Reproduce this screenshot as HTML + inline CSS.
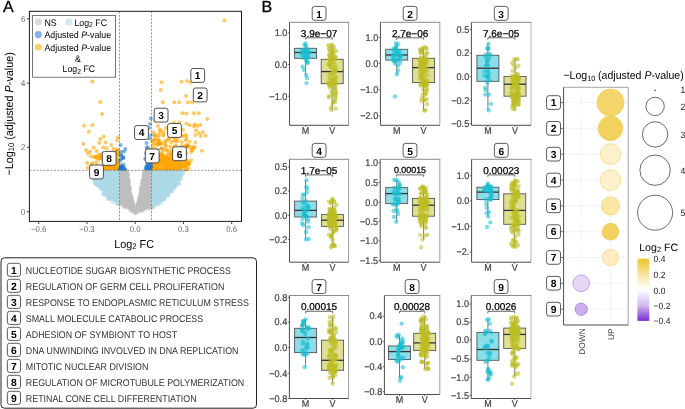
<!DOCTYPE html>
<html><head><meta charset="utf-8"><style>
html,body{margin:0;padding:0;background:#fff;width:685px;height:409px;overflow:hidden;}
svg{display:block;will-change:transform;}
text{font-family:"Liberation Sans",sans-serif;text-rendering:geometricPrecision;}
</style></head><body>
<svg width="685" height="409" viewBox="0 0 685 409" font-family="Liberation Sans, sans-serif">
<rect width="685" height="409" fill="#fff"/>
<clipPath id="clipA"><rect x="29.4" y="11.3" width="212.1" height="210.1"/></clipPath>
<g clip-path="url(#clipA)">
<clipPath id="clipTop"><rect x="29" y="10" width="215" height="161.2"/></clipPath>
<g clip-path="url(#clipTop)">
<polygon points="151.5,171.5 151.5,157.0 156.0,156.0 163.0,158.0 170.0,157.0 177.0,159.0 183.0,162.0 185.0,166.0 184.0,171.5" fill="#ffa500" fill-opacity="0.85"/>
<polygon points="119.5,171.5 101.0,171.5 102.0,166.0 107.0,163.0 113.0,162.0 117.0,159.0 119.5,158.0" fill="#ffa500"/>
<circle cx="164.9" cy="141.4" r="2.0" fill="#ffa500" fill-opacity="0.6"/>
<circle cx="173.7" cy="149.0" r="2.0" fill="#ffa500" fill-opacity="0.6"/>
<circle cx="153.9" cy="154.0" r="2.0" fill="#ffa500" fill-opacity="0.6"/>
<circle cx="153.1" cy="151.4" r="2.0" fill="#ffa500" fill-opacity="0.6"/>
<circle cx="154.4" cy="139.2" r="2.0" fill="#ffa500" fill-opacity="0.6"/>
<circle cx="169.1" cy="165.4" r="2.0" fill="#ffa500" fill-opacity="0.6"/>
<circle cx="156.6" cy="143.9" r="2.0" fill="#ffa500" fill-opacity="0.6"/>
<circle cx="177.5" cy="169.6" r="2.0" fill="#ffa500" fill-opacity="0.6"/>
<circle cx="175.4" cy="150.1" r="2.0" fill="#ffa500" fill-opacity="0.6"/>
<circle cx="187.1" cy="146.3" r="2.0" fill="#ffa500" fill-opacity="0.6"/>
<circle cx="157.5" cy="140.2" r="2.0" fill="#ffa500" fill-opacity="0.6"/>
<circle cx="164.3" cy="165.0" r="2.0" fill="#ffa500" fill-opacity="0.6"/>
<circle cx="159.0" cy="156.6" r="2.0" fill="#ffa500" fill-opacity="0.6"/>
<circle cx="178.0" cy="149.2" r="2.0" fill="#ffa500" fill-opacity="0.6"/>
<circle cx="154.0" cy="143.3" r="2.0" fill="#ffa500" fill-opacity="0.6"/>
<circle cx="179.7" cy="151.2" r="2.0" fill="#ffa500" fill-opacity="0.6"/>
<circle cx="164.5" cy="156.8" r="2.0" fill="#ffa500" fill-opacity="0.6"/>
<circle cx="170.3" cy="146.6" r="2.0" fill="#ffa500" fill-opacity="0.6"/>
<circle cx="184.5" cy="160.8" r="2.0" fill="#ffa500" fill-opacity="0.6"/>
<circle cx="161.6" cy="156.4" r="2.0" fill="#ffa500" fill-opacity="0.6"/>
<circle cx="173.3" cy="167.1" r="2.0" fill="#ffa500" fill-opacity="0.6"/>
<circle cx="181.8" cy="146.2" r="2.0" fill="#ffa500" fill-opacity="0.6"/>
<circle cx="168.9" cy="162.9" r="2.0" fill="#ffa500" fill-opacity="0.6"/>
<circle cx="157.8" cy="153.4" r="2.0" fill="#ffa500" fill-opacity="0.6"/>
<circle cx="153.1" cy="159.7" r="2.0" fill="#ffa500" fill-opacity="0.6"/>
<circle cx="183.2" cy="156.3" r="2.0" fill="#ffa500" fill-opacity="0.6"/>
<circle cx="187.8" cy="147.1" r="2.0" fill="#ffa500" fill-opacity="0.6"/>
<circle cx="180.4" cy="157.1" r="2.0" fill="#ffa500" fill-opacity="0.6"/>
<circle cx="175.6" cy="152.2" r="2.0" fill="#ffa500" fill-opacity="0.6"/>
<circle cx="186.4" cy="169.5" r="2.0" fill="#ffa500" fill-opacity="0.6"/>
<circle cx="171.2" cy="159.6" r="2.0" fill="#ffa500" fill-opacity="0.6"/>
<circle cx="154.0" cy="160.9" r="2.0" fill="#ffa500" fill-opacity="0.6"/>
<circle cx="178.4" cy="171.3" r="2.0" fill="#ffa500" fill-opacity="0.6"/>
<circle cx="185.6" cy="146.1" r="2.0" fill="#ffa500" fill-opacity="0.6"/>
<circle cx="167.5" cy="159.7" r="2.0" fill="#ffa500" fill-opacity="0.6"/>
<circle cx="152.4" cy="152.4" r="2.0" fill="#ffa500" fill-opacity="0.6"/>
<circle cx="158.5" cy="140.2" r="2.0" fill="#ffa500" fill-opacity="0.6"/>
<circle cx="153.9" cy="163.3" r="2.0" fill="#ffa500" fill-opacity="0.6"/>
<circle cx="156.9" cy="144.8" r="2.0" fill="#ffa500" fill-opacity="0.6"/>
<circle cx="167.7" cy="166.9" r="2.0" fill="#ffa500" fill-opacity="0.6"/>
<circle cx="154.8" cy="151.9" r="2.0" fill="#ffa500" fill-opacity="0.6"/>
<circle cx="174.3" cy="167.4" r="2.0" fill="#ffa500" fill-opacity="0.6"/>
<circle cx="185.5" cy="166.7" r="2.0" fill="#ffa500" fill-opacity="0.6"/>
<circle cx="163.1" cy="150.7" r="2.0" fill="#ffa500" fill-opacity="0.6"/>
<circle cx="166.4" cy="167.4" r="2.0" fill="#ffa500" fill-opacity="0.6"/>
<circle cx="158.8" cy="144.2" r="2.0" fill="#ffa500" fill-opacity="0.6"/>
<circle cx="161.2" cy="153.2" r="2.0" fill="#ffa500" fill-opacity="0.6"/>
<circle cx="175.9" cy="145.3" r="2.0" fill="#ffa500" fill-opacity="0.6"/>
<circle cx="151.7" cy="150.9" r="2.0" fill="#ffa500" fill-opacity="0.6"/>
<circle cx="166.8" cy="156.1" r="2.0" fill="#ffa500" fill-opacity="0.6"/>
<circle cx="191.1" cy="160.5" r="2.0" fill="#ffa500" fill-opacity="0.6"/>
<circle cx="172.9" cy="157.9" r="2.0" fill="#ffa500" fill-opacity="0.6"/>
<circle cx="188.8" cy="163.7" r="2.0" fill="#ffa500" fill-opacity="0.6"/>
<circle cx="187.8" cy="164.3" r="2.0" fill="#ffa500" fill-opacity="0.6"/>
<circle cx="167.8" cy="150.2" r="2.0" fill="#ffa500" fill-opacity="0.6"/>
<circle cx="155.8" cy="158.5" r="2.0" fill="#ffa500" fill-opacity="0.6"/>
<circle cx="160.2" cy="141.8" r="2.0" fill="#ffa500" fill-opacity="0.6"/>
<circle cx="155.7" cy="148.9" r="2.0" fill="#ffa500" fill-opacity="0.6"/>
<circle cx="152.6" cy="167.0" r="2.0" fill="#ffa500" fill-opacity="0.6"/>
<circle cx="177.0" cy="141.3" r="2.0" fill="#ffa500" fill-opacity="0.6"/>
<circle cx="162.0" cy="148.3" r="2.0" fill="#ffa500" fill-opacity="0.6"/>
<circle cx="166.6" cy="140.4" r="2.0" fill="#ffa500" fill-opacity="0.6"/>
<circle cx="186.7" cy="171.3" r="2.0" fill="#ffa500" fill-opacity="0.6"/>
<circle cx="170.8" cy="153.2" r="2.0" fill="#ffa500" fill-opacity="0.6"/>
<circle cx="155.1" cy="139.6" r="2.0" fill="#ffa500" fill-opacity="0.6"/>
<circle cx="165.7" cy="145.4" r="2.0" fill="#ffa500" fill-opacity="0.6"/>
<circle cx="152.5" cy="169.8" r="2.0" fill="#ffa500" fill-opacity="0.6"/>
<circle cx="173.4" cy="141.2" r="2.0" fill="#ffa500" fill-opacity="0.6"/>
<circle cx="173.4" cy="170.7" r="2.0" fill="#ffa500" fill-opacity="0.6"/>
<circle cx="187.3" cy="160.7" r="2.0" fill="#ffa500" fill-opacity="0.6"/>
<circle cx="162.3" cy="149.0" r="2.0" fill="#ffa500" fill-opacity="0.6"/>
<circle cx="158.4" cy="163.4" r="2.0" fill="#ffa500" fill-opacity="0.6"/>
<circle cx="173.6" cy="163.7" r="2.0" fill="#ffa500" fill-opacity="0.6"/>
<circle cx="165.2" cy="143.9" r="2.0" fill="#ffa500" fill-opacity="0.6"/>
<circle cx="185.2" cy="171.0" r="2.0" fill="#ffa500" fill-opacity="0.6"/>
<circle cx="186.9" cy="164.6" r="2.0" fill="#ffa500" fill-opacity="0.6"/>
<circle cx="185.5" cy="162.3" r="2.0" fill="#ffa500" fill-opacity="0.6"/>
<circle cx="160.9" cy="154.4" r="2.0" fill="#ffa500" fill-opacity="0.6"/>
<circle cx="152.7" cy="145.9" r="2.0" fill="#ffa500" fill-opacity="0.6"/>
<circle cx="162.3" cy="160.6" r="2.0" fill="#ffa500" fill-opacity="0.6"/>
<circle cx="191.2" cy="151.9" r="2.0" fill="#ffa500" fill-opacity="0.6"/>
<circle cx="191.1" cy="148.9" r="2.0" fill="#ffa500" fill-opacity="0.6"/>
<circle cx="160.6" cy="144.1" r="2.0" fill="#ffa500" fill-opacity="0.6"/>
<circle cx="159.7" cy="143.3" r="2.0" fill="#ffa500" fill-opacity="0.6"/>
<circle cx="177.4" cy="168.0" r="2.0" fill="#ffa500" fill-opacity="0.6"/>
<circle cx="186.4" cy="153.0" r="2.0" fill="#ffa500" fill-opacity="0.6"/>
<circle cx="178.6" cy="164.4" r="2.0" fill="#ffa500" fill-opacity="0.6"/>
<circle cx="155.0" cy="159.5" r="2.0" fill="#ffa500" fill-opacity="0.6"/>
<circle cx="189.3" cy="163.8" r="2.0" fill="#ffa500" fill-opacity="0.6"/>
<circle cx="182.6" cy="153.0" r="2.0" fill="#ffa500" fill-opacity="0.6"/>
<circle cx="158.9" cy="164.0" r="2.0" fill="#ffa500" fill-opacity="0.6"/>
<circle cx="165.3" cy="164.4" r="2.0" fill="#ffa500" fill-opacity="0.6"/>
<circle cx="191.8" cy="150.1" r="2.0" fill="#ffa500" fill-opacity="0.6"/>
<circle cx="168.2" cy="169.6" r="2.0" fill="#ffa500" fill-opacity="0.6"/>
<circle cx="181.6" cy="142.0" r="2.0" fill="#ffa500" fill-opacity="0.6"/>
<circle cx="185.4" cy="167.3" r="2.0" fill="#ffa500" fill-opacity="0.6"/>
<circle cx="157.0" cy="167.8" r="2.0" fill="#ffa500" fill-opacity="0.6"/>
<circle cx="188.3" cy="164.1" r="2.0" fill="#ffa500" fill-opacity="0.6"/>
<circle cx="164.6" cy="161.8" r="2.0" fill="#ffa500" fill-opacity="0.6"/>
<circle cx="187.9" cy="164.0" r="2.0" fill="#ffa500" fill-opacity="0.6"/>
<circle cx="171.2" cy="170.1" r="2.0" fill="#ffa500" fill-opacity="0.6"/>
<circle cx="167.8" cy="168.7" r="2.0" fill="#ffa500" fill-opacity="0.6"/>
<circle cx="182.5" cy="154.5" r="2.0" fill="#ffa500" fill-opacity="0.6"/>
<circle cx="160.9" cy="156.3" r="2.0" fill="#ffa500" fill-opacity="0.6"/>
<circle cx="160.5" cy="162.6" r="2.0" fill="#ffa500" fill-opacity="0.6"/>
<circle cx="161.2" cy="159.0" r="2.0" fill="#ffa500" fill-opacity="0.6"/>
<circle cx="156.4" cy="169.6" r="2.0" fill="#ffa500" fill-opacity="0.6"/>
<circle cx="164.8" cy="159.9" r="2.0" fill="#ffa500" fill-opacity="0.6"/>
<circle cx="173.4" cy="169.4" r="2.0" fill="#ffa500" fill-opacity="0.6"/>
<circle cx="167.3" cy="169.7" r="2.0" fill="#ffa500" fill-opacity="0.6"/>
<circle cx="170.3" cy="161.4" r="2.0" fill="#ffa500" fill-opacity="0.6"/>
<circle cx="171.1" cy="150.4" r="2.0" fill="#ffa500" fill-opacity="0.6"/>
<circle cx="168.0" cy="153.9" r="2.0" fill="#ffa500" fill-opacity="0.6"/>
<circle cx="151.6" cy="167.2" r="2.0" fill="#ffa500" fill-opacity="0.6"/>
<circle cx="158.0" cy="160.2" r="2.0" fill="#ffa500" fill-opacity="0.6"/>
<circle cx="178.7" cy="162.0" r="2.0" fill="#ffa500" fill-opacity="0.6"/>
<circle cx="163.7" cy="161.1" r="2.0" fill="#ffa500" fill-opacity="0.6"/>
<circle cx="172.3" cy="166.9" r="2.0" fill="#ffa500" fill-opacity="0.6"/>
<circle cx="155.5" cy="162.0" r="2.0" fill="#ffa500" fill-opacity="0.6"/>
<circle cx="160.8" cy="156.0" r="2.0" fill="#ffa500" fill-opacity="0.6"/>
<circle cx="180.5" cy="160.9" r="2.0" fill="#ffa500" fill-opacity="0.6"/>
<circle cx="172.6" cy="166.3" r="2.0" fill="#ffa500" fill-opacity="0.6"/>
<circle cx="185.7" cy="159.5" r="2.0" fill="#ffa500" fill-opacity="0.6"/>
<circle cx="174.5" cy="160.9" r="2.0" fill="#ffa500" fill-opacity="0.6"/>
<circle cx="170.7" cy="164.9" r="2.0" fill="#ffa500" fill-opacity="0.6"/>
<circle cx="168.5" cy="161.5" r="2.0" fill="#ffa500" fill-opacity="0.6"/>
<circle cx="169.4" cy="170.2" r="2.0" fill="#ffa500" fill-opacity="0.6"/>
<circle cx="177.7" cy="168.8" r="2.0" fill="#ffa500" fill-opacity="0.6"/>
<circle cx="172.5" cy="170.3" r="2.0" fill="#ffa500" fill-opacity="0.6"/>
<circle cx="183.0" cy="152.9" r="2.0" fill="#ffa500" fill-opacity="0.6"/>
<circle cx="156.1" cy="159.5" r="2.0" fill="#ffa500" fill-opacity="0.6"/>
<circle cx="154.2" cy="164.4" r="2.0" fill="#ffa500" fill-opacity="0.6"/>
<circle cx="180.9" cy="169.3" r="2.0" fill="#ffa500" fill-opacity="0.6"/>
<circle cx="157.3" cy="165.4" r="2.0" fill="#ffa500" fill-opacity="0.6"/>
<circle cx="176.3" cy="153.1" r="2.0" fill="#ffa500" fill-opacity="0.6"/>
<circle cx="184.6" cy="170.8" r="2.0" fill="#ffa500" fill-opacity="0.6"/>
<circle cx="159.7" cy="170.5" r="2.0" fill="#ffa500" fill-opacity="0.6"/>
<circle cx="166.4" cy="160.5" r="2.0" fill="#ffa500" fill-opacity="0.6"/>
<circle cx="188.6" cy="167.9" r="2.0" fill="#ffa500" fill-opacity="0.6"/>
<circle cx="157.6" cy="159.3" r="2.0" fill="#ffa500" fill-opacity="0.6"/>
<circle cx="170.8" cy="157.3" r="2.0" fill="#ffa500" fill-opacity="0.6"/>
<circle cx="158.8" cy="156.8" r="2.0" fill="#ffa500" fill-opacity="0.6"/>
<circle cx="172.3" cy="159.5" r="2.0" fill="#ffa500" fill-opacity="0.6"/>
<circle cx="174.9" cy="161.0" r="2.0" fill="#ffa500" fill-opacity="0.6"/>
<circle cx="153.9" cy="171.2" r="2.0" fill="#ffa500" fill-opacity="0.6"/>
<circle cx="181.1" cy="170.9" r="2.0" fill="#ffa500" fill-opacity="0.6"/>
<circle cx="153.0" cy="166.7" r="2.0" fill="#ffa500" fill-opacity="0.6"/>
<circle cx="167.3" cy="169.6" r="2.0" fill="#ffa500" fill-opacity="0.6"/>
<circle cx="182.2" cy="155.6" r="2.0" fill="#ffa500" fill-opacity="0.6"/>
<circle cx="157.1" cy="169.8" r="2.0" fill="#ffa500" fill-opacity="0.6"/>
<circle cx="172.9" cy="165.1" r="2.0" fill="#ffa500" fill-opacity="0.6"/>
<circle cx="177.3" cy="159.1" r="2.0" fill="#ffa500" fill-opacity="0.6"/>
<circle cx="154.2" cy="170.2" r="2.0" fill="#ffa500" fill-opacity="0.6"/>
<circle cx="175.3" cy="167.2" r="2.0" fill="#ffa500" fill-opacity="0.6"/>
<circle cx="154.6" cy="168.4" r="2.0" fill="#ffa500" fill-opacity="0.6"/>
<circle cx="154.0" cy="168.5" r="2.0" fill="#ffa500" fill-opacity="0.6"/>
<circle cx="168.5" cy="157.3" r="2.0" fill="#ffa500" fill-opacity="0.6"/>
<circle cx="172.2" cy="169.9" r="2.0" fill="#ffa500" fill-opacity="0.6"/>
<circle cx="171.3" cy="155.1" r="2.0" fill="#ffa500" fill-opacity="0.6"/>
<circle cx="163.2" cy="156.6" r="2.0" fill="#ffa500" fill-opacity="0.6"/>
<circle cx="180.0" cy="156.2" r="2.0" fill="#ffa500" fill-opacity="0.6"/>
<circle cx="170.3" cy="153.8" r="2.0" fill="#ffa500" fill-opacity="0.6"/>
<circle cx="179.0" cy="161.8" r="2.0" fill="#ffa500" fill-opacity="0.6"/>
<circle cx="158.6" cy="160.2" r="2.0" fill="#ffa500" fill-opacity="0.6"/>
<circle cx="182.2" cy="159.3" r="2.0" fill="#ffa500" fill-opacity="0.6"/>
<circle cx="170.1" cy="167.9" r="2.0" fill="#ffa500" fill-opacity="0.6"/>
<circle cx="166.2" cy="160.9" r="2.0" fill="#ffa500" fill-opacity="0.6"/>
<circle cx="177.3" cy="171.1" r="2.0" fill="#ffa500" fill-opacity="0.6"/>
<circle cx="164.4" cy="167.9" r="2.0" fill="#ffa500" fill-opacity="0.6"/>
<circle cx="178.0" cy="163.7" r="2.0" fill="#ffa500" fill-opacity="0.6"/>
<circle cx="166.7" cy="157.5" r="2.0" fill="#ffa500" fill-opacity="0.6"/>
<circle cx="154.2" cy="165.9" r="2.0" fill="#ffa500" fill-opacity="0.6"/>
<circle cx="154.7" cy="168.1" r="2.0" fill="#ffa500" fill-opacity="0.6"/>
<circle cx="184.1" cy="164.4" r="2.0" fill="#ffa500" fill-opacity="0.6"/>
<circle cx="162.1" cy="155.2" r="2.0" fill="#ffa500" fill-opacity="0.6"/>
<circle cx="162.5" cy="159.9" r="2.0" fill="#ffa500" fill-opacity="0.6"/>
<circle cx="157.4" cy="159.6" r="2.0" fill="#ffa500" fill-opacity="0.6"/>
<circle cx="161.4" cy="170.7" r="2.0" fill="#ffa500" fill-opacity="0.6"/>
<circle cx="188.0" cy="161.8" r="2.0" fill="#ffa500" fill-opacity="0.6"/>
<circle cx="160.7" cy="170.8" r="2.0" fill="#ffa500" fill-opacity="0.6"/>
<circle cx="163.1" cy="157.7" r="2.0" fill="#ffa500" fill-opacity="0.6"/>
<circle cx="169.3" cy="160.8" r="2.0" fill="#ffa500" fill-opacity="0.6"/>
<circle cx="159.0" cy="160.9" r="2.0" fill="#ffa500" fill-opacity="0.6"/>
<circle cx="154.9" cy="158.6" r="2.0" fill="#ffa500" fill-opacity="0.6"/>
<circle cx="162.9" cy="155.0" r="2.0" fill="#ffa500" fill-opacity="0.6"/>
<circle cx="173.5" cy="161.4" r="2.0" fill="#ffa500" fill-opacity="0.6"/>
<circle cx="179.6" cy="164.1" r="2.0" fill="#ffa500" fill-opacity="0.6"/>
<circle cx="178.3" cy="168.9" r="2.0" fill="#ffa500" fill-opacity="0.6"/>
<circle cx="166.1" cy="157.0" r="2.0" fill="#ffa500" fill-opacity="0.6"/>
<circle cx="178.7" cy="163.8" r="2.0" fill="#ffa500" fill-opacity="0.6"/>
<circle cx="153.1" cy="168.0" r="2.0" fill="#ffa500" fill-opacity="0.6"/>
<circle cx="184.9" cy="163.5" r="2.0" fill="#ffa500" fill-opacity="0.6"/>
<circle cx="179.0" cy="167.5" r="2.0" fill="#ffa500" fill-opacity="0.6"/>
<circle cx="156.7" cy="161.3" r="2.0" fill="#ffa500" fill-opacity="0.6"/>
<circle cx="170.4" cy="168.0" r="2.0" fill="#ffa500" fill-opacity="0.6"/>
<circle cx="181.7" cy="167.8" r="2.0" fill="#ffa500" fill-opacity="0.6"/>
<circle cx="173.4" cy="169.2" r="2.0" fill="#ffa500" fill-opacity="0.6"/>
<circle cx="177.1" cy="164.9" r="2.0" fill="#ffa500" fill-opacity="0.6"/>
<circle cx="156.5" cy="157.8" r="2.0" fill="#ffa500" fill-opacity="0.6"/>
<circle cx="155.4" cy="168.0" r="2.0" fill="#ffa500" fill-opacity="0.6"/>
<circle cx="172.4" cy="163.5" r="2.0" fill="#ffa500" fill-opacity="0.6"/>
<circle cx="175.0" cy="164.6" r="2.0" fill="#ffa500" fill-opacity="0.6"/>
<circle cx="181.4" cy="166.1" r="2.0" fill="#ffa500" fill-opacity="0.6"/>
<circle cx="170.4" cy="161.5" r="2.0" fill="#ffa500" fill-opacity="0.6"/>
<circle cx="176.2" cy="151.4" r="2.0" fill="#ffa500" fill-opacity="0.6"/>
<circle cx="185.9" cy="134.8" r="2.0" fill="#ffa500" fill-opacity="0.55"/>
<circle cx="155.4" cy="135.2" r="2.0" fill="#ffa500" fill-opacity="0.55"/>
<circle cx="174.7" cy="138.3" r="2.0" fill="#ffa500" fill-opacity="0.55"/>
<circle cx="174.0" cy="146.5" r="2.0" fill="#ffa500" fill-opacity="0.55"/>
<circle cx="187.3" cy="144.7" r="2.0" fill="#ffa500" fill-opacity="0.55"/>
<circle cx="158.8" cy="134.9" r="2.0" fill="#ffa500" fill-opacity="0.55"/>
<circle cx="186.2" cy="136.2" r="2.0" fill="#ffa500" fill-opacity="0.55"/>
<circle cx="154.8" cy="135.3" r="2.0" fill="#ffa500" fill-opacity="0.55"/>
<circle cx="182.9" cy="146.7" r="2.0" fill="#ffa500" fill-opacity="0.55"/>
<circle cx="183.1" cy="135.9" r="2.0" fill="#ffa500" fill-opacity="0.55"/>
<circle cx="175.8" cy="140.5" r="2.0" fill="#ffa500" fill-opacity="0.55"/>
<circle cx="152.8" cy="140.4" r="2.0" fill="#ffa500" fill-opacity="0.55"/>
<circle cx="172.7" cy="135.3" r="2.0" fill="#ffa500" fill-opacity="0.55"/>
<circle cx="161.7" cy="143.7" r="2.0" fill="#ffa500" fill-opacity="0.55"/>
<circle cx="158.5" cy="142.1" r="2.0" fill="#ffa500" fill-opacity="0.55"/>
<circle cx="189.7" cy="141.7" r="2.0" fill="#ffa500" fill-opacity="0.55"/>
<circle cx="192.8" cy="147.0" r="2.0" fill="#ffa500" fill-opacity="0.55"/>
<circle cx="152.2" cy="141.3" r="2.0" fill="#ffa500" fill-opacity="0.55"/>
<circle cx="172.7" cy="136.2" r="2.0" fill="#ffa500" fill-opacity="0.55"/>
<circle cx="158.5" cy="137.3" r="2.0" fill="#ffa500" fill-opacity="0.55"/>
<circle cx="166.5" cy="150.7" r="2.0" fill="#ffa500" fill-opacity="0.55"/>
<circle cx="152.1" cy="148.3" r="2.0" fill="#ffa500" fill-opacity="0.55"/>
<circle cx="194.6" cy="147.3" r="2.0" fill="#ffa500" fill-opacity="0.55"/>
<circle cx="169.1" cy="138.6" r="2.0" fill="#ffa500" fill-opacity="0.55"/>
<circle cx="168.6" cy="139.6" r="2.0" fill="#ffa500" fill-opacity="0.55"/>
<circle cx="156.7" cy="150.5" r="2.0" fill="#ffa500" fill-opacity="0.55"/>
<circle cx="163.5" cy="135.2" r="2.0" fill="#ffa500" fill-opacity="0.55"/>
<circle cx="175.5" cy="133.1" r="2.0" fill="#ffa500" fill-opacity="0.55"/>
<circle cx="192.7" cy="149.9" r="2.0" fill="#ffa500" fill-opacity="0.55"/>
<circle cx="195.3" cy="142.8" r="2.0" fill="#ffa500" fill-opacity="0.55"/>
<circle cx="185.7" cy="140.2" r="2.0" fill="#ffa500" fill-opacity="0.55"/>
<circle cx="186.6" cy="145.4" r="2.0" fill="#ffa500" fill-opacity="0.55"/>
<circle cx="173.7" cy="137.3" r="2.0" fill="#ffa500" fill-opacity="0.55"/>
<circle cx="165.7" cy="148.0" r="2.0" fill="#ffa500" fill-opacity="0.55"/>
<circle cx="182.2" cy="136.1" r="2.0" fill="#ffa500" fill-opacity="0.55"/>
<circle cx="177.6" cy="138.6" r="2.0" fill="#ffa500" fill-opacity="0.55"/>
<circle cx="159.7" cy="132.4" r="2.0" fill="#ffa500" fill-opacity="0.55"/>
<circle cx="174.9" cy="133.9" r="2.0" fill="#ffa500" fill-opacity="0.55"/>
<circle cx="160.9" cy="130.4" r="2.0" fill="#ffa500" fill-opacity="0.55"/>
<circle cx="163.0" cy="135.0" r="2.0" fill="#ffa500" fill-opacity="0.55"/>
<circle cx="178.2" cy="152.0" r="2.0" fill="#ffa500" fill-opacity="0.55"/>
<circle cx="186.5" cy="139.1" r="2.0" fill="#ffa500" fill-opacity="0.55"/>
<circle cx="171.0" cy="142.2" r="2.0" fill="#ffa500" fill-opacity="0.55"/>
<circle cx="169.3" cy="137.1" r="2.0" fill="#ffa500" fill-opacity="0.55"/>
<circle cx="154.9" cy="135.5" r="2.0" fill="#ffa500" fill-opacity="0.55"/>
<circle cx="118.5" cy="151.0" r="2.0" fill="#ffa500" fill-opacity="0.6"/>
<circle cx="104.9" cy="162.8" r="2.0" fill="#ffa500" fill-opacity="0.6"/>
<circle cx="115.5" cy="153.1" r="2.0" fill="#ffa500" fill-opacity="0.6"/>
<circle cx="101.8" cy="158.5" r="2.0" fill="#ffa500" fill-opacity="0.6"/>
<circle cx="118.1" cy="167.9" r="2.0" fill="#ffa500" fill-opacity="0.6"/>
<circle cx="91.0" cy="164.7" r="2.0" fill="#ffa500" fill-opacity="0.6"/>
<circle cx="116.4" cy="159.1" r="2.0" fill="#ffa500" fill-opacity="0.6"/>
<circle cx="101.5" cy="169.8" r="2.0" fill="#ffa500" fill-opacity="0.6"/>
<circle cx="114.4" cy="168.1" r="2.0" fill="#ffa500" fill-opacity="0.6"/>
<circle cx="118.7" cy="153.8" r="2.0" fill="#ffa500" fill-opacity="0.6"/>
<circle cx="105.4" cy="164.0" r="2.0" fill="#ffa500" fill-opacity="0.6"/>
<circle cx="117.8" cy="165.0" r="2.0" fill="#ffa500" fill-opacity="0.6"/>
<circle cx="109.1" cy="166.0" r="2.0" fill="#ffa500" fill-opacity="0.6"/>
<circle cx="103.5" cy="161.0" r="2.0" fill="#ffa500" fill-opacity="0.6"/>
<circle cx="91.2" cy="166.4" r="2.0" fill="#ffa500" fill-opacity="0.6"/>
<circle cx="96.9" cy="169.6" r="2.0" fill="#ffa500" fill-opacity="0.6"/>
<circle cx="109.0" cy="155.1" r="2.0" fill="#ffa500" fill-opacity="0.6"/>
<circle cx="108.8" cy="164.4" r="2.0" fill="#ffa500" fill-opacity="0.6"/>
<circle cx="105.5" cy="161.7" r="2.0" fill="#ffa500" fill-opacity="0.6"/>
<circle cx="98.9" cy="158.8" r="2.0" fill="#ffa500" fill-opacity="0.6"/>
<circle cx="118.3" cy="163.1" r="2.0" fill="#ffa500" fill-opacity="0.6"/>
<circle cx="116.1" cy="159.2" r="2.0" fill="#ffa500" fill-opacity="0.6"/>
<circle cx="118.3" cy="164.6" r="2.0" fill="#ffa500" fill-opacity="0.6"/>
<circle cx="104.7" cy="163.8" r="2.0" fill="#ffa500" fill-opacity="0.6"/>
<circle cx="102.4" cy="154.0" r="2.0" fill="#ffa500" fill-opacity="0.6"/>
<circle cx="109.7" cy="169.7" r="2.0" fill="#ffa500" fill-opacity="0.6"/>
<circle cx="100.0" cy="157.9" r="2.0" fill="#ffa500" fill-opacity="0.6"/>
<circle cx="110.1" cy="152.7" r="2.0" fill="#ffa500" fill-opacity="0.6"/>
<circle cx="113.5" cy="165.4" r="2.0" fill="#ffa500" fill-opacity="0.6"/>
<circle cx="118.6" cy="155.3" r="2.0" fill="#ffa500" fill-opacity="0.6"/>
<circle cx="114.2" cy="153.4" r="2.0" fill="#ffa500" fill-opacity="0.6"/>
<circle cx="96.5" cy="165.9" r="2.0" fill="#ffa500" fill-opacity="0.6"/>
<circle cx="98.7" cy="170.4" r="2.0" fill="#ffa500" fill-opacity="0.6"/>
<circle cx="96.6" cy="157.8" r="2.0" fill="#ffa500" fill-opacity="0.6"/>
<circle cx="109.6" cy="170.3" r="2.0" fill="#ffa500" fill-opacity="0.6"/>
<circle cx="94.3" cy="157.2" r="2.0" fill="#ffa500" fill-opacity="0.6"/>
<circle cx="96.3" cy="170.9" r="2.0" fill="#ffa500" fill-opacity="0.6"/>
<circle cx="116.5" cy="168.8" r="2.0" fill="#ffa500" fill-opacity="0.6"/>
<circle cx="111.6" cy="171.4" r="2.0" fill="#ffa500" fill-opacity="0.6"/>
<circle cx="117.5" cy="155.7" r="2.0" fill="#ffa500" fill-opacity="0.6"/>
<circle cx="95.5" cy="170.0" r="2.0" fill="#ffa500" fill-opacity="0.6"/>
<circle cx="109.6" cy="156.9" r="2.0" fill="#ffa500" fill-opacity="0.6"/>
<circle cx="101.0" cy="155.8" r="2.0" fill="#ffa500" fill-opacity="0.6"/>
<circle cx="98.3" cy="156.3" r="2.0" fill="#ffa500" fill-opacity="0.6"/>
<circle cx="118.2" cy="150.9" r="2.0" fill="#ffa500" fill-opacity="0.6"/>
<circle cx="118.4" cy="152.9" r="2.0" fill="#ffa500" fill-opacity="0.6"/>
<circle cx="100.5" cy="167.3" r="2.0" fill="#ffa500" fill-opacity="0.6"/>
<circle cx="114.2" cy="158.2" r="2.0" fill="#ffa500" fill-opacity="0.6"/>
<circle cx="101.0" cy="169.6" r="2.0" fill="#ffa500" fill-opacity="0.6"/>
<circle cx="95.7" cy="156.6" r="2.0" fill="#ffa500" fill-opacity="0.6"/>
<circle cx="102.1" cy="167.1" r="2.0" fill="#ffa500" fill-opacity="0.6"/>
<circle cx="117.1" cy="154.0" r="2.0" fill="#ffa500" fill-opacity="0.6"/>
<circle cx="112.0" cy="169.1" r="2.0" fill="#ffa500" fill-opacity="0.6"/>
<circle cx="100.0" cy="154.4" r="2.0" fill="#ffa500" fill-opacity="0.6"/>
<circle cx="118.3" cy="162.5" r="2.0" fill="#ffa500" fill-opacity="0.6"/>
<circle cx="92.3" cy="81.6" r="2.0" fill="#ffa500" fill-opacity="0.6"/>
<circle cx="100.2" cy="102.1" r="2.0" fill="#ffa500" fill-opacity="0.6"/>
<circle cx="102.1" cy="113.9" r="2.0" fill="#ffa500" fill-opacity="0.6"/>
<circle cx="84.1" cy="125.7" r="2.0" fill="#ffa500" fill-opacity="0.6"/>
<circle cx="92.5" cy="125.1" r="2.0" fill="#ffa500" fill-opacity="0.6"/>
<circle cx="88.9" cy="131.8" r="2.0" fill="#ffa500" fill-opacity="0.6"/>
<circle cx="103.9" cy="136.4" r="2.0" fill="#ffa500" fill-opacity="0.6"/>
<circle cx="100.3" cy="139.1" r="2.0" fill="#ffa500" fill-opacity="0.6"/>
<circle cx="118.1" cy="137.2" r="2.0" fill="#ffa500" fill-opacity="0.6"/>
<circle cx="117.1" cy="140.2" r="2.0" fill="#ffa500" fill-opacity="0.6"/>
<circle cx="83.3" cy="143.9" r="2.0" fill="#ffa500" fill-opacity="0.6"/>
<circle cx="99.2" cy="142.9" r="2.0" fill="#ffa500" fill-opacity="0.6"/>
<circle cx="105.7" cy="142.6" r="2.0" fill="#ffa500" fill-opacity="0.6"/>
<circle cx="111.1" cy="144.9" r="2.0" fill="#ffa500" fill-opacity="0.6"/>
<circle cx="93.8" cy="147.6" r="2.0" fill="#ffa500" fill-opacity="0.6"/>
<circle cx="103.3" cy="147.6" r="2.0" fill="#ffa500" fill-opacity="0.6"/>
<circle cx="106.6" cy="148.3" r="2.0" fill="#ffa500" fill-opacity="0.6"/>
<circle cx="86.0" cy="149.9" r="2.0" fill="#ffa500" fill-opacity="0.6"/>
<circle cx="90.1" cy="151.6" r="2.0" fill="#ffa500" fill-opacity="0.6"/>
<circle cx="96.5" cy="150.9" r="2.0" fill="#ffa500" fill-opacity="0.6"/>
<circle cx="113.3" cy="148.9" r="2.0" fill="#ffa500" fill-opacity="0.6"/>
<circle cx="116.7" cy="149.6" r="2.0" fill="#ffa500" fill-opacity="0.6"/>
<circle cx="87.8" cy="153.6" r="2.0" fill="#ffa500" fill-opacity="0.6"/>
<circle cx="91.1" cy="156.3" r="2.0" fill="#ffa500" fill-opacity="0.6"/>
<circle cx="95.2" cy="157.0" r="2.0" fill="#ffa500" fill-opacity="0.6"/>
<circle cx="98.5" cy="155.0" r="2.0" fill="#ffa500" fill-opacity="0.6"/>
<circle cx="98.5" cy="159.0" r="2.0" fill="#ffa500" fill-opacity="0.6"/>
<circle cx="87.1" cy="163.0" r="2.0" fill="#ffa500" fill-opacity="0.6"/>
<circle cx="92.5" cy="163.0" r="2.0" fill="#ffa500" fill-opacity="0.6"/>
<circle cx="96.5" cy="162.4" r="2.0" fill="#ffa500" fill-opacity="0.6"/>
<circle cx="87.8" cy="167.8" r="2.0" fill="#ffa500" fill-opacity="0.6"/>
<circle cx="224.4" cy="20.5" r="2.0" fill="#ffa500" fill-opacity="0.6"/>
<circle cx="161.5" cy="82.2" r="2.0" fill="#ffa500" fill-opacity="0.6"/>
<circle cx="160.8" cy="90.0" r="2.0" fill="#ffa500" fill-opacity="0.6"/>
<circle cx="181.6" cy="81.7" r="2.0" fill="#ffa500" fill-opacity="0.6"/>
<circle cx="187.0" cy="81.0" r="2.0" fill="#ffa500" fill-opacity="0.6"/>
<circle cx="190.7" cy="82.5" r="2.0" fill="#ffa500" fill-opacity="0.6"/>
<circle cx="162.8" cy="102.3" r="2.0" fill="#ffa500" fill-opacity="0.6"/>
<circle cx="174.3" cy="102.3" r="2.0" fill="#ffa500" fill-opacity="0.6"/>
<circle cx="179.2" cy="102.3" r="2.0" fill="#ffa500" fill-opacity="0.6"/>
<circle cx="187.7" cy="102.3" r="2.0" fill="#ffa500" fill-opacity="0.6"/>
<circle cx="192.1" cy="102.3" r="2.0" fill="#ffa500" fill-opacity="0.6"/>
<circle cx="186.1" cy="96.0" r="2.0" fill="#ffa500" fill-opacity="0.6"/>
<circle cx="182.5" cy="113.2" r="2.0" fill="#ffa500" fill-opacity="0.6"/>
<circle cx="186.5" cy="113.6" r="2.0" fill="#ffa500" fill-opacity="0.6"/>
<circle cx="193.9" cy="113.2" r="2.0" fill="#ffa500" fill-opacity="0.6"/>
<circle cx="198.8" cy="113.2" r="2.0" fill="#ffa500" fill-opacity="0.6"/>
<circle cx="207.2" cy="119.0" r="2.0" fill="#ffa500" fill-opacity="0.6"/>
<circle cx="174.3" cy="122.4" r="2.0" fill="#ffa500" fill-opacity="0.6"/>
<circle cx="179.2" cy="122.4" r="2.0" fill="#ffa500" fill-opacity="0.6"/>
<circle cx="186.5" cy="123.4" r="2.0" fill="#ffa500" fill-opacity="0.6"/>
<circle cx="189.6" cy="125.3" r="2.0" fill="#ffa500" fill-opacity="0.6"/>
<circle cx="194.9" cy="124.3" r="2.0" fill="#ffa500" fill-opacity="0.6"/>
<circle cx="197.4" cy="125.9" r="2.0" fill="#ffa500" fill-opacity="0.6"/>
<circle cx="200.3" cy="124.9" r="2.0" fill="#ffa500" fill-opacity="0.6"/>
<circle cx="193.9" cy="126.3" r="2.0" fill="#ffa500" fill-opacity="0.6"/>
<circle cx="195.8" cy="130.2" r="2.0" fill="#ffa500" fill-opacity="0.6"/>
<circle cx="198.8" cy="133.1" r="2.0" fill="#ffa500" fill-opacity="0.6"/>
<circle cx="202.7" cy="132.2" r="2.0" fill="#ffa500" fill-opacity="0.6"/>
<circle cx="205.6" cy="135.7" r="2.0" fill="#ffa500" fill-opacity="0.6"/>
<circle cx="195.4" cy="135.1" r="2.0" fill="#ffa500" fill-opacity="0.6"/>
<circle cx="200.7" cy="136.1" r="2.0" fill="#ffa500" fill-opacity="0.6"/>
<circle cx="159.7" cy="129.8" r="2.0" fill="#ffa500" fill-opacity="0.6"/>
<circle cx="163.6" cy="132.2" r="2.0" fill="#ffa500" fill-opacity="0.6"/>
<circle cx="153.8" cy="132.2" r="2.0" fill="#ffa500" fill-opacity="0.6"/>
<circle cx="202.1" cy="150.7" r="2.0" fill="#ffa500" fill-opacity="0.6"/>
<circle cx="193.9" cy="147.4" r="2.0" fill="#ffa500" fill-opacity="0.6"/>
<circle cx="189.0" cy="146.2" r="2.0" fill="#ffa500" fill-opacity="0.6"/>
<circle cx="155.0" cy="121.0" r="2.0" fill="#ffa500" fill-opacity="0.6"/>
<circle cx="158.0" cy="126.0" r="2.0" fill="#ffa500" fill-opacity="0.6"/>
<circle cx="166.0" cy="128.0" r="2.0" fill="#ffa500" fill-opacity="0.6"/>
<circle cx="170.0" cy="131.0" r="2.0" fill="#ffa500" fill-opacity="0.6"/>
<circle cx="176.0" cy="134.0" r="2.0" fill="#ffa500" fill-opacity="0.6"/>
<circle cx="183.0" cy="130.0" r="2.0" fill="#ffa500" fill-opacity="0.6"/>
<circle cx="121.2" cy="169.7" r="2.0" fill="#1f78d2" fill-opacity="0.6"/>
<circle cx="121.6" cy="166.8" r="2.0" fill="#1f78d2" fill-opacity="0.6"/>
<circle cx="119.5" cy="169.9" r="2.0" fill="#1f78d2" fill-opacity="0.6"/>
<circle cx="121.0" cy="168.1" r="2.0" fill="#1f78d2" fill-opacity="0.6"/>
<circle cx="125.7" cy="171.2" r="2.0" fill="#1f78d2" fill-opacity="0.6"/>
<circle cx="122.0" cy="166.6" r="2.0" fill="#1f78d2" fill-opacity="0.6"/>
<circle cx="122.3" cy="168.2" r="2.0" fill="#1f78d2" fill-opacity="0.6"/>
<circle cx="124.7" cy="169.8" r="2.0" fill="#1f78d2" fill-opacity="0.6"/>
<circle cx="124.8" cy="170.0" r="2.0" fill="#1f78d2" fill-opacity="0.6"/>
<circle cx="123.4" cy="167.1" r="2.0" fill="#1f78d2" fill-opacity="0.6"/>
<circle cx="121.6" cy="167.4" r="2.0" fill="#1f78d2" fill-opacity="0.6"/>
<circle cx="120.8" cy="169.9" r="2.0" fill="#1f78d2" fill-opacity="0.6"/>
<circle cx="121.1" cy="165.4" r="2.0" fill="#1f78d2" fill-opacity="0.6"/>
<circle cx="119.7" cy="168.6" r="2.0" fill="#1f78d2" fill-opacity="0.6"/>
<circle cx="121.6" cy="171.1" r="2.0" fill="#1f78d2" fill-opacity="0.55"/>
<circle cx="125.2" cy="171.2" r="2.0" fill="#1f78d2" fill-opacity="0.55"/>
<circle cx="121.2" cy="151.8" r="2.0" fill="#1f78d2" fill-opacity="0.55"/>
<circle cx="120.1" cy="160.7" r="2.0" fill="#1f78d2" fill-opacity="0.55"/>
<circle cx="121.0" cy="159.0" r="2.0" fill="#1f78d2" fill-opacity="0.55"/>
<circle cx="123.5" cy="164.5" r="2.0" fill="#1f78d2" fill-opacity="0.55"/>
<circle cx="124.4" cy="168.2" r="2.0" fill="#1f78d2" fill-opacity="0.55"/>
<circle cx="123.2" cy="158.0" r="2.0" fill="#1f78d2" fill-opacity="0.55"/>
<circle cx="121.1" cy="155.3" r="2.0" fill="#1f78d2" fill-opacity="0.55"/>
<circle cx="120.5" cy="169.0" r="2.0" fill="#1f78d2" fill-opacity="0.55"/>
<circle cx="123.3" cy="157.0" r="2.0" fill="#1f78d2" fill-opacity="0.55"/>
<circle cx="122.1" cy="171.3" r="2.0" fill="#1f78d2" fill-opacity="0.55"/>
<circle cx="147.8" cy="163.4" r="2.0" fill="#1f78d2" fill-opacity="0.6"/>
<circle cx="150.1" cy="167.9" r="2.0" fill="#1f78d2" fill-opacity="0.6"/>
<circle cx="151.4" cy="162.1" r="2.0" fill="#1f78d2" fill-opacity="0.6"/>
<circle cx="147.6" cy="169.6" r="2.0" fill="#1f78d2" fill-opacity="0.6"/>
<circle cx="150.3" cy="170.6" r="2.0" fill="#1f78d2" fill-opacity="0.6"/>
<circle cx="151.3" cy="167.1" r="2.0" fill="#1f78d2" fill-opacity="0.6"/>
<circle cx="151.0" cy="164.9" r="2.0" fill="#1f78d2" fill-opacity="0.6"/>
<circle cx="150.5" cy="165.7" r="2.0" fill="#1f78d2" fill-opacity="0.6"/>
<circle cx="145.9" cy="169.2" r="2.0" fill="#1f78d2" fill-opacity="0.6"/>
<circle cx="151.1" cy="162.1" r="2.0" fill="#1f78d2" fill-opacity="0.6"/>
<circle cx="148.5" cy="167.5" r="2.0" fill="#1f78d2" fill-opacity="0.6"/>
<circle cx="145.9" cy="167.3" r="2.0" fill="#1f78d2" fill-opacity="0.6"/>
<circle cx="148.9" cy="163.1" r="2.0" fill="#1f78d2" fill-opacity="0.6"/>
<circle cx="149.1" cy="162.9" r="2.0" fill="#1f78d2" fill-opacity="0.6"/>
<circle cx="150.0" cy="166.8" r="2.0" fill="#1f78d2" fill-opacity="0.6"/>
<circle cx="147.0" cy="166.8" r="2.0" fill="#1f78d2" fill-opacity="0.6"/>
<circle cx="145.2" cy="158.9" r="2.0" fill="#1f78d2" fill-opacity="0.55"/>
<circle cx="146.3" cy="169.6" r="2.0" fill="#1f78d2" fill-opacity="0.55"/>
<circle cx="146.3" cy="153.5" r="2.0" fill="#1f78d2" fill-opacity="0.55"/>
<circle cx="146.7" cy="147.3" r="2.0" fill="#1f78d2" fill-opacity="0.55"/>
<circle cx="150.5" cy="171.4" r="2.0" fill="#1f78d2" fill-opacity="0.55"/>
<circle cx="149.5" cy="138.5" r="2.0" fill="#1f78d2" fill-opacity="0.55"/>
<circle cx="147.2" cy="164.0" r="2.0" fill="#1f78d2" fill-opacity="0.55"/>
<circle cx="147.0" cy="166.6" r="2.0" fill="#1f78d2" fill-opacity="0.55"/>
<circle cx="148.8" cy="167.8" r="2.0" fill="#1f78d2" fill-opacity="0.55"/>
<circle cx="146.8" cy="150.9" r="2.0" fill="#1f78d2" fill-opacity="0.55"/>
<circle cx="147.9" cy="168.4" r="2.0" fill="#1f78d2" fill-opacity="0.55"/>
<circle cx="150.0" cy="170.1" r="2.0" fill="#1f78d2" fill-opacity="0.55"/>
<circle cx="120.7" cy="144.9" r="2.0" fill="#1f78d2" fill-opacity="0.55"/>
<circle cx="125.4" cy="148.9" r="2.0" fill="#1f78d2" fill-opacity="0.55"/>
<circle cx="124.1" cy="151.6" r="2.0" fill="#1f78d2" fill-opacity="0.55"/>
<circle cx="150.9" cy="118.5" r="2.0" fill="#1f78d2" fill-opacity="0.55"/>
<circle cx="150.0" cy="124.0" r="2.0" fill="#1f78d2" fill-opacity="0.55"/>
<circle cx="149.0" cy="128.0" r="2.0" fill="#1f78d2" fill-opacity="0.55"/>
<circle cx="151.0" cy="135.0" r="2.0" fill="#1f78d2" fill-opacity="0.55"/>
<circle cx="146.5" cy="143.0" r="2.0" fill="#1f78d2" fill-opacity="0.55"/>
<circle cx="148.0" cy="148.0" r="2.0" fill="#1f78d2" fill-opacity="0.55"/>
<circle cx="121.0" cy="155.0" r="2.0" fill="#1f78d2" fill-opacity="0.55"/>
<circle cx="123.0" cy="158.0" r="2.0" fill="#1f78d2" fill-opacity="0.55"/>
</g>
<polygon points="119.5,170.3 91.0,170.3 92.0,174.0 93.2,178.4 96.0,183.5 99.8,188.3 104.0,193.5 108.6,198.3 114.0,201.5 119.5,203.8" fill="#add8e6"/>
<polygon points="151.5,170.3 182.5,170.3 182.0,175.0 179.0,182.8 174.0,189.5 168.0,196.0 162.0,201.5 156.0,205.0 151.5,207.0" fill="#add8e6"/>
<circle cx="90.3" cy="172.1" r="2" fill="#add8e6" fill-opacity="0.6"/>
<circle cx="91.9" cy="172.8" r="2" fill="#add8e6" fill-opacity="0.6"/>
<circle cx="91.7" cy="174.7" r="2" fill="#add8e6" fill-opacity="0.6"/>
<circle cx="92.4" cy="171.8" r="2" fill="#add8e6" fill-opacity="0.6"/>
<circle cx="91.1" cy="173.0" r="2" fill="#add8e6" fill-opacity="0.6"/>
<circle cx="93.8" cy="177.0" r="2" fill="#add8e6" fill-opacity="0.6"/>
<circle cx="92.0" cy="175.0" r="2" fill="#add8e6" fill-opacity="0.6"/>
<circle cx="91.6" cy="175.1" r="2" fill="#add8e6" fill-opacity="0.6"/>
<circle cx="93.8" cy="176.1" r="2" fill="#add8e6" fill-opacity="0.6"/>
<circle cx="93.3" cy="175.4" r="2" fill="#add8e6" fill-opacity="0.6"/>
<circle cx="94.6" cy="182.9" r="2" fill="#add8e6" fill-opacity="0.6"/>
<circle cx="95.0" cy="180.7" r="2" fill="#add8e6" fill-opacity="0.6"/>
<circle cx="94.6" cy="180.4" r="2" fill="#add8e6" fill-opacity="0.6"/>
<circle cx="94.9" cy="181.6" r="2" fill="#add8e6" fill-opacity="0.6"/>
<circle cx="93.6" cy="178.5" r="2" fill="#add8e6" fill-opacity="0.6"/>
<circle cx="97.5" cy="185.3" r="2" fill="#add8e6" fill-opacity="0.6"/>
<circle cx="97.0" cy="185.6" r="2" fill="#add8e6" fill-opacity="0.6"/>
<circle cx="95.5" cy="183.8" r="2" fill="#add8e6" fill-opacity="0.6"/>
<circle cx="96.2" cy="184.0" r="2" fill="#add8e6" fill-opacity="0.6"/>
<circle cx="96.5" cy="182.7" r="2" fill="#add8e6" fill-opacity="0.6"/>
<circle cx="103.5" cy="192.1" r="2" fill="#add8e6" fill-opacity="0.6"/>
<circle cx="100.0" cy="188.3" r="2" fill="#add8e6" fill-opacity="0.6"/>
<circle cx="102.9" cy="194.1" r="2" fill="#add8e6" fill-opacity="0.6"/>
<circle cx="104.5" cy="194.2" r="2" fill="#add8e6" fill-opacity="0.6"/>
<circle cx="101.8" cy="189.3" r="2" fill="#add8e6" fill-opacity="0.6"/>
<circle cx="109.4" cy="197.3" r="2" fill="#add8e6" fill-opacity="0.6"/>
<circle cx="108.7" cy="196.2" r="2" fill="#add8e6" fill-opacity="0.6"/>
<circle cx="106.2" cy="194.4" r="2" fill="#add8e6" fill-opacity="0.6"/>
<circle cx="107.6" cy="198.6" r="2" fill="#add8e6" fill-opacity="0.6"/>
<circle cx="104.7" cy="195.2" r="2" fill="#add8e6" fill-opacity="0.6"/>
<circle cx="109.2" cy="199.0" r="2" fill="#add8e6" fill-opacity="0.6"/>
<circle cx="109.2" cy="198.6" r="2" fill="#add8e6" fill-opacity="0.6"/>
<circle cx="110.5" cy="199.2" r="2" fill="#add8e6" fill-opacity="0.6"/>
<circle cx="112.6" cy="201.8" r="2" fill="#add8e6" fill-opacity="0.6"/>
<circle cx="109.3" cy="199.0" r="2" fill="#add8e6" fill-opacity="0.6"/>
<circle cx="116.9" cy="202.5" r="2" fill="#add8e6" fill-opacity="0.6"/>
<circle cx="118.1" cy="201.9" r="2" fill="#add8e6" fill-opacity="0.6"/>
<circle cx="119.8" cy="203.5" r="2" fill="#add8e6" fill-opacity="0.6"/>
<circle cx="117.8" cy="204.5" r="2" fill="#add8e6" fill-opacity="0.6"/>
<circle cx="116.8" cy="203.5" r="2" fill="#add8e6" fill-opacity="0.6"/>
<circle cx="181.5" cy="173.0" r="2" fill="#add8e6" fill-opacity="0.6"/>
<circle cx="183.2" cy="169.9" r="2" fill="#add8e6" fill-opacity="0.6"/>
<circle cx="183.3" cy="173.5" r="2" fill="#add8e6" fill-opacity="0.6"/>
<circle cx="181.7" cy="172.2" r="2" fill="#add8e6" fill-opacity="0.6"/>
<circle cx="181.6" cy="170.7" r="2" fill="#add8e6" fill-opacity="0.6"/>
<circle cx="180.7" cy="179.3" r="2" fill="#add8e6" fill-opacity="0.6"/>
<circle cx="180.9" cy="176.4" r="2" fill="#add8e6" fill-opacity="0.6"/>
<circle cx="180.7" cy="174.8" r="2" fill="#add8e6" fill-opacity="0.6"/>
<circle cx="181.3" cy="175.2" r="2" fill="#add8e6" fill-opacity="0.6"/>
<circle cx="180.5" cy="178.8" r="2" fill="#add8e6" fill-opacity="0.6"/>
<circle cx="175.8" cy="186.1" r="2" fill="#add8e6" fill-opacity="0.6"/>
<circle cx="173.7" cy="188.2" r="2" fill="#add8e6" fill-opacity="0.6"/>
<circle cx="178.9" cy="184.3" r="2" fill="#add8e6" fill-opacity="0.6"/>
<circle cx="174.9" cy="187.5" r="2" fill="#add8e6" fill-opacity="0.6"/>
<circle cx="179.3" cy="183.0" r="2" fill="#add8e6" fill-opacity="0.6"/>
<circle cx="172.2" cy="191.6" r="2" fill="#add8e6" fill-opacity="0.6"/>
<circle cx="168.9" cy="195.0" r="2" fill="#add8e6" fill-opacity="0.6"/>
<circle cx="167.5" cy="195.4" r="2" fill="#add8e6" fill-opacity="0.6"/>
<circle cx="170.9" cy="191.1" r="2" fill="#add8e6" fill-opacity="0.6"/>
<circle cx="168.2" cy="194.7" r="2" fill="#add8e6" fill-opacity="0.6"/>
<circle cx="161.5" cy="200.5" r="2" fill="#add8e6" fill-opacity="0.6"/>
<circle cx="164.4" cy="199.7" r="2" fill="#add8e6" fill-opacity="0.6"/>
<circle cx="162.3" cy="200.0" r="2" fill="#add8e6" fill-opacity="0.6"/>
<circle cx="165.1" cy="198.6" r="2" fill="#add8e6" fill-opacity="0.6"/>
<circle cx="163.8" cy="199.1" r="2" fill="#add8e6" fill-opacity="0.6"/>
<circle cx="157.5" cy="204.4" r="2" fill="#add8e6" fill-opacity="0.6"/>
<circle cx="157.4" cy="203.4" r="2" fill="#add8e6" fill-opacity="0.6"/>
<circle cx="160.7" cy="200.8" r="2" fill="#add8e6" fill-opacity="0.6"/>
<circle cx="160.6" cy="203.1" r="2" fill="#add8e6" fill-opacity="0.6"/>
<circle cx="157.4" cy="203.9" r="2" fill="#add8e6" fill-opacity="0.6"/>
<circle cx="153.4" cy="206.8" r="2" fill="#add8e6" fill-opacity="0.6"/>
<circle cx="153.1" cy="206.4" r="2" fill="#add8e6" fill-opacity="0.6"/>
<circle cx="151.0" cy="207.8" r="2" fill="#add8e6" fill-opacity="0.6"/>
<circle cx="155.4" cy="204.4" r="2" fill="#add8e6" fill-opacity="0.6"/>
<circle cx="153.7" cy="207.1" r="2" fill="#add8e6" fill-opacity="0.6"/>
<polygon points="119.5,170.3 151.5,170.3 151.5,207.0 146.0,209.5 140.5,211.8 135.5,213.4 130.0,210.5 124.5,207.0 119.5,203.8" fill="#bebebe"/>
<circle cx="150.3" cy="207.4" r="1.8" fill="#bebebe" fill-opacity="0.5"/>
<circle cx="150.8" cy="207.6" r="1.8" fill="#bebebe" fill-opacity="0.5"/>
<circle cx="148.0" cy="209.2" r="1.8" fill="#bebebe" fill-opacity="0.5"/>
<circle cx="144.0" cy="210.7" r="1.8" fill="#bebebe" fill-opacity="0.5"/>
<circle cx="141.2" cy="211.6" r="1.8" fill="#bebebe" fill-opacity="0.5"/>
<circle cx="142.6" cy="210.3" r="1.8" fill="#bebebe" fill-opacity="0.5"/>
<circle cx="136.7" cy="213.2" r="1.8" fill="#bebebe" fill-opacity="0.5"/>
<circle cx="139.0" cy="211.4" r="1.8" fill="#bebebe" fill-opacity="0.5"/>
<circle cx="135.6" cy="212.7" r="1.8" fill="#bebebe" fill-opacity="0.5"/>
<circle cx="134.6" cy="213.4" r="1.8" fill="#bebebe" fill-opacity="0.5"/>
<circle cx="132.3" cy="211.7" r="1.8" fill="#bebebe" fill-opacity="0.5"/>
<circle cx="135.3" cy="212.9" r="1.8" fill="#bebebe" fill-opacity="0.5"/>
<circle cx="126.0" cy="208.0" r="1.8" fill="#bebebe" fill-opacity="0.5"/>
<circle cx="130.2" cy="210.7" r="1.8" fill="#bebebe" fill-opacity="0.5"/>
<circle cx="124.2" cy="206.7" r="1.8" fill="#bebebe" fill-opacity="0.5"/>
<circle cx="123.2" cy="206.9" r="1.8" fill="#bebebe" fill-opacity="0.5"/>
<circle cx="120.7" cy="204.7" r="1.8" fill="#bebebe" fill-opacity="0.5"/>
<circle cx="121.0" cy="204.3" r="1.8" fill="#bebebe" fill-opacity="0.5"/>
<polygon points="128.6,170.3 143.0,170.3 139.6,190.0 135.5,206.0 131.2,190.0" fill="#fff"/>
<circle cx="128.9" cy="175.1" r="1.3" fill="#bebebe" fill-opacity="0.6"/>
<circle cx="143.1" cy="175.1" r="1.3" fill="#bebebe" fill-opacity="0.6"/>
<circle cx="129.5" cy="182.2" r="1.3" fill="#bebebe" fill-opacity="0.6"/>
<circle cx="142.0" cy="182.2" r="1.3" fill="#bebebe" fill-opacity="0.6"/>
<circle cx="129.1" cy="180.2" r="1.3" fill="#bebebe" fill-opacity="0.6"/>
<circle cx="141.7" cy="180.2" r="1.3" fill="#bebebe" fill-opacity="0.6"/>
<circle cx="129.6" cy="183.8" r="1.3" fill="#bebebe" fill-opacity="0.6"/>
<circle cx="140.8" cy="183.8" r="1.3" fill="#bebebe" fill-opacity="0.6"/>
<circle cx="130.7" cy="188.1" r="1.3" fill="#bebebe" fill-opacity="0.6"/>
<circle cx="140.4" cy="188.1" r="1.3" fill="#bebebe" fill-opacity="0.6"/>
<circle cx="128.3" cy="173.0" r="1.3" fill="#bebebe" fill-opacity="0.6"/>
<circle cx="143.2" cy="173.0" r="1.3" fill="#bebebe" fill-opacity="0.6"/>
<circle cx="132.3" cy="196.7" r="1.3" fill="#bebebe" fill-opacity="0.6"/>
<circle cx="138.3" cy="196.7" r="1.3" fill="#bebebe" fill-opacity="0.6"/>
<circle cx="130.2" cy="189.2" r="1.3" fill="#bebebe" fill-opacity="0.6"/>
<circle cx="140.0" cy="189.2" r="1.3" fill="#bebebe" fill-opacity="0.6"/>
<circle cx="128.9" cy="174.9" r="1.3" fill="#bebebe" fill-opacity="0.6"/>
<circle cx="143.1" cy="174.9" r="1.3" fill="#bebebe" fill-opacity="0.6"/>
<circle cx="127.9" cy="172.0" r="1.3" fill="#bebebe" fill-opacity="0.6"/>
<circle cx="143.0" cy="172.0" r="1.3" fill="#bebebe" fill-opacity="0.6"/>
<circle cx="133.7" cy="203.3" r="1.3" fill="#bebebe" fill-opacity="0.6"/>
<circle cx="136.8" cy="203.3" r="1.3" fill="#bebebe" fill-opacity="0.6"/>
<circle cx="130.6" cy="187.7" r="1.3" fill="#bebebe" fill-opacity="0.6"/>
<circle cx="140.9" cy="187.7" r="1.3" fill="#bebebe" fill-opacity="0.6"/>
<circle cx="130.2" cy="187.8" r="1.3" fill="#bebebe" fill-opacity="0.6"/>
<circle cx="140.2" cy="187.8" r="1.3" fill="#bebebe" fill-opacity="0.6"/>
<circle cx="129.8" cy="180.3" r="1.3" fill="#bebebe" fill-opacity="0.6"/>
<circle cx="142.1" cy="180.3" r="1.3" fill="#bebebe" fill-opacity="0.6"/>
</g>
<line x1="119.5" y1="11.3" x2="119.5" y2="221.4" stroke="#555" stroke-width="0.6" stroke-dasharray="2.1,1.4"/>
<line x1="151.5" y1="11.3" x2="151.5" y2="221.4" stroke="#555" stroke-width="0.6" stroke-dasharray="2.1,1.4"/>
<line x1="29.4" y1="170.3" x2="241.5" y2="170.3" stroke="#555" stroke-width="0.6" stroke-dasharray="2.1,1.4"/>
<rect x="29.4" y="11.3" width="212.1" height="210.1" fill="none" stroke="#1a1a1a" stroke-width="1"/>
<line x1="38.72" y1="221.4" x2="38.72" y2="224.0" stroke="#333" stroke-width="0.9"/>
<text transform="translate(38.72,231.7) scale(1,1.08)" font-size="7.8" fill="#5f646c" text-anchor="middle">−0.6</text>
<line x1="86.96" y1="221.4" x2="86.96" y2="224.0" stroke="#333" stroke-width="0.9"/>
<text transform="translate(86.96,231.7) scale(1,1.08)" font-size="7.8" fill="#5f646c" text-anchor="middle">−0.3</text>
<line x1="135.20" y1="221.4" x2="135.20" y2="224.0" stroke="#333" stroke-width="0.9"/>
<text transform="translate(135.20,231.7) scale(1,1.08)" font-size="7.8" fill="#5f646c" text-anchor="middle">0.0</text>
<line x1="183.44" y1="221.4" x2="183.44" y2="224.0" stroke="#333" stroke-width="0.9"/>
<text transform="translate(183.44,231.7) scale(1,1.08)" font-size="7.8" fill="#5f646c" text-anchor="middle">0.3</text>
<line x1="231.68" y1="221.4" x2="231.68" y2="224.0" stroke="#333" stroke-width="0.9"/>
<text transform="translate(231.68,231.7) scale(1,1.08)" font-size="7.8" fill="#5f646c" text-anchor="middle">0.6</text>
<line x1="26.799999999999997" y1="211.70" x2="29.4" y2="211.70" stroke="#333" stroke-width="0.9"/>
<text transform="translate(25.4,214.50) scale(1,1.08)" font-size="7.8" fill="#5f646c" text-anchor="end">0</text>
<line x1="26.799999999999997" y1="147.40" x2="29.4" y2="147.40" stroke="#333" stroke-width="0.9"/>
<text transform="translate(25.4,150.20) scale(1,1.08)" font-size="7.8" fill="#5f646c" text-anchor="end">2</text>
<line x1="26.799999999999997" y1="83.10" x2="29.4" y2="83.10" stroke="#333" stroke-width="0.9"/>
<text transform="translate(25.4,85.90) scale(1,1.08)" font-size="7.8" fill="#5f646c" text-anchor="end">4</text>
<line x1="26.799999999999997" y1="18.80" x2="29.4" y2="18.80" stroke="#333" stroke-width="0.9"/>
<text transform="translate(25.4,21.60) scale(1,1.08)" font-size="7.8" fill="#5f646c" text-anchor="end">6</text>
<text transform="translate(114.3,247.6) scale(1,1.07)" font-size="10.8" fill="#000">Log<tspan font-size="7.6" dy="1.2">2</tspan><tspan dy="-1.2"> FC</tspan></text>
<text transform="translate(12.9,113.9) rotate(-90) scale(1,1.07)" x="0" y="0" font-size="10.8" fill="#000" text-anchor="middle">−Log<tspan font-size="7.6" dy="1.2">10</tspan><tspan dy="-1.2"> (adjusted </tspan><tspan font-style="italic">P</tspan>-value)</text>
<rect x="32.6" y="15.6" width="83" height="61.6" fill="#fff" stroke="#555" stroke-width="0.8"/>
<circle cx="38.3" cy="21.8" r="3.6" fill="#bebebe" fill-opacity="0.55"/>
<circle cx="68.9" cy="21.8" r="3.6" fill="#add8e6" fill-opacity="0.55"/>
<circle cx="38.3" cy="34.6" r="3.6" fill="#1f78d2" fill-opacity="0.55"/>
<circle cx="38.3" cy="47.0" r="3.6" fill="#ffa500" fill-opacity="0.55"/>
<text transform="translate(44.5,25.7) scale(1,1.08)" font-size="8.8" fill="#000" text-anchor="start">NS</text>
<text transform="translate(74.4,25.7) scale(1,1.08)" font-size="8.8" fill="#000" text-anchor="start">Log<tspan font-size="6.8" dy="1.3">2</tspan><tspan dy="-1.3"> FC</tspan></text>
<text transform="translate(44.5,38.1) scale(1,1.08)" font-size="8.8" fill="#000" text-anchor="start">Adjusted <tspan font-style="italic">P</tspan>-value</text>
<text transform="translate(44.5,50.6) scale(1,1.08)" font-size="8.8" fill="#000" text-anchor="start">Adjusted <tspan font-style="italic">P</tspan>-value</text>
<text transform="translate(77.9,62.1) scale(1,1.08)" font-size="8.8" fill="#000" text-anchor="middle">&amp;</text>
<text transform="translate(62.5,72.4) scale(1,1.08)" font-size="8.8" fill="#000" text-anchor="start">Log<tspan font-size="6.8" dy="1.3">2</tspan><tspan dy="-1.3"> FC</tspan></text>
<line x1="158.8" y1="149.8" x2="161" y2="147.6" stroke="#333" stroke-width="0.8"/>
<line x1="186.3" y1="147.2" x2="188.5" y2="145" stroke="#333" stroke-width="0.8"/>
<line x1="115.2" y1="152" x2="117.4" y2="149.8" stroke="#333" stroke-width="0.8"/>
<rect x="190.8" y="68.5" width="13.8" height="13.9" rx="2.2" fill="#fff" stroke="#333" stroke-width="0.85"/>
<text x="197.70" y="79.25" font-size="10.2" fill="#000" text-anchor="middle" font-weight="bold">1</text>
<rect x="193.3" y="88.0" width="13.8" height="13.9" rx="2.2" fill="#fff" stroke="#333" stroke-width="0.85"/>
<text x="200.20" y="98.75" font-size="10.2" fill="#000" text-anchor="middle" font-weight="bold">2</text>
<rect x="154.2" y="108.2" width="13.8" height="13.9" rx="2.2" fill="#fff" stroke="#333" stroke-width="0.85"/>
<text x="161.10" y="118.95" font-size="10.2" fill="#000" text-anchor="middle" font-weight="bold">3</text>
<rect x="134.6" y="125.6" width="13.8" height="13.9" rx="2.2" fill="#fff" stroke="#333" stroke-width="0.85"/>
<text x="141.50" y="136.35" font-size="10.2" fill="#000" text-anchor="middle" font-weight="bold">4</text>
<rect x="167.6" y="123.5" width="13.8" height="13.9" rx="2.2" fill="#fff" stroke="#333" stroke-width="0.85"/>
<text x="174.50" y="134.25" font-size="10.2" fill="#000" text-anchor="middle" font-weight="bold">5</text>
<rect x="172.6" y="146.8" width="13.8" height="13.9" rx="2.2" fill="#fff" stroke="#333" stroke-width="0.85"/>
<text x="179.50" y="157.55" font-size="10.2" fill="#000" text-anchor="middle" font-weight="bold">6</text>
<rect x="145.3" y="149.0" width="13.8" height="13.9" rx="2.2" fill="#fff" stroke="#333" stroke-width="0.85"/>
<text x="152.20" y="159.75" font-size="10.2" fill="#000" text-anchor="middle" font-weight="bold">7</text>
<rect x="102.3" y="151.4" width="13.8" height="13.9" rx="2.2" fill="#fff" stroke="#333" stroke-width="0.85"/>
<text x="109.20" y="162.15" font-size="10.2" fill="#000" text-anchor="middle" font-weight="bold">8</text>
<rect x="89.6" y="165.0" width="13.8" height="13.9" rx="2.2" fill="#fff" stroke="#333" stroke-width="0.85"/>
<text x="96.50" y="175.75" font-size="10.2" fill="#000" text-anchor="middle" font-weight="bold">9</text>
<text x="3.10" y="11.60" font-size="16" fill="#000" text-anchor="start" stroke="#000" stroke-width="0.3">A</text>
<rect x="1" y="257.8" width="255.5" height="150.4" rx="3.5" fill="#fff" stroke="#222" stroke-width="1"/>
<rect x="7.4" y="263.3" width="13.1" height="13.1" rx="2.2" fill="#fff" stroke="#333" stroke-width="0.8"/>
<text x="13.95" y="273.80" font-size="10.3" fill="#000" text-anchor="middle" font-weight="bold">1</text>
<text transform="translate(25.80,273.60) scale(1,1.1)" font-size="8.88" fill="#333" text-anchor="start" >NUCLEOTIDE SUGAR BIOSYNTHETIC PROCESS</text>
<rect x="7.4" y="279.3" width="13.1" height="13.1" rx="2.2" fill="#fff" stroke="#333" stroke-width="0.8"/>
<text x="13.95" y="289.80" font-size="10.3" fill="#000" text-anchor="middle" font-weight="bold">2</text>
<text transform="translate(25.80,289.60) scale(1,1.1)" font-size="8.88" fill="#333" text-anchor="start" >REGULATION OF GERM CELL PROLIFERATION</text>
<rect x="7.4" y="295.3" width="13.1" height="13.1" rx="2.2" fill="#fff" stroke="#333" stroke-width="0.8"/>
<text x="13.95" y="305.80" font-size="10.3" fill="#000" text-anchor="middle" font-weight="bold">3</text>
<text transform="translate(25.80,305.60) scale(1,1.1)" font-size="8.88" fill="#333" text-anchor="start" >RESPONSE TO ENDOPLASMIC RETICULUM STRESS</text>
<rect x="7.4" y="311.3" width="13.1" height="13.1" rx="2.2" fill="#fff" stroke="#333" stroke-width="0.8"/>
<text x="13.95" y="321.80" font-size="10.3" fill="#000" text-anchor="middle" font-weight="bold">4</text>
<text transform="translate(25.80,321.60) scale(1,1.1)" font-size="8.88" fill="#333" text-anchor="start" >SMALL MOLECULE CATABOLIC PROCESS</text>
<rect x="7.4" y="327.3" width="13.1" height="13.1" rx="2.2" fill="#fff" stroke="#333" stroke-width="0.8"/>
<text x="13.95" y="337.80" font-size="10.3" fill="#000" text-anchor="middle" font-weight="bold">5</text>
<text transform="translate(25.80,337.60) scale(1,1.1)" font-size="8.88" fill="#333" text-anchor="start" >ADHESION OF SYMBIONT TO HOST</text>
<rect x="7.4" y="343.3" width="13.1" height="13.1" rx="2.2" fill="#fff" stroke="#333" stroke-width="0.8"/>
<text x="13.95" y="353.80" font-size="10.3" fill="#000" text-anchor="middle" font-weight="bold">6</text>
<text transform="translate(25.80,353.60) scale(1,1.1)" font-size="8.88" fill="#333" text-anchor="start" >DNA UNWINDING INVOLVED IN DNA REPLICATION</text>
<rect x="7.4" y="359.3" width="13.1" height="13.1" rx="2.2" fill="#fff" stroke="#333" stroke-width="0.8"/>
<text x="13.95" y="369.80" font-size="10.3" fill="#000" text-anchor="middle" font-weight="bold">7</text>
<text transform="translate(25.80,369.60) scale(1,1.1)" font-size="8.88" fill="#333" text-anchor="start" >MITOTIC NUCLEAR DIVISION</text>
<rect x="7.4" y="375.3" width="13.1" height="13.1" rx="2.2" fill="#fff" stroke="#333" stroke-width="0.8"/>
<text x="13.95" y="385.80" font-size="10.3" fill="#000" text-anchor="middle" font-weight="bold">8</text>
<text transform="translate(25.80,385.60) scale(1,1.1)" font-size="8.88" fill="#333" text-anchor="start" >REGULATION OF MICROTUBULE POLYMERIZATION</text>
<rect x="7.4" y="391.3" width="13.1" height="13.1" rx="2.2" fill="#fff" stroke="#333" stroke-width="0.8"/>
<text x="13.95" y="401.80" font-size="10.3" fill="#000" text-anchor="middle" font-weight="bold">9</text>
<text transform="translate(25.80,401.60) scale(1,1.1)" font-size="8.88" fill="#333" text-anchor="start" >RETINAL CONE CELL DIFFERENTIATION</text>
<text x="261.60" y="11.50" font-size="16" fill="#000" text-anchor="start" stroke="#000" stroke-width="0.3">B</text>
<rect x="312.2" y="6.4" width="13.8" height="13.9" rx="2.4" fill="#fff" stroke="#333" stroke-width="0.8"/>
<text x="319.05" y="17.50" font-size="10.2" fill="#000" text-anchor="middle" font-weight="bold">1</text>
<line x1="348.6" y1="22.3" x2="348.6" y2="125.3" stroke="#9a9a9a" stroke-width="1.0"/>
<line x1="289.5" y1="22.3" x2="349.1" y2="22.3" stroke="#7d7d7d" stroke-width="0.9"/>
<line x1="305.6" y1="43.5" x2="305.6" y2="75.0" stroke="#555" stroke-width="0.8"/>
<rect x="294.6" y="48.3" width="22" height="10.0" fill="#8bdee7" stroke="#555" stroke-width="0.9"/>
<line x1="294.6" y1="52.5" x2="316.6" y2="52.5" stroke="#333" stroke-width="1.3"/>
<line x1="332.2" y1="45.0" x2="332.2" y2="110.0" stroke="#555" stroke-width="0.8"/>
<rect x="321.2" y="59.3" width="22" height="24.4" fill="#dedf90" stroke="#555" stroke-width="0.9"/>
<line x1="321.2" y1="71.6" x2="343.2" y2="71.6" stroke="#333" stroke-width="1.3"/>
<circle cx="307.8" cy="63.0" r="2.2" fill="#17becf" fill-opacity="0.55"/>
<circle cx="305.1" cy="56.7" r="2.2" fill="#17becf" fill-opacity="0.55"/>
<circle cx="302.2" cy="50.3" r="2.2" fill="#17becf" fill-opacity="0.55"/>
<circle cx="309.1" cy="52.8" r="2.2" fill="#17becf" fill-opacity="0.55"/>
<circle cx="304.1" cy="51.1" r="2.2" fill="#17becf" fill-opacity="0.55"/>
<circle cx="303.0" cy="51.6" r="2.2" fill="#17becf" fill-opacity="0.55"/>
<circle cx="306.6" cy="61.4" r="2.2" fill="#17becf" fill-opacity="0.55"/>
<circle cx="309.2" cy="51.6" r="2.2" fill="#17becf" fill-opacity="0.55"/>
<circle cx="308.1" cy="57.7" r="2.2" fill="#17becf" fill-opacity="0.55"/>
<circle cx="302.6" cy="66.7" r="2.2" fill="#17becf" fill-opacity="0.55"/>
<circle cx="307.8" cy="62.1" r="2.2" fill="#17becf" fill-opacity="0.55"/>
<circle cx="308.3" cy="53.6" r="2.2" fill="#17becf" fill-opacity="0.55"/>
<circle cx="305.2" cy="51.5" r="2.2" fill="#17becf" fill-opacity="0.55"/>
<circle cx="302.6" cy="57.7" r="2.2" fill="#17becf" fill-opacity="0.55"/>
<circle cx="306.5" cy="58.1" r="2.2" fill="#17becf" fill-opacity="0.55"/>
<circle cx="305.7" cy="57.0" r="2.2" fill="#17becf" fill-opacity="0.55"/>
<circle cx="305.8" cy="46.2" r="2.2" fill="#17becf" fill-opacity="0.55"/>
<circle cx="304.5" cy="44.6" r="2.2" fill="#17becf" fill-opacity="0.55"/>
<circle cx="308.1" cy="56.9" r="2.2" fill="#17becf" fill-opacity="0.55"/>
<circle cx="303.6" cy="49.8" r="2.2" fill="#17becf" fill-opacity="0.55"/>
<circle cx="307.3" cy="48.7" r="2.2" fill="#17becf" fill-opacity="0.55"/>
<circle cx="305.5" cy="50.3" r="2.2" fill="#17becf" fill-opacity="0.55"/>
<circle cx="307.0" cy="53.4" r="2.2" fill="#17becf" fill-opacity="0.55"/>
<circle cx="307.6" cy="51.8" r="2.2" fill="#17becf" fill-opacity="0.55"/>
<circle cx="302.0" cy="53.2" r="2.2" fill="#17becf" fill-opacity="0.55"/>
<circle cx="304.1" cy="53.8" r="2.2" fill="#17becf" fill-opacity="0.55"/>
<circle cx="307.6" cy="56.3" r="2.2" fill="#17becf" fill-opacity="0.55"/>
<circle cx="301.7" cy="54.4" r="2.2" fill="#17becf" fill-opacity="0.55"/>
<circle cx="305.8" cy="59.5" r="2.2" fill="#17becf" fill-opacity="0.55"/>
<circle cx="304.7" cy="51.6" r="2.2" fill="#17becf" fill-opacity="0.55"/>
<circle cx="307.3" cy="50.8" r="2.2" fill="#17becf" fill-opacity="0.55"/>
<circle cx="305.4" cy="56.3" r="2.2" fill="#17becf" fill-opacity="0.55"/>
<circle cx="305.7" cy="43.5" r="2.2" fill="#17becf" fill-opacity="0.55"/>
<circle cx="306.0" cy="75.0" r="2.2" fill="#17becf" fill-opacity="0.55"/>
<circle cx="306.5" cy="83.1" r="2.2" fill="#17becf" fill-opacity="0.55"/>
<circle cx="304.0" cy="70.0" r="2.2" fill="#17becf" fill-opacity="0.55"/>
<circle cx="307.0" cy="78.0" r="2.2" fill="#17becf" fill-opacity="0.55"/>
<circle cx="335.2" cy="102.1" r="2.2" fill="#bcbd22" fill-opacity="0.55"/>
<circle cx="330.2" cy="85.7" r="2.2" fill="#bcbd22" fill-opacity="0.55"/>
<circle cx="333.3" cy="84.8" r="2.2" fill="#bcbd22" fill-opacity="0.55"/>
<circle cx="335.8" cy="84.0" r="2.2" fill="#bcbd22" fill-opacity="0.55"/>
<circle cx="332.0" cy="54.0" r="2.2" fill="#bcbd22" fill-opacity="0.55"/>
<circle cx="329.8" cy="55.3" r="2.2" fill="#bcbd22" fill-opacity="0.55"/>
<circle cx="329.4" cy="74.6" r="2.2" fill="#bcbd22" fill-opacity="0.55"/>
<circle cx="335.6" cy="90.1" r="2.2" fill="#bcbd22" fill-opacity="0.55"/>
<circle cx="331.4" cy="83.5" r="2.2" fill="#bcbd22" fill-opacity="0.55"/>
<circle cx="329.7" cy="51.0" r="2.2" fill="#bcbd22" fill-opacity="0.55"/>
<circle cx="330.4" cy="66.8" r="2.2" fill="#bcbd22" fill-opacity="0.55"/>
<circle cx="335.7" cy="57.2" r="2.2" fill="#bcbd22" fill-opacity="0.55"/>
<circle cx="330.1" cy="64.7" r="2.2" fill="#bcbd22" fill-opacity="0.55"/>
<circle cx="330.6" cy="84.2" r="2.2" fill="#bcbd22" fill-opacity="0.55"/>
<circle cx="335.0" cy="79.2" r="2.2" fill="#bcbd22" fill-opacity="0.55"/>
<circle cx="333.6" cy="67.3" r="2.2" fill="#bcbd22" fill-opacity="0.55"/>
<circle cx="329.7" cy="80.4" r="2.2" fill="#bcbd22" fill-opacity="0.55"/>
<circle cx="333.1" cy="71.3" r="2.2" fill="#bcbd22" fill-opacity="0.55"/>
<circle cx="329.3" cy="49.3" r="2.2" fill="#bcbd22" fill-opacity="0.55"/>
<circle cx="334.1" cy="71.6" r="2.2" fill="#bcbd22" fill-opacity="0.55"/>
<circle cx="329.6" cy="77.7" r="2.2" fill="#bcbd22" fill-opacity="0.55"/>
<circle cx="329.9" cy="55.4" r="2.2" fill="#bcbd22" fill-opacity="0.55"/>
<circle cx="332.6" cy="103.7" r="2.2" fill="#bcbd22" fill-opacity="0.55"/>
<circle cx="333.3" cy="52.6" r="2.2" fill="#bcbd22" fill-opacity="0.55"/>
<circle cx="332.9" cy="94.8" r="2.2" fill="#bcbd22" fill-opacity="0.55"/>
<circle cx="335.1" cy="87.5" r="2.2" fill="#bcbd22" fill-opacity="0.55"/>
<circle cx="331.3" cy="74.3" r="2.2" fill="#bcbd22" fill-opacity="0.55"/>
<circle cx="335.1" cy="80.2" r="2.2" fill="#bcbd22" fill-opacity="0.55"/>
<circle cx="331.7" cy="83.9" r="2.2" fill="#bcbd22" fill-opacity="0.55"/>
<circle cx="329.0" cy="85.0" r="2.2" fill="#bcbd22" fill-opacity="0.55"/>
<circle cx="329.0" cy="96.1" r="2.2" fill="#bcbd22" fill-opacity="0.55"/>
<circle cx="329.3" cy="83.3" r="2.2" fill="#bcbd22" fill-opacity="0.55"/>
<circle cx="329.6" cy="64.4" r="2.2" fill="#bcbd22" fill-opacity="0.55"/>
<circle cx="331.2" cy="62.5" r="2.2" fill="#bcbd22" fill-opacity="0.55"/>
<circle cx="334.9" cy="70.3" r="2.2" fill="#bcbd22" fill-opacity="0.55"/>
<circle cx="335.5" cy="70.2" r="2.2" fill="#bcbd22" fill-opacity="0.55"/>
<circle cx="330.5" cy="60.4" r="2.2" fill="#bcbd22" fill-opacity="0.55"/>
<circle cx="331.0" cy="62.0" r="2.2" fill="#bcbd22" fill-opacity="0.55"/>
<circle cx="332.3" cy="83.7" r="2.2" fill="#bcbd22" fill-opacity="0.55"/>
<circle cx="333.2" cy="73.1" r="2.2" fill="#bcbd22" fill-opacity="0.55"/>
<circle cx="332.3" cy="91.8" r="2.2" fill="#bcbd22" fill-opacity="0.55"/>
<circle cx="335.4" cy="83.9" r="2.2" fill="#bcbd22" fill-opacity="0.55"/>
<circle cx="328.4" cy="64.4" r="2.2" fill="#bcbd22" fill-opacity="0.55"/>
<circle cx="334.3" cy="83.3" r="2.2" fill="#bcbd22" fill-opacity="0.55"/>
<circle cx="332.8" cy="72.1" r="2.2" fill="#bcbd22" fill-opacity="0.55"/>
<circle cx="328.3" cy="45.3" r="2.2" fill="#bcbd22" fill-opacity="0.55"/>
<circle cx="329.2" cy="47.6" r="2.2" fill="#bcbd22" fill-opacity="0.55"/>
<circle cx="335.3" cy="57.1" r="2.2" fill="#bcbd22" fill-opacity="0.55"/>
<circle cx="329.7" cy="82.9" r="2.2" fill="#bcbd22" fill-opacity="0.55"/>
<circle cx="334.3" cy="88.5" r="2.2" fill="#bcbd22" fill-opacity="0.55"/>
<circle cx="333.9" cy="82.9" r="2.2" fill="#bcbd22" fill-opacity="0.55"/>
<circle cx="329.8" cy="87.8" r="2.2" fill="#bcbd22" fill-opacity="0.55"/>
<circle cx="331.7" cy="51.8" r="2.2" fill="#bcbd22" fill-opacity="0.55"/>
<circle cx="335.5" cy="71.4" r="2.2" fill="#bcbd22" fill-opacity="0.55"/>
<circle cx="335.0" cy="100.0" r="2.2" fill="#bcbd22" fill-opacity="0.55"/>
<circle cx="336.0" cy="93.6" r="2.2" fill="#bcbd22" fill-opacity="0.55"/>
<circle cx="331.6" cy="92.3" r="2.2" fill="#bcbd22" fill-opacity="0.55"/>
<circle cx="329.6" cy="58.3" r="2.2" fill="#bcbd22" fill-opacity="0.55"/>
<circle cx="330.6" cy="58.1" r="2.2" fill="#bcbd22" fill-opacity="0.55"/>
<circle cx="330.3" cy="59.9" r="2.2" fill="#bcbd22" fill-opacity="0.55"/>
<circle cx="335.1" cy="86.9" r="2.2" fill="#bcbd22" fill-opacity="0.55"/>
<circle cx="328.9" cy="97.3" r="2.2" fill="#bcbd22" fill-opacity="0.55"/>
<circle cx="333.1" cy="58.5" r="2.2" fill="#bcbd22" fill-opacity="0.55"/>
<circle cx="332.3" cy="49.8" r="2.2" fill="#bcbd22" fill-opacity="0.55"/>
<circle cx="334.9" cy="59.3" r="2.2" fill="#bcbd22" fill-opacity="0.55"/>
<circle cx="336.1" cy="92.3" r="2.2" fill="#bcbd22" fill-opacity="0.55"/>
<circle cx="335.6" cy="67.2" r="2.2" fill="#bcbd22" fill-opacity="0.55"/>
<circle cx="332.8" cy="53.3" r="2.2" fill="#bcbd22" fill-opacity="0.55"/>
<circle cx="331.4" cy="68.1" r="2.2" fill="#bcbd22" fill-opacity="0.55"/>
<circle cx="334.1" cy="46.8" r="2.2" fill="#bcbd22" fill-opacity="0.55"/>
<circle cx="333.1" cy="49.8" r="2.2" fill="#bcbd22" fill-opacity="0.55"/>
<circle cx="329.0" cy="54.6" r="2.2" fill="#bcbd22" fill-opacity="0.55"/>
<circle cx="328.8" cy="84.1" r="2.2" fill="#bcbd22" fill-opacity="0.55"/>
<circle cx="334.9" cy="81.6" r="2.2" fill="#bcbd22" fill-opacity="0.55"/>
<circle cx="330.9" cy="107.8" r="2.2" fill="#bcbd22" fill-opacity="0.55"/>
<circle cx="332.0" cy="78.8" r="2.2" fill="#bcbd22" fill-opacity="0.55"/>
<circle cx="333.8" cy="82.4" r="2.2" fill="#bcbd22" fill-opacity="0.55"/>
<circle cx="334.2" cy="82.0" r="2.2" fill="#bcbd22" fill-opacity="0.55"/>
<circle cx="331.4" cy="45.5" r="2.2" fill="#bcbd22" fill-opacity="0.55"/>
<circle cx="335.7" cy="108.5" r="2.2" fill="#bcbd22" fill-opacity="0.55"/>
<circle cx="333.8" cy="80.7" r="2.2" fill="#bcbd22" fill-opacity="0.55"/>
<circle cx="333.2" cy="101.9" r="2.2" fill="#bcbd22" fill-opacity="0.55"/>
<circle cx="330.4" cy="65.7" r="2.2" fill="#bcbd22" fill-opacity="0.55"/>
<circle cx="335.2" cy="64.8" r="2.2" fill="#bcbd22" fill-opacity="0.55"/>
<circle cx="335.5" cy="98.0" r="2.2" fill="#bcbd22" fill-opacity="0.55"/>
<circle cx="332.1" cy="84.3" r="2.2" fill="#bcbd22" fill-opacity="0.55"/>
<circle cx="332.4" cy="79.2" r="2.2" fill="#bcbd22" fill-opacity="0.55"/>
<circle cx="336.1" cy="51.0" r="2.2" fill="#bcbd22" fill-opacity="0.55"/>
<circle cx="336.0" cy="76.4" r="2.2" fill="#bcbd22" fill-opacity="0.55"/>
<circle cx="334.9" cy="94.2" r="2.2" fill="#bcbd22" fill-opacity="0.55"/>
<circle cx="333.7" cy="62.4" r="2.2" fill="#bcbd22" fill-opacity="0.55"/>
<circle cx="328.2" cy="83.3" r="2.2" fill="#bcbd22" fill-opacity="0.55"/>
<circle cx="333.9" cy="55.3" r="2.2" fill="#bcbd22" fill-opacity="0.55"/>
<circle cx="331.8" cy="58.2" r="2.2" fill="#bcbd22" fill-opacity="0.55"/>
<circle cx="335.2" cy="78.0" r="2.2" fill="#bcbd22" fill-opacity="0.55"/>
<circle cx="333.3" cy="74.1" r="2.2" fill="#bcbd22" fill-opacity="0.55"/>
<circle cx="331.4" cy="59.3" r="2.2" fill="#bcbd22" fill-opacity="0.55"/>
<circle cx="335.4" cy="96.6" r="2.2" fill="#bcbd22" fill-opacity="0.55"/>
<circle cx="329.3" cy="59.8" r="2.2" fill="#bcbd22" fill-opacity="0.55"/>
<circle cx="330.1" cy="62.2" r="2.2" fill="#bcbd22" fill-opacity="0.55"/>
<circle cx="332.1" cy="45.0" r="2.2" fill="#bcbd22" fill-opacity="0.55"/>
<circle cx="331.5" cy="110.0" r="2.2" fill="#bcbd22" fill-opacity="0.55"/>
<polyline points="289.5,22.3 289.5,125.3 348.6,125.3" fill="none" stroke="#4d4d4d" stroke-width="1"/>
<line x1="287.7" y1="32.8" x2="289.5" y2="32.8" stroke="#4d4d4d" stroke-width="0.8"/>
<text transform="translate(287.30,36.10) scale(1,1.08)" font-size="9.1" fill="#3d3d3d" text-anchor="end" stroke="#3d3d3d" stroke-width="0.18">1.0</text>
<line x1="287.7" y1="64.5" x2="289.5" y2="64.5" stroke="#4d4d4d" stroke-width="0.8"/>
<text transform="translate(287.30,67.80) scale(1,1.08)" font-size="9.1" fill="#3d3d3d" text-anchor="end" stroke="#3d3d3d" stroke-width="0.18">0.0</text>
<line x1="287.7" y1="96.2" x2="289.5" y2="96.2" stroke="#4d4d4d" stroke-width="0.8"/>
<text transform="translate(287.30,99.50) scale(1,1.08)" font-size="9.1" fill="#3d3d3d" text-anchor="end" stroke="#3d3d3d" stroke-width="0.18">−1.0</text>
<line x1="305.6" y1="125.3" x2="305.6" y2="126.89999999999999" stroke="#4d4d4d" stroke-width="0.8"/>
<text transform="translate(305.60,133.90) scale(1,1.1)" font-size="9.0" fill="#3d3d3d" text-anchor="middle" stroke="#3d3d3d" stroke-width="0.18">M</text>
<line x1="332.2" y1="125.3" x2="332.2" y2="126.89999999999999" stroke="#4d4d4d" stroke-width="0.8"/>
<text transform="translate(332.20,133.90) scale(1,1.1)" font-size="9.0" fill="#3d3d3d" text-anchor="middle" stroke="#3d3d3d" stroke-width="0.18">V</text>
<text x="319.05" y="36.80" font-size="10.0" fill="#000" text-anchor="middle" stroke="#000" stroke-width="0.25">3.9e−07</text>
<polyline points="305.6,39.7 305.6,37.8 332.2,37.8 332.2,39.7" fill="none" stroke="#444" stroke-width="0.8"/>
<rect x="403.2" y="6.4" width="13.8" height="13.9" rx="2.4" fill="#fff" stroke="#333" stroke-width="0.8"/>
<text x="410.10" y="17.50" font-size="10.2" fill="#000" text-anchor="middle" font-weight="bold">2</text>
<line x1="439.8" y1="22.3" x2="439.8" y2="125.3" stroke="#a8a8a8" stroke-width="1.1"/>
<line x1="380.4" y1="22.3" x2="440.3" y2="22.3" stroke="#7d7d7d" stroke-width="0.9"/>
<line x1="396.7" y1="43.1" x2="396.7" y2="74.3" stroke="#555" stroke-width="0.8"/>
<rect x="385.7" y="49.3" width="22" height="10.8" fill="#8bdee7" stroke="#555" stroke-width="0.9"/>
<line x1="385.7" y1="55.0" x2="407.7" y2="55.0" stroke="#333" stroke-width="1.3"/>
<line x1="423.6" y1="47.3" x2="423.6" y2="110.6" stroke="#555" stroke-width="0.8"/>
<rect x="412.6" y="58.3" width="22" height="24.3" fill="#dedf90" stroke="#555" stroke-width="0.9"/>
<line x1="412.6" y1="67.6" x2="434.6" y2="67.6" stroke="#333" stroke-width="1.3"/>
<circle cx="400.4" cy="56.0" r="2.2" fill="#17becf" fill-opacity="0.55"/>
<circle cx="398.0" cy="52.3" r="2.2" fill="#17becf" fill-opacity="0.55"/>
<circle cx="395.0" cy="61.4" r="2.2" fill="#17becf" fill-opacity="0.55"/>
<circle cx="400.5" cy="56.1" r="2.2" fill="#17becf" fill-opacity="0.55"/>
<circle cx="393.4" cy="61.1" r="2.2" fill="#17becf" fill-opacity="0.55"/>
<circle cx="396.5" cy="52.9" r="2.2" fill="#17becf" fill-opacity="0.55"/>
<circle cx="395.9" cy="46.3" r="2.2" fill="#17becf" fill-opacity="0.55"/>
<circle cx="395.1" cy="63.8" r="2.2" fill="#17becf" fill-opacity="0.55"/>
<circle cx="398.1" cy="70.5" r="2.2" fill="#17becf" fill-opacity="0.55"/>
<circle cx="395.9" cy="59.5" r="2.2" fill="#17becf" fill-opacity="0.55"/>
<circle cx="395.9" cy="47.7" r="2.2" fill="#17becf" fill-opacity="0.55"/>
<circle cx="396.4" cy="55.0" r="2.2" fill="#17becf" fill-opacity="0.55"/>
<circle cx="392.9" cy="56.8" r="2.2" fill="#17becf" fill-opacity="0.55"/>
<circle cx="397.2" cy="55.0" r="2.2" fill="#17becf" fill-opacity="0.55"/>
<circle cx="394.1" cy="60.2" r="2.2" fill="#17becf" fill-opacity="0.55"/>
<circle cx="398.2" cy="60.8" r="2.2" fill="#17becf" fill-opacity="0.55"/>
<circle cx="397.9" cy="52.9" r="2.2" fill="#17becf" fill-opacity="0.55"/>
<circle cx="399.7" cy="57.5" r="2.2" fill="#17becf" fill-opacity="0.55"/>
<circle cx="398.2" cy="44.3" r="2.2" fill="#17becf" fill-opacity="0.55"/>
<circle cx="393.4" cy="55.0" r="2.2" fill="#17becf" fill-opacity="0.55"/>
<circle cx="400.3" cy="62.7" r="2.2" fill="#17becf" fill-opacity="0.55"/>
<circle cx="393.7" cy="50.2" r="2.2" fill="#17becf" fill-opacity="0.55"/>
<circle cx="399.2" cy="58.9" r="2.2" fill="#17becf" fill-opacity="0.55"/>
<circle cx="394.1" cy="54.2" r="2.2" fill="#17becf" fill-opacity="0.55"/>
<circle cx="399.8" cy="50.8" r="2.2" fill="#17becf" fill-opacity="0.55"/>
<circle cx="393.8" cy="59.5" r="2.2" fill="#17becf" fill-opacity="0.55"/>
<circle cx="395.4" cy="50.0" r="2.2" fill="#17becf" fill-opacity="0.55"/>
<circle cx="398.2" cy="65.5" r="2.2" fill="#17becf" fill-opacity="0.55"/>
<circle cx="394.9" cy="49.2" r="2.2" fill="#17becf" fill-opacity="0.55"/>
<circle cx="400.2" cy="54.5" r="2.2" fill="#17becf" fill-opacity="0.55"/>
<circle cx="393.6" cy="48.8" r="2.2" fill="#17becf" fill-opacity="0.55"/>
<circle cx="395.3" cy="49.9" r="2.2" fill="#17becf" fill-opacity="0.55"/>
<circle cx="395.9" cy="43.1" r="2.2" fill="#17becf" fill-opacity="0.55"/>
<circle cx="397.0" cy="74.3" r="2.2" fill="#17becf" fill-opacity="0.55"/>
<circle cx="395.0" cy="96.5" r="2.2" fill="#17becf" fill-opacity="0.55"/>
<circle cx="424.7" cy="67.5" r="2.2" fill="#bcbd22" fill-opacity="0.55"/>
<circle cx="424.2" cy="63.3" r="2.2" fill="#bcbd22" fill-opacity="0.55"/>
<circle cx="421.8" cy="65.4" r="2.2" fill="#bcbd22" fill-opacity="0.55"/>
<circle cx="423.9" cy="75.9" r="2.2" fill="#bcbd22" fill-opacity="0.55"/>
<circle cx="421.9" cy="48.4" r="2.2" fill="#bcbd22" fill-opacity="0.55"/>
<circle cx="422.8" cy="81.0" r="2.2" fill="#bcbd22" fill-opacity="0.55"/>
<circle cx="420.1" cy="85.1" r="2.2" fill="#bcbd22" fill-opacity="0.55"/>
<circle cx="422.3" cy="83.5" r="2.2" fill="#bcbd22" fill-opacity="0.55"/>
<circle cx="424.9" cy="55.3" r="2.2" fill="#bcbd22" fill-opacity="0.55"/>
<circle cx="422.5" cy="77.9" r="2.2" fill="#bcbd22" fill-opacity="0.55"/>
<circle cx="420.6" cy="75.8" r="2.2" fill="#bcbd22" fill-opacity="0.55"/>
<circle cx="425.0" cy="72.4" r="2.2" fill="#bcbd22" fill-opacity="0.55"/>
<circle cx="423.1" cy="65.4" r="2.2" fill="#bcbd22" fill-opacity="0.55"/>
<circle cx="419.9" cy="72.1" r="2.2" fill="#bcbd22" fill-opacity="0.55"/>
<circle cx="425.5" cy="110.3" r="2.2" fill="#bcbd22" fill-opacity="0.55"/>
<circle cx="421.8" cy="52.6" r="2.2" fill="#bcbd22" fill-opacity="0.55"/>
<circle cx="425.8" cy="81.9" r="2.2" fill="#bcbd22" fill-opacity="0.55"/>
<circle cx="427.0" cy="82.4" r="2.2" fill="#bcbd22" fill-opacity="0.55"/>
<circle cx="423.2" cy="89.4" r="2.2" fill="#bcbd22" fill-opacity="0.55"/>
<circle cx="420.7" cy="53.2" r="2.2" fill="#bcbd22" fill-opacity="0.55"/>
<circle cx="420.1" cy="59.6" r="2.2" fill="#bcbd22" fill-opacity="0.55"/>
<circle cx="424.7" cy="71.6" r="2.2" fill="#bcbd22" fill-opacity="0.55"/>
<circle cx="426.0" cy="82.3" r="2.2" fill="#bcbd22" fill-opacity="0.55"/>
<circle cx="420.8" cy="51.7" r="2.2" fill="#bcbd22" fill-opacity="0.55"/>
<circle cx="421.7" cy="73.9" r="2.2" fill="#bcbd22" fill-opacity="0.55"/>
<circle cx="426.0" cy="57.3" r="2.2" fill="#bcbd22" fill-opacity="0.55"/>
<circle cx="421.1" cy="85.3" r="2.2" fill="#bcbd22" fill-opacity="0.55"/>
<circle cx="424.3" cy="99.5" r="2.2" fill="#bcbd22" fill-opacity="0.55"/>
<circle cx="423.2" cy="81.1" r="2.2" fill="#bcbd22" fill-opacity="0.55"/>
<circle cx="423.7" cy="84.6" r="2.2" fill="#bcbd22" fill-opacity="0.55"/>
<circle cx="423.7" cy="81.4" r="2.2" fill="#bcbd22" fill-opacity="0.55"/>
<circle cx="427.1" cy="53.5" r="2.2" fill="#bcbd22" fill-opacity="0.55"/>
<circle cx="426.8" cy="48.5" r="2.2" fill="#bcbd22" fill-opacity="0.55"/>
<circle cx="420.6" cy="74.8" r="2.2" fill="#bcbd22" fill-opacity="0.55"/>
<circle cx="424.5" cy="82.8" r="2.2" fill="#bcbd22" fill-opacity="0.55"/>
<circle cx="424.4" cy="82.5" r="2.2" fill="#bcbd22" fill-opacity="0.55"/>
<circle cx="420.7" cy="63.9" r="2.2" fill="#bcbd22" fill-opacity="0.55"/>
<circle cx="423.8" cy="86.4" r="2.2" fill="#bcbd22" fill-opacity="0.55"/>
<circle cx="421.5" cy="64.8" r="2.2" fill="#bcbd22" fill-opacity="0.55"/>
<circle cx="424.1" cy="64.0" r="2.2" fill="#bcbd22" fill-opacity="0.55"/>
<circle cx="427.0" cy="104.3" r="2.2" fill="#bcbd22" fill-opacity="0.55"/>
<circle cx="422.3" cy="58.9" r="2.2" fill="#bcbd22" fill-opacity="0.55"/>
<circle cx="426.8" cy="86.8" r="2.2" fill="#bcbd22" fill-opacity="0.55"/>
<circle cx="420.8" cy="70.6" r="2.2" fill="#bcbd22" fill-opacity="0.55"/>
<circle cx="427.0" cy="90.1" r="2.2" fill="#bcbd22" fill-opacity="0.55"/>
<circle cx="425.6" cy="60.6" r="2.2" fill="#bcbd22" fill-opacity="0.55"/>
<circle cx="421.4" cy="101.3" r="2.2" fill="#bcbd22" fill-opacity="0.55"/>
<circle cx="426.7" cy="68.1" r="2.2" fill="#bcbd22" fill-opacity="0.55"/>
<circle cx="424.9" cy="94.7" r="2.2" fill="#bcbd22" fill-opacity="0.55"/>
<circle cx="422.6" cy="77.8" r="2.2" fill="#bcbd22" fill-opacity="0.55"/>
<circle cx="424.5" cy="58.9" r="2.2" fill="#bcbd22" fill-opacity="0.55"/>
<circle cx="420.0" cy="59.7" r="2.2" fill="#bcbd22" fill-opacity="0.55"/>
<circle cx="424.9" cy="69.0" r="2.2" fill="#bcbd22" fill-opacity="0.55"/>
<circle cx="420.0" cy="49.7" r="2.2" fill="#bcbd22" fill-opacity="0.55"/>
<circle cx="420.1" cy="67.2" r="2.2" fill="#bcbd22" fill-opacity="0.55"/>
<circle cx="427.5" cy="83.6" r="2.2" fill="#bcbd22" fill-opacity="0.55"/>
<circle cx="421.1" cy="59.1" r="2.2" fill="#bcbd22" fill-opacity="0.55"/>
<circle cx="425.4" cy="79.5" r="2.2" fill="#bcbd22" fill-opacity="0.55"/>
<circle cx="425.4" cy="47.8" r="2.2" fill="#bcbd22" fill-opacity="0.55"/>
<circle cx="422.8" cy="71.9" r="2.2" fill="#bcbd22" fill-opacity="0.55"/>
<circle cx="423.5" cy="62.8" r="2.2" fill="#bcbd22" fill-opacity="0.55"/>
<circle cx="426.5" cy="63.7" r="2.2" fill="#bcbd22" fill-opacity="0.55"/>
<circle cx="425.3" cy="92.8" r="2.2" fill="#bcbd22" fill-opacity="0.55"/>
<circle cx="421.9" cy="98.3" r="2.2" fill="#bcbd22" fill-opacity="0.55"/>
<circle cx="420.7" cy="76.9" r="2.2" fill="#bcbd22" fill-opacity="0.55"/>
<circle cx="420.7" cy="65.3" r="2.2" fill="#bcbd22" fill-opacity="0.55"/>
<circle cx="420.4" cy="68.6" r="2.2" fill="#bcbd22" fill-opacity="0.55"/>
<circle cx="423.9" cy="66.7" r="2.2" fill="#bcbd22" fill-opacity="0.55"/>
<circle cx="426.1" cy="63.4" r="2.2" fill="#bcbd22" fill-opacity="0.55"/>
<circle cx="420.2" cy="66.1" r="2.2" fill="#bcbd22" fill-opacity="0.55"/>
<circle cx="426.4" cy="59.5" r="2.2" fill="#bcbd22" fill-opacity="0.55"/>
<circle cx="427.3" cy="75.2" r="2.2" fill="#bcbd22" fill-opacity="0.55"/>
<circle cx="426.9" cy="60.5" r="2.2" fill="#bcbd22" fill-opacity="0.55"/>
<circle cx="424.3" cy="99.9" r="2.2" fill="#bcbd22" fill-opacity="0.55"/>
<circle cx="425.3" cy="85.8" r="2.2" fill="#bcbd22" fill-opacity="0.55"/>
<circle cx="421.9" cy="76.0" r="2.2" fill="#bcbd22" fill-opacity="0.55"/>
<circle cx="427.4" cy="80.8" r="2.2" fill="#bcbd22" fill-opacity="0.55"/>
<circle cx="420.3" cy="78.6" r="2.2" fill="#bcbd22" fill-opacity="0.55"/>
<circle cx="426.2" cy="93.7" r="2.2" fill="#bcbd22" fill-opacity="0.55"/>
<circle cx="423.6" cy="83.9" r="2.2" fill="#bcbd22" fill-opacity="0.55"/>
<circle cx="420.9" cy="57.8" r="2.2" fill="#bcbd22" fill-opacity="0.55"/>
<circle cx="421.0" cy="50.7" r="2.2" fill="#bcbd22" fill-opacity="0.55"/>
<circle cx="421.6" cy="66.9" r="2.2" fill="#bcbd22" fill-opacity="0.55"/>
<circle cx="422.2" cy="67.7" r="2.2" fill="#bcbd22" fill-opacity="0.55"/>
<circle cx="426.7" cy="85.3" r="2.2" fill="#bcbd22" fill-opacity="0.55"/>
<circle cx="426.9" cy="99.2" r="2.2" fill="#bcbd22" fill-opacity="0.55"/>
<circle cx="422.2" cy="49.6" r="2.2" fill="#bcbd22" fill-opacity="0.55"/>
<circle cx="422.4" cy="62.2" r="2.2" fill="#bcbd22" fill-opacity="0.55"/>
<circle cx="422.2" cy="61.1" r="2.2" fill="#bcbd22" fill-opacity="0.55"/>
<circle cx="421.9" cy="72.0" r="2.2" fill="#bcbd22" fill-opacity="0.55"/>
<circle cx="420.9" cy="58.5" r="2.2" fill="#bcbd22" fill-opacity="0.55"/>
<circle cx="419.7" cy="61.0" r="2.2" fill="#bcbd22" fill-opacity="0.55"/>
<circle cx="426.7" cy="90.0" r="2.2" fill="#bcbd22" fill-opacity="0.55"/>
<circle cx="423.2" cy="65.3" r="2.2" fill="#bcbd22" fill-opacity="0.55"/>
<circle cx="420.4" cy="65.7" r="2.2" fill="#bcbd22" fill-opacity="0.55"/>
<circle cx="426.6" cy="52.4" r="2.2" fill="#bcbd22" fill-opacity="0.55"/>
<circle cx="421.0" cy="67.5" r="2.2" fill="#bcbd22" fill-opacity="0.55"/>
<circle cx="422.8" cy="94.8" r="2.2" fill="#bcbd22" fill-opacity="0.55"/>
<circle cx="424.5" cy="61.9" r="2.2" fill="#bcbd22" fill-opacity="0.55"/>
<circle cx="426.8" cy="70.7" r="2.2" fill="#bcbd22" fill-opacity="0.55"/>
<circle cx="424.3" cy="47.3" r="2.2" fill="#bcbd22" fill-opacity="0.55"/>
<circle cx="424.2" cy="110.6" r="2.2" fill="#bcbd22" fill-opacity="0.55"/>
<polyline points="380.4,22.3 380.4,125.3 439.8,125.3" fill="none" stroke="#4d4d4d" stroke-width="1"/>
<line x1="378.59999999999997" y1="37.3" x2="380.4" y2="37.3" stroke="#4d4d4d" stroke-width="0.8"/>
<text transform="translate(378.20,40.60) scale(1,1.08)" font-size="9.1" fill="#3d3d3d" text-anchor="end" stroke="#3d3d3d" stroke-width="0.18">1.0</text>
<line x1="378.59999999999997" y1="63.4" x2="380.4" y2="63.4" stroke="#4d4d4d" stroke-width="0.8"/>
<text transform="translate(378.20,66.70) scale(1,1.08)" font-size="9.1" fill="#3d3d3d" text-anchor="end" stroke="#3d3d3d" stroke-width="0.18">0.0</text>
<line x1="378.59999999999997" y1="89.6" x2="380.4" y2="89.6" stroke="#4d4d4d" stroke-width="0.8"/>
<text transform="translate(378.20,92.90) scale(1,1.08)" font-size="9.1" fill="#3d3d3d" text-anchor="end" stroke="#3d3d3d" stroke-width="0.18">−1.0</text>
<line x1="378.59999999999997" y1="115.9" x2="380.4" y2="115.9" stroke="#4d4d4d" stroke-width="0.8"/>
<text transform="translate(378.20,119.20) scale(1,1.08)" font-size="9.1" fill="#3d3d3d" text-anchor="end" stroke="#3d3d3d" stroke-width="0.18">−2.0</text>
<line x1="396.7" y1="125.3" x2="396.7" y2="126.89999999999999" stroke="#4d4d4d" stroke-width="0.8"/>
<text transform="translate(396.70,133.90) scale(1,1.1)" font-size="9.0" fill="#3d3d3d" text-anchor="middle" stroke="#3d3d3d" stroke-width="0.18">M</text>
<line x1="423.6" y1="125.3" x2="423.6" y2="126.89999999999999" stroke="#4d4d4d" stroke-width="0.8"/>
<text transform="translate(423.60,133.90) scale(1,1.1)" font-size="9.0" fill="#3d3d3d" text-anchor="middle" stroke="#3d3d3d" stroke-width="0.18">V</text>
<text x="410.10" y="36.80" font-size="10.0" fill="#000" text-anchor="middle" stroke="#000" stroke-width="0.25">2.7e−06</text>
<polyline points="396.7,39.7 396.7,37.8 423.6,37.8 423.6,39.7" fill="none" stroke="#444" stroke-width="0.8"/>
<rect x="494.3" y="6.4" width="13.8" height="13.9" rx="2.4" fill="#fff" stroke="#333" stroke-width="0.8"/>
<text x="501.20" y="17.50" font-size="10.2" fill="#000" text-anchor="middle" font-weight="bold">3</text>
<line x1="531.0" y1="22.3" x2="531.0" y2="125.3" stroke="#cccccc" stroke-width="1.4"/>
<line x1="471.4" y1="22.3" x2="531.5" y2="22.3" stroke="#7d7d7d" stroke-width="0.9"/>
<line x1="487.9" y1="43.7" x2="487.9" y2="110.2" stroke="#555" stroke-width="0.8"/>
<rect x="476.9" y="55.3" width="22" height="26.0" fill="#8bdee7" stroke="#555" stroke-width="0.9"/>
<line x1="476.9" y1="68.2" x2="498.9" y2="68.2" stroke="#333" stroke-width="1.3"/>
<line x1="515.0" y1="58.9" x2="515.0" y2="109.3" stroke="#555" stroke-width="0.8"/>
<rect x="504.0" y="76.5" width="22" height="19.7" fill="#dedf90" stroke="#555" stroke-width="0.9"/>
<line x1="504.0" y1="84.2" x2="526.0" y2="84.2" stroke="#333" stroke-width="1.3"/>
<circle cx="485.3" cy="94.6" r="2.2" fill="#17becf" fill-opacity="0.55"/>
<circle cx="487.0" cy="76.2" r="2.2" fill="#17becf" fill-opacity="0.55"/>
<circle cx="484.2" cy="75.6" r="2.2" fill="#17becf" fill-opacity="0.55"/>
<circle cx="488.1" cy="76.3" r="2.2" fill="#17becf" fill-opacity="0.55"/>
<circle cx="486.9" cy="58.7" r="2.2" fill="#17becf" fill-opacity="0.55"/>
<circle cx="490.4" cy="54.9" r="2.2" fill="#17becf" fill-opacity="0.55"/>
<circle cx="487.4" cy="76.2" r="2.2" fill="#17becf" fill-opacity="0.55"/>
<circle cx="488.1" cy="71.1" r="2.2" fill="#17becf" fill-opacity="0.55"/>
<circle cx="488.9" cy="94.8" r="2.2" fill="#17becf" fill-opacity="0.55"/>
<circle cx="484.6" cy="71.4" r="2.2" fill="#17becf" fill-opacity="0.55"/>
<circle cx="488.0" cy="48.9" r="2.2" fill="#17becf" fill-opacity="0.55"/>
<circle cx="487.1" cy="62.6" r="2.2" fill="#17becf" fill-opacity="0.55"/>
<circle cx="485.6" cy="66.0" r="2.2" fill="#17becf" fill-opacity="0.55"/>
<circle cx="487.4" cy="76.5" r="2.2" fill="#17becf" fill-opacity="0.55"/>
<circle cx="489.2" cy="74.0" r="2.2" fill="#17becf" fill-opacity="0.55"/>
<circle cx="489.0" cy="57.6" r="2.2" fill="#17becf" fill-opacity="0.55"/>
<circle cx="487.5" cy="80.6" r="2.2" fill="#17becf" fill-opacity="0.55"/>
<circle cx="489.4" cy="79.6" r="2.2" fill="#17becf" fill-opacity="0.55"/>
<circle cx="488.7" cy="48.1" r="2.2" fill="#17becf" fill-opacity="0.55"/>
<circle cx="488.2" cy="60.2" r="2.2" fill="#17becf" fill-opacity="0.55"/>
<circle cx="487.1" cy="61.4" r="2.2" fill="#17becf" fill-opacity="0.55"/>
<circle cx="485.3" cy="56.0" r="2.2" fill="#17becf" fill-opacity="0.55"/>
<circle cx="491.0" cy="103.9" r="2.2" fill="#17becf" fill-opacity="0.55"/>
<circle cx="489.4" cy="54.0" r="2.2" fill="#17becf" fill-opacity="0.55"/>
<circle cx="487.5" cy="65.5" r="2.2" fill="#17becf" fill-opacity="0.55"/>
<circle cx="487.2" cy="71.1" r="2.2" fill="#17becf" fill-opacity="0.55"/>
<circle cx="485.7" cy="90.2" r="2.2" fill="#17becf" fill-opacity="0.55"/>
<circle cx="485.1" cy="87.7" r="2.2" fill="#17becf" fill-opacity="0.55"/>
<circle cx="487.2" cy="82.7" r="2.2" fill="#17becf" fill-opacity="0.55"/>
<circle cx="487.2" cy="48.3" r="2.2" fill="#17becf" fill-opacity="0.55"/>
<circle cx="486.3" cy="54.5" r="2.2" fill="#17becf" fill-opacity="0.55"/>
<circle cx="487.6" cy="65.6" r="2.2" fill="#17becf" fill-opacity="0.55"/>
<circle cx="488.5" cy="43.7" r="2.2" fill="#17becf" fill-opacity="0.55"/>
<circle cx="488.6" cy="110.2" r="2.2" fill="#17becf" fill-opacity="0.55"/>
<circle cx="516.1" cy="94.3" r="2.2" fill="#bcbd22" fill-opacity="0.55"/>
<circle cx="512.4" cy="76.1" r="2.2" fill="#bcbd22" fill-opacity="0.55"/>
<circle cx="517.7" cy="81.2" r="2.2" fill="#bcbd22" fill-opacity="0.55"/>
<circle cx="514.8" cy="77.1" r="2.2" fill="#bcbd22" fill-opacity="0.55"/>
<circle cx="512.8" cy="97.9" r="2.2" fill="#bcbd22" fill-opacity="0.55"/>
<circle cx="518.4" cy="92.6" r="2.2" fill="#bcbd22" fill-opacity="0.55"/>
<circle cx="516.1" cy="95.7" r="2.2" fill="#bcbd22" fill-opacity="0.55"/>
<circle cx="513.2" cy="94.2" r="2.2" fill="#bcbd22" fill-opacity="0.55"/>
<circle cx="517.9" cy="78.6" r="2.2" fill="#bcbd22" fill-opacity="0.55"/>
<circle cx="518.6" cy="97.1" r="2.2" fill="#bcbd22" fill-opacity="0.55"/>
<circle cx="515.8" cy="99.9" r="2.2" fill="#bcbd22" fill-opacity="0.55"/>
<circle cx="518.6" cy="94.8" r="2.2" fill="#bcbd22" fill-opacity="0.55"/>
<circle cx="518.3" cy="75.8" r="2.2" fill="#bcbd22" fill-opacity="0.55"/>
<circle cx="512.1" cy="87.2" r="2.2" fill="#bcbd22" fill-opacity="0.55"/>
<circle cx="513.2" cy="101.7" r="2.2" fill="#bcbd22" fill-opacity="0.55"/>
<circle cx="514.9" cy="95.3" r="2.2" fill="#bcbd22" fill-opacity="0.55"/>
<circle cx="517.1" cy="83.7" r="2.2" fill="#bcbd22" fill-opacity="0.55"/>
<circle cx="511.2" cy="76.8" r="2.2" fill="#bcbd22" fill-opacity="0.55"/>
<circle cx="515.8" cy="90.9" r="2.2" fill="#bcbd22" fill-opacity="0.55"/>
<circle cx="518.2" cy="87.5" r="2.2" fill="#bcbd22" fill-opacity="0.55"/>
<circle cx="518.7" cy="78.8" r="2.2" fill="#bcbd22" fill-opacity="0.55"/>
<circle cx="516.6" cy="85.2" r="2.2" fill="#bcbd22" fill-opacity="0.55"/>
<circle cx="516.2" cy="104.5" r="2.2" fill="#bcbd22" fill-opacity="0.55"/>
<circle cx="511.5" cy="96.8" r="2.2" fill="#bcbd22" fill-opacity="0.55"/>
<circle cx="512.8" cy="108.8" r="2.2" fill="#bcbd22" fill-opacity="0.55"/>
<circle cx="513.7" cy="83.2" r="2.2" fill="#bcbd22" fill-opacity="0.55"/>
<circle cx="518.7" cy="88.5" r="2.2" fill="#bcbd22" fill-opacity="0.55"/>
<circle cx="512.6" cy="71.0" r="2.2" fill="#bcbd22" fill-opacity="0.55"/>
<circle cx="513.7" cy="103.4" r="2.2" fill="#bcbd22" fill-opacity="0.55"/>
<circle cx="511.7" cy="92.5" r="2.2" fill="#bcbd22" fill-opacity="0.55"/>
<circle cx="519.0" cy="103.4" r="2.2" fill="#bcbd22" fill-opacity="0.55"/>
<circle cx="519.0" cy="99.9" r="2.2" fill="#bcbd22" fill-opacity="0.55"/>
<circle cx="515.2" cy="76.6" r="2.2" fill="#bcbd22" fill-opacity="0.55"/>
<circle cx="514.8" cy="83.8" r="2.2" fill="#bcbd22" fill-opacity="0.55"/>
<circle cx="514.5" cy="81.2" r="2.2" fill="#bcbd22" fill-opacity="0.55"/>
<circle cx="517.5" cy="88.8" r="2.2" fill="#bcbd22" fill-opacity="0.55"/>
<circle cx="513.6" cy="82.4" r="2.2" fill="#bcbd22" fill-opacity="0.55"/>
<circle cx="517.5" cy="78.5" r="2.2" fill="#bcbd22" fill-opacity="0.55"/>
<circle cx="517.8" cy="95.2" r="2.2" fill="#bcbd22" fill-opacity="0.55"/>
<circle cx="511.7" cy="87.6" r="2.2" fill="#bcbd22" fill-opacity="0.55"/>
<circle cx="518.1" cy="77.6" r="2.2" fill="#bcbd22" fill-opacity="0.55"/>
<circle cx="518.4" cy="65.7" r="2.2" fill="#bcbd22" fill-opacity="0.55"/>
<circle cx="512.4" cy="96.2" r="2.2" fill="#bcbd22" fill-opacity="0.55"/>
<circle cx="517.6" cy="103.3" r="2.2" fill="#bcbd22" fill-opacity="0.55"/>
<circle cx="518.8" cy="78.9" r="2.2" fill="#bcbd22" fill-opacity="0.55"/>
<circle cx="518.4" cy="80.8" r="2.2" fill="#bcbd22" fill-opacity="0.55"/>
<circle cx="515.7" cy="87.1" r="2.2" fill="#bcbd22" fill-opacity="0.55"/>
<circle cx="517.5" cy="99.2" r="2.2" fill="#bcbd22" fill-opacity="0.55"/>
<circle cx="514.5" cy="101.0" r="2.2" fill="#bcbd22" fill-opacity="0.55"/>
<circle cx="515.2" cy="76.3" r="2.2" fill="#bcbd22" fill-opacity="0.55"/>
<circle cx="514.2" cy="76.1" r="2.2" fill="#bcbd22" fill-opacity="0.55"/>
<circle cx="517.3" cy="85.2" r="2.2" fill="#bcbd22" fill-opacity="0.55"/>
<circle cx="513.9" cy="100.1" r="2.2" fill="#bcbd22" fill-opacity="0.55"/>
<circle cx="516.9" cy="77.3" r="2.2" fill="#bcbd22" fill-opacity="0.55"/>
<circle cx="517.6" cy="73.6" r="2.2" fill="#bcbd22" fill-opacity="0.55"/>
<circle cx="516.8" cy="91.8" r="2.2" fill="#bcbd22" fill-opacity="0.55"/>
<circle cx="518.6" cy="99.0" r="2.2" fill="#bcbd22" fill-opacity="0.55"/>
<circle cx="512.2" cy="63.0" r="2.2" fill="#bcbd22" fill-opacity="0.55"/>
<circle cx="513.3" cy="100.6" r="2.2" fill="#bcbd22" fill-opacity="0.55"/>
<circle cx="511.3" cy="93.4" r="2.2" fill="#bcbd22" fill-opacity="0.55"/>
<circle cx="518.2" cy="88.7" r="2.2" fill="#bcbd22" fill-opacity="0.55"/>
<circle cx="516.9" cy="77.4" r="2.2" fill="#bcbd22" fill-opacity="0.55"/>
<circle cx="515.4" cy="68.3" r="2.2" fill="#bcbd22" fill-opacity="0.55"/>
<circle cx="516.2" cy="74.1" r="2.2" fill="#bcbd22" fill-opacity="0.55"/>
<circle cx="513.8" cy="82.3" r="2.2" fill="#bcbd22" fill-opacity="0.55"/>
<circle cx="514.1" cy="98.8" r="2.2" fill="#bcbd22" fill-opacity="0.55"/>
<circle cx="513.8" cy="102.7" r="2.2" fill="#bcbd22" fill-opacity="0.55"/>
<circle cx="516.9" cy="82.3" r="2.2" fill="#bcbd22" fill-opacity="0.55"/>
<circle cx="514.0" cy="82.9" r="2.2" fill="#bcbd22" fill-opacity="0.55"/>
<circle cx="513.6" cy="81.1" r="2.2" fill="#bcbd22" fill-opacity="0.55"/>
<circle cx="513.6" cy="105.9" r="2.2" fill="#bcbd22" fill-opacity="0.55"/>
<circle cx="512.4" cy="79.9" r="2.2" fill="#bcbd22" fill-opacity="0.55"/>
<circle cx="517.0" cy="77.3" r="2.2" fill="#bcbd22" fill-opacity="0.55"/>
<circle cx="518.6" cy="93.2" r="2.2" fill="#bcbd22" fill-opacity="0.55"/>
<circle cx="517.1" cy="97.5" r="2.2" fill="#bcbd22" fill-opacity="0.55"/>
<circle cx="517.7" cy="59.3" r="2.2" fill="#bcbd22" fill-opacity="0.55"/>
<circle cx="515.9" cy="86.1" r="2.2" fill="#bcbd22" fill-opacity="0.55"/>
<circle cx="517.2" cy="91.2" r="2.2" fill="#bcbd22" fill-opacity="0.55"/>
<circle cx="515.8" cy="94.9" r="2.2" fill="#bcbd22" fill-opacity="0.55"/>
<circle cx="512.4" cy="105.8" r="2.2" fill="#bcbd22" fill-opacity="0.55"/>
<circle cx="512.6" cy="77.1" r="2.2" fill="#bcbd22" fill-opacity="0.55"/>
<circle cx="514.7" cy="103.6" r="2.2" fill="#bcbd22" fill-opacity="0.55"/>
<circle cx="513.7" cy="65.4" r="2.2" fill="#bcbd22" fill-opacity="0.55"/>
<circle cx="518.0" cy="101.2" r="2.2" fill="#bcbd22" fill-opacity="0.55"/>
<circle cx="517.0" cy="83.4" r="2.2" fill="#bcbd22" fill-opacity="0.55"/>
<circle cx="514.1" cy="59.7" r="2.2" fill="#bcbd22" fill-opacity="0.55"/>
<circle cx="515.1" cy="98.4" r="2.2" fill="#bcbd22" fill-opacity="0.55"/>
<circle cx="513.6" cy="104.8" r="2.2" fill="#bcbd22" fill-opacity="0.55"/>
<circle cx="514.9" cy="82.4" r="2.2" fill="#bcbd22" fill-opacity="0.55"/>
<circle cx="513.3" cy="86.7" r="2.2" fill="#bcbd22" fill-opacity="0.55"/>
<circle cx="513.8" cy="81.2" r="2.2" fill="#bcbd22" fill-opacity="0.55"/>
<circle cx="517.9" cy="92.5" r="2.2" fill="#bcbd22" fill-opacity="0.55"/>
<circle cx="518.1" cy="94.4" r="2.2" fill="#bcbd22" fill-opacity="0.55"/>
<circle cx="516.6" cy="77.1" r="2.2" fill="#bcbd22" fill-opacity="0.55"/>
<circle cx="511.9" cy="88.9" r="2.2" fill="#bcbd22" fill-opacity="0.55"/>
<circle cx="513.7" cy="81.0" r="2.2" fill="#bcbd22" fill-opacity="0.55"/>
<circle cx="517.6" cy="93.3" r="2.2" fill="#bcbd22" fill-opacity="0.55"/>
<circle cx="518.5" cy="105.1" r="2.2" fill="#bcbd22" fill-opacity="0.55"/>
<circle cx="515.6" cy="76.9" r="2.2" fill="#bcbd22" fill-opacity="0.55"/>
<circle cx="517.8" cy="79.7" r="2.2" fill="#bcbd22" fill-opacity="0.55"/>
<circle cx="516.0" cy="58.9" r="2.2" fill="#bcbd22" fill-opacity="0.55"/>
<circle cx="514.7" cy="109.3" r="2.2" fill="#bcbd22" fill-opacity="0.55"/>
<polyline points="471.4,22.3 471.4,125.3 531.0,125.3" fill="none" stroke="#4d4d4d" stroke-width="1"/>
<line x1="469.59999999999997" y1="29.3" x2="471.4" y2="29.3" stroke="#4d4d4d" stroke-width="0.8"/>
<text transform="translate(469.20,32.60) scale(1,1.08)" font-size="9.1" fill="#3d3d3d" text-anchor="end" stroke="#3d3d3d" stroke-width="0.18">0.5</text>
<line x1="469.59999999999997" y1="53.1" x2="471.4" y2="53.1" stroke="#4d4d4d" stroke-width="0.8"/>
<text transform="translate(469.20,56.40) scale(1,1.08)" font-size="9.1" fill="#3d3d3d" text-anchor="end" stroke="#3d3d3d" stroke-width="0.18">0.2</text>
<line x1="469.59999999999997" y1="76.4" x2="471.4" y2="76.4" stroke="#4d4d4d" stroke-width="0.8"/>
<text transform="translate(469.20,79.70) scale(1,1.08)" font-size="9.1" fill="#3d3d3d" text-anchor="end" stroke="#3d3d3d" stroke-width="0.18">0.0</text>
<line x1="469.59999999999997" y1="100.3" x2="471.4" y2="100.3" stroke="#4d4d4d" stroke-width="0.8"/>
<text transform="translate(469.20,103.60) scale(1,1.08)" font-size="9.1" fill="#3d3d3d" text-anchor="end" stroke="#3d3d3d" stroke-width="0.18">−0.2</text>
<line x1="469.59999999999997" y1="123.6" x2="471.4" y2="123.6" stroke="#4d4d4d" stroke-width="0.8"/>
<text transform="translate(469.20,126.90) scale(1,1.08)" font-size="9.1" fill="#3d3d3d" text-anchor="end" stroke="#3d3d3d" stroke-width="0.18">−0.5</text>
<line x1="487.9" y1="125.3" x2="487.9" y2="126.89999999999999" stroke="#4d4d4d" stroke-width="0.8"/>
<text transform="translate(487.90,133.90) scale(1,1.1)" font-size="9.0" fill="#3d3d3d" text-anchor="middle" stroke="#3d3d3d" stroke-width="0.18">M</text>
<line x1="515.0" y1="125.3" x2="515.0" y2="126.89999999999999" stroke="#4d4d4d" stroke-width="0.8"/>
<text transform="translate(515.00,133.90) scale(1,1.1)" font-size="9.0" fill="#3d3d3d" text-anchor="middle" stroke="#3d3d3d" stroke-width="0.18">V</text>
<text x="501.20" y="36.80" font-size="10.0" fill="#000" text-anchor="middle" stroke="#000" stroke-width="0.25">7.6e−05</text>
<polyline points="487.9,39.7 487.9,37.8 515.0,37.8 515.0,39.7" fill="none" stroke="#444" stroke-width="0.8"/>
<rect x="312.2" y="143.4" width="13.8" height="13.9" rx="2.4" fill="#fff" stroke="#333" stroke-width="0.8"/>
<text x="319.05" y="154.50" font-size="10.2" fill="#000" text-anchor="middle" font-weight="bold">4</text>
<line x1="348.6" y1="159.3" x2="348.6" y2="262.2" stroke="#9a9a9a" stroke-width="1.0"/>
<line x1="289.5" y1="159.3" x2="349.1" y2="159.3" stroke="#7d7d7d" stroke-width="0.9"/>
<line x1="305.6" y1="180.3" x2="305.6" y2="239.5" stroke="#555" stroke-width="0.8"/>
<rect x="294.6" y="201.1" width="22" height="15.9" fill="#8bdee7" stroke="#555" stroke-width="0.9"/>
<line x1="294.6" y1="210.4" x2="316.6" y2="210.4" stroke="#333" stroke-width="1.3"/>
<line x1="332.6" y1="199.0" x2="332.6" y2="245.7" stroke="#555" stroke-width="0.8"/>
<rect x="321.6" y="214.6" width="22" height="11.8" fill="#dedf90" stroke="#555" stroke-width="0.9"/>
<line x1="321.6" y1="220.2" x2="343.6" y2="220.2" stroke="#333" stroke-width="1.3"/>
<circle cx="307.4" cy="206.2" r="2.2" fill="#17becf" fill-opacity="0.55"/>
<circle cx="302.2" cy="208.4" r="2.2" fill="#17becf" fill-opacity="0.55"/>
<circle cx="304.7" cy="211.2" r="2.2" fill="#17becf" fill-opacity="0.55"/>
<circle cx="302.5" cy="202.3" r="2.2" fill="#17becf" fill-opacity="0.55"/>
<circle cx="308.2" cy="219.0" r="2.2" fill="#17becf" fill-opacity="0.55"/>
<circle cx="302.5" cy="219.1" r="2.2" fill="#17becf" fill-opacity="0.55"/>
<circle cx="303.1" cy="225.0" r="2.2" fill="#17becf" fill-opacity="0.55"/>
<circle cx="307.4" cy="188.4" r="2.2" fill="#17becf" fill-opacity="0.55"/>
<circle cx="306.2" cy="186.9" r="2.2" fill="#17becf" fill-opacity="0.55"/>
<circle cx="304.6" cy="208.1" r="2.2" fill="#17becf" fill-opacity="0.55"/>
<circle cx="306.5" cy="216.6" r="2.2" fill="#17becf" fill-opacity="0.55"/>
<circle cx="303.9" cy="212.1" r="2.2" fill="#17becf" fill-opacity="0.55"/>
<circle cx="308.7" cy="239.0" r="2.2" fill="#17becf" fill-opacity="0.55"/>
<circle cx="307.3" cy="205.5" r="2.2" fill="#17becf" fill-opacity="0.55"/>
<circle cx="302.8" cy="194.6" r="2.2" fill="#17becf" fill-opacity="0.55"/>
<circle cx="302.4" cy="198.8" r="2.2" fill="#17becf" fill-opacity="0.55"/>
<circle cx="308.1" cy="209.5" r="2.2" fill="#17becf" fill-opacity="0.55"/>
<circle cx="305.5" cy="211.0" r="2.2" fill="#17becf" fill-opacity="0.55"/>
<circle cx="306.1" cy="201.2" r="2.2" fill="#17becf" fill-opacity="0.55"/>
<circle cx="303.9" cy="203.8" r="2.2" fill="#17becf" fill-opacity="0.55"/>
<circle cx="304.8" cy="214.3" r="2.2" fill="#17becf" fill-opacity="0.55"/>
<circle cx="307.6" cy="206.3" r="2.2" fill="#17becf" fill-opacity="0.55"/>
<circle cx="302.0" cy="223.2" r="2.2" fill="#17becf" fill-opacity="0.55"/>
<circle cx="305.9" cy="216.2" r="2.2" fill="#17becf" fill-opacity="0.55"/>
<circle cx="303.4" cy="214.5" r="2.2" fill="#17becf" fill-opacity="0.55"/>
<circle cx="306.8" cy="192.4" r="2.2" fill="#17becf" fill-opacity="0.55"/>
<circle cx="304.2" cy="194.7" r="2.2" fill="#17becf" fill-opacity="0.55"/>
<circle cx="304.2" cy="214.9" r="2.2" fill="#17becf" fill-opacity="0.55"/>
<circle cx="305.9" cy="216.0" r="2.2" fill="#17becf" fill-opacity="0.55"/>
<circle cx="309.0" cy="207.5" r="2.2" fill="#17becf" fill-opacity="0.55"/>
<circle cx="308.1" cy="221.5" r="2.2" fill="#17becf" fill-opacity="0.55"/>
<circle cx="308.6" cy="227.3" r="2.2" fill="#17becf" fill-opacity="0.55"/>
<circle cx="306.5" cy="180.3" r="2.2" fill="#17becf" fill-opacity="0.55"/>
<circle cx="306.0" cy="239.5" r="2.2" fill="#17becf" fill-opacity="0.55"/>
<circle cx="306.0" cy="232.0" r="2.2" fill="#17becf" fill-opacity="0.55"/>
<circle cx="333.6" cy="211.9" r="2.2" fill="#bcbd22" fill-opacity="0.55"/>
<circle cx="335.7" cy="226.5" r="2.2" fill="#bcbd22" fill-opacity="0.55"/>
<circle cx="332.0" cy="221.2" r="2.2" fill="#bcbd22" fill-opacity="0.55"/>
<circle cx="330.9" cy="202.1" r="2.2" fill="#bcbd22" fill-opacity="0.55"/>
<circle cx="331.2" cy="216.0" r="2.2" fill="#bcbd22" fill-opacity="0.55"/>
<circle cx="331.8" cy="209.1" r="2.2" fill="#bcbd22" fill-opacity="0.55"/>
<circle cx="335.0" cy="222.2" r="2.2" fill="#bcbd22" fill-opacity="0.55"/>
<circle cx="334.8" cy="214.0" r="2.2" fill="#bcbd22" fill-opacity="0.55"/>
<circle cx="333.0" cy="216.4" r="2.2" fill="#bcbd22" fill-opacity="0.55"/>
<circle cx="328.7" cy="215.0" r="2.2" fill="#bcbd22" fill-opacity="0.55"/>
<circle cx="331.3" cy="220.3" r="2.2" fill="#bcbd22" fill-opacity="0.55"/>
<circle cx="334.0" cy="210.1" r="2.2" fill="#bcbd22" fill-opacity="0.55"/>
<circle cx="328.7" cy="218.7" r="2.2" fill="#bcbd22" fill-opacity="0.55"/>
<circle cx="333.0" cy="215.8" r="2.2" fill="#bcbd22" fill-opacity="0.55"/>
<circle cx="336.1" cy="226.6" r="2.2" fill="#bcbd22" fill-opacity="0.55"/>
<circle cx="334.9" cy="225.5" r="2.2" fill="#bcbd22" fill-opacity="0.55"/>
<circle cx="330.6" cy="215.7" r="2.2" fill="#bcbd22" fill-opacity="0.55"/>
<circle cx="334.7" cy="210.5" r="2.2" fill="#bcbd22" fill-opacity="0.55"/>
<circle cx="333.2" cy="216.0" r="2.2" fill="#bcbd22" fill-opacity="0.55"/>
<circle cx="333.9" cy="221.4" r="2.2" fill="#bcbd22" fill-opacity="0.55"/>
<circle cx="334.4" cy="223.4" r="2.2" fill="#bcbd22" fill-opacity="0.55"/>
<circle cx="329.5" cy="214.9" r="2.2" fill="#bcbd22" fill-opacity="0.55"/>
<circle cx="334.1" cy="207.5" r="2.2" fill="#bcbd22" fill-opacity="0.55"/>
<circle cx="332.3" cy="200.7" r="2.2" fill="#bcbd22" fill-opacity="0.55"/>
<circle cx="330.8" cy="219.9" r="2.2" fill="#bcbd22" fill-opacity="0.55"/>
<circle cx="332.8" cy="239.7" r="2.2" fill="#bcbd22" fill-opacity="0.55"/>
<circle cx="331.2" cy="216.8" r="2.2" fill="#bcbd22" fill-opacity="0.55"/>
<circle cx="330.2" cy="211.4" r="2.2" fill="#bcbd22" fill-opacity="0.55"/>
<circle cx="331.1" cy="236.1" r="2.2" fill="#bcbd22" fill-opacity="0.55"/>
<circle cx="330.8" cy="224.6" r="2.2" fill="#bcbd22" fill-opacity="0.55"/>
<circle cx="331.2" cy="212.0" r="2.2" fill="#bcbd22" fill-opacity="0.55"/>
<circle cx="331.8" cy="220.8" r="2.2" fill="#bcbd22" fill-opacity="0.55"/>
<circle cx="331.0" cy="236.6" r="2.2" fill="#bcbd22" fill-opacity="0.55"/>
<circle cx="333.9" cy="217.5" r="2.2" fill="#bcbd22" fill-opacity="0.55"/>
<circle cx="334.2" cy="225.3" r="2.2" fill="#bcbd22" fill-opacity="0.55"/>
<circle cx="329.7" cy="220.4" r="2.2" fill="#bcbd22" fill-opacity="0.55"/>
<circle cx="336.4" cy="217.9" r="2.2" fill="#bcbd22" fill-opacity="0.55"/>
<circle cx="334.6" cy="225.3" r="2.2" fill="#bcbd22" fill-opacity="0.55"/>
<circle cx="336.1" cy="216.5" r="2.2" fill="#bcbd22" fill-opacity="0.55"/>
<circle cx="329.5" cy="212.7" r="2.2" fill="#bcbd22" fill-opacity="0.55"/>
<circle cx="333.9" cy="201.6" r="2.2" fill="#bcbd22" fill-opacity="0.55"/>
<circle cx="332.3" cy="226.5" r="2.2" fill="#bcbd22" fill-opacity="0.55"/>
<circle cx="328.8" cy="222.4" r="2.2" fill="#bcbd22" fill-opacity="0.55"/>
<circle cx="334.4" cy="202.0" r="2.2" fill="#bcbd22" fill-opacity="0.55"/>
<circle cx="333.9" cy="218.7" r="2.2" fill="#bcbd22" fill-opacity="0.55"/>
<circle cx="336.3" cy="229.2" r="2.2" fill="#bcbd22" fill-opacity="0.55"/>
<circle cx="330.3" cy="229.1" r="2.2" fill="#bcbd22" fill-opacity="0.55"/>
<circle cx="333.3" cy="216.4" r="2.2" fill="#bcbd22" fill-opacity="0.55"/>
<circle cx="335.9" cy="217.6" r="2.2" fill="#bcbd22" fill-opacity="0.55"/>
<circle cx="330.5" cy="218.5" r="2.2" fill="#bcbd22" fill-opacity="0.55"/>
<circle cx="334.9" cy="223.0" r="2.2" fill="#bcbd22" fill-opacity="0.55"/>
<circle cx="333.4" cy="224.8" r="2.2" fill="#bcbd22" fill-opacity="0.55"/>
<circle cx="336.5" cy="204.9" r="2.2" fill="#bcbd22" fill-opacity="0.55"/>
<circle cx="330.5" cy="224.6" r="2.2" fill="#bcbd22" fill-opacity="0.55"/>
<circle cx="333.3" cy="231.7" r="2.2" fill="#bcbd22" fill-opacity="0.55"/>
<circle cx="332.9" cy="217.5" r="2.2" fill="#bcbd22" fill-opacity="0.55"/>
<circle cx="329.6" cy="226.5" r="2.2" fill="#bcbd22" fill-opacity="0.55"/>
<circle cx="329.7" cy="213.0" r="2.2" fill="#bcbd22" fill-opacity="0.55"/>
<circle cx="335.2" cy="211.9" r="2.2" fill="#bcbd22" fill-opacity="0.55"/>
<circle cx="334.5" cy="214.6" r="2.2" fill="#bcbd22" fill-opacity="0.55"/>
<circle cx="336.6" cy="228.3" r="2.2" fill="#bcbd22" fill-opacity="0.55"/>
<circle cx="330.2" cy="225.5" r="2.2" fill="#bcbd22" fill-opacity="0.55"/>
<circle cx="332.8" cy="214.2" r="2.2" fill="#bcbd22" fill-opacity="0.55"/>
<circle cx="329.7" cy="209.9" r="2.2" fill="#bcbd22" fill-opacity="0.55"/>
<circle cx="336.0" cy="230.6" r="2.2" fill="#bcbd22" fill-opacity="0.55"/>
<circle cx="329.1" cy="223.7" r="2.2" fill="#bcbd22" fill-opacity="0.55"/>
<circle cx="333.6" cy="211.4" r="2.2" fill="#bcbd22" fill-opacity="0.55"/>
<circle cx="330.8" cy="203.6" r="2.2" fill="#bcbd22" fill-opacity="0.55"/>
<circle cx="329.8" cy="220.2" r="2.2" fill="#bcbd22" fill-opacity="0.55"/>
<circle cx="331.0" cy="215.4" r="2.2" fill="#bcbd22" fill-opacity="0.55"/>
<circle cx="333.3" cy="244.5" r="2.2" fill="#bcbd22" fill-opacity="0.55"/>
<circle cx="333.1" cy="245.4" r="2.2" fill="#bcbd22" fill-opacity="0.55"/>
<circle cx="331.6" cy="209.4" r="2.2" fill="#bcbd22" fill-opacity="0.55"/>
<circle cx="331.6" cy="222.8" r="2.2" fill="#bcbd22" fill-opacity="0.55"/>
<circle cx="335.2" cy="218.5" r="2.2" fill="#bcbd22" fill-opacity="0.55"/>
<circle cx="329.8" cy="214.9" r="2.2" fill="#bcbd22" fill-opacity="0.55"/>
<circle cx="330.1" cy="216.2" r="2.2" fill="#bcbd22" fill-opacity="0.55"/>
<circle cx="330.0" cy="217.4" r="2.2" fill="#bcbd22" fill-opacity="0.55"/>
<circle cx="335.0" cy="245.7" r="2.2" fill="#bcbd22" fill-opacity="0.55"/>
<circle cx="328.9" cy="201.6" r="2.2" fill="#bcbd22" fill-opacity="0.55"/>
<circle cx="335.6" cy="224.1" r="2.2" fill="#bcbd22" fill-opacity="0.55"/>
<circle cx="335.3" cy="216.1" r="2.2" fill="#bcbd22" fill-opacity="0.55"/>
<circle cx="332.0" cy="226.0" r="2.2" fill="#bcbd22" fill-opacity="0.55"/>
<circle cx="331.8" cy="216.0" r="2.2" fill="#bcbd22" fill-opacity="0.55"/>
<circle cx="329.9" cy="216.2" r="2.2" fill="#bcbd22" fill-opacity="0.55"/>
<circle cx="333.4" cy="223.2" r="2.2" fill="#bcbd22" fill-opacity="0.55"/>
<circle cx="331.8" cy="237.3" r="2.2" fill="#bcbd22" fill-opacity="0.55"/>
<circle cx="328.8" cy="218.8" r="2.2" fill="#bcbd22" fill-opacity="0.55"/>
<circle cx="334.8" cy="224.2" r="2.2" fill="#bcbd22" fill-opacity="0.55"/>
<circle cx="329.9" cy="225.7" r="2.2" fill="#bcbd22" fill-opacity="0.55"/>
<circle cx="333.9" cy="230.9" r="2.2" fill="#bcbd22" fill-opacity="0.55"/>
<circle cx="333.4" cy="219.8" r="2.2" fill="#bcbd22" fill-opacity="0.55"/>
<circle cx="329.4" cy="209.0" r="2.2" fill="#bcbd22" fill-opacity="0.55"/>
<circle cx="331.3" cy="235.8" r="2.2" fill="#bcbd22" fill-opacity="0.55"/>
<circle cx="331.4" cy="217.4" r="2.2" fill="#bcbd22" fill-opacity="0.55"/>
<circle cx="332.7" cy="233.3" r="2.2" fill="#bcbd22" fill-opacity="0.55"/>
<circle cx="332.7" cy="199.8" r="2.2" fill="#bcbd22" fill-opacity="0.55"/>
<circle cx="335.3" cy="216.4" r="2.2" fill="#bcbd22" fill-opacity="0.55"/>
<circle cx="333.4" cy="244.6" r="2.2" fill="#bcbd22" fill-opacity="0.55"/>
<circle cx="329.1" cy="234.8" r="2.2" fill="#bcbd22" fill-opacity="0.55"/>
<circle cx="332.4" cy="199.0" r="2.2" fill="#bcbd22" fill-opacity="0.55"/>
<circle cx="331.8" cy="245.7" r="2.2" fill="#bcbd22" fill-opacity="0.55"/>
<circle cx="331.0" cy="247.2" r="2.2" fill="#bcbd22" fill-opacity="0.55"/>
<circle cx="334.0" cy="246.0" r="2.2" fill="#bcbd22" fill-opacity="0.55"/>
<polyline points="289.5,159.3 289.5,262.2 348.6,262.2" fill="none" stroke="#4d4d4d" stroke-width="1"/>
<line x1="287.7" y1="167.0" x2="289.5" y2="167.0" stroke="#4d4d4d" stroke-width="0.8"/>
<text transform="translate(287.30,170.30) scale(1,1.08)" font-size="9.1" fill="#3d3d3d" text-anchor="end" stroke="#3d3d3d" stroke-width="0.18">0.5</text>
<line x1="287.7" y1="191.0" x2="289.5" y2="191.0" stroke="#4d4d4d" stroke-width="0.8"/>
<text transform="translate(287.30,194.30) scale(1,1.08)" font-size="9.1" fill="#3d3d3d" text-anchor="end" stroke="#3d3d3d" stroke-width="0.18">0.2</text>
<line x1="287.7" y1="215.2" x2="289.5" y2="215.2" stroke="#4d4d4d" stroke-width="0.8"/>
<text transform="translate(287.30,218.50) scale(1,1.08)" font-size="9.1" fill="#3d3d3d" text-anchor="end" stroke="#3d3d3d" stroke-width="0.18">0.0</text>
<line x1="287.7" y1="239.6" x2="289.5" y2="239.6" stroke="#4d4d4d" stroke-width="0.8"/>
<text transform="translate(287.30,242.90) scale(1,1.08)" font-size="9.1" fill="#3d3d3d" text-anchor="end" stroke="#3d3d3d" stroke-width="0.18">−0.2</text>
<line x1="305.6" y1="262.2" x2="305.6" y2="263.8" stroke="#4d4d4d" stroke-width="0.8"/>
<text transform="translate(305.60,270.70) scale(1,1.1)" font-size="9.0" fill="#3d3d3d" text-anchor="middle" stroke="#3d3d3d" stroke-width="0.18">M</text>
<line x1="332.6" y1="262.2" x2="332.6" y2="263.8" stroke="#4d4d4d" stroke-width="0.8"/>
<text transform="translate(332.60,270.70) scale(1,1.1)" font-size="9.0" fill="#3d3d3d" text-anchor="middle" stroke="#3d3d3d" stroke-width="0.18">V</text>
<text x="319.05" y="173.90" font-size="10.0" fill="#000" text-anchor="middle" stroke="#000" stroke-width="0.25">1.7e−05</text>
<polyline points="305.6,176.8 305.6,174.9 332.6,174.9 332.6,176.8" fill="none" stroke="#444" stroke-width="0.8"/>
<rect x="403.1" y="143.4" width="13.8" height="13.9" rx="2.4" fill="#fff" stroke="#333" stroke-width="0.8"/>
<text x="410.00" y="154.50" font-size="10.2" fill="#000" text-anchor="middle" font-weight="bold">5</text>
<line x1="439.8" y1="159.3" x2="439.8" y2="262.2" stroke="#a8a8a8" stroke-width="1.1"/>
<line x1="380.2" y1="159.3" x2="440.3" y2="159.3" stroke="#7d7d7d" stroke-width="0.9"/>
<line x1="396.7" y1="179.9" x2="396.7" y2="221.8" stroke="#555" stroke-width="0.8"/>
<rect x="385.7" y="187.6" width="22" height="16.0" fill="#8bdee7" stroke="#555" stroke-width="0.9"/>
<line x1="385.7" y1="193.6" x2="407.7" y2="193.6" stroke="#333" stroke-width="1.3"/>
<line x1="423.6" y1="186.5" x2="423.6" y2="239.5" stroke="#555" stroke-width="0.8"/>
<rect x="412.6" y="198.4" width="22" height="17.8" fill="#dedf90" stroke="#555" stroke-width="0.9"/>
<line x1="412.6" y1="205.2" x2="434.6" y2="205.2" stroke="#333" stroke-width="1.3"/>
<circle cx="398.6" cy="188.4" r="2.2" fill="#17becf" fill-opacity="0.55"/>
<circle cx="398.4" cy="186.3" r="2.2" fill="#17becf" fill-opacity="0.55"/>
<circle cx="394.0" cy="193.5" r="2.2" fill="#17becf" fill-opacity="0.55"/>
<circle cx="397.9" cy="192.9" r="2.2" fill="#17becf" fill-opacity="0.55"/>
<circle cx="399.6" cy="183.8" r="2.2" fill="#17becf" fill-opacity="0.55"/>
<circle cx="395.3" cy="197.5" r="2.2" fill="#17becf" fill-opacity="0.55"/>
<circle cx="396.0" cy="199.9" r="2.2" fill="#17becf" fill-opacity="0.55"/>
<circle cx="394.8" cy="199.0" r="2.2" fill="#17becf" fill-opacity="0.55"/>
<circle cx="393.5" cy="211.0" r="2.2" fill="#17becf" fill-opacity="0.55"/>
<circle cx="399.3" cy="201.6" r="2.2" fill="#17becf" fill-opacity="0.55"/>
<circle cx="400.1" cy="185.7" r="2.2" fill="#17becf" fill-opacity="0.55"/>
<circle cx="394.3" cy="180.0" r="2.2" fill="#17becf" fill-opacity="0.55"/>
<circle cx="398.0" cy="193.4" r="2.2" fill="#17becf" fill-opacity="0.55"/>
<circle cx="397.8" cy="190.3" r="2.2" fill="#17becf" fill-opacity="0.55"/>
<circle cx="394.1" cy="187.6" r="2.2" fill="#17becf" fill-opacity="0.55"/>
<circle cx="395.7" cy="194.0" r="2.2" fill="#17becf" fill-opacity="0.55"/>
<circle cx="397.7" cy="204.6" r="2.2" fill="#17becf" fill-opacity="0.55"/>
<circle cx="392.8" cy="204.5" r="2.2" fill="#17becf" fill-opacity="0.55"/>
<circle cx="393.3" cy="192.1" r="2.2" fill="#17becf" fill-opacity="0.55"/>
<circle cx="397.7" cy="200.8" r="2.2" fill="#17becf" fill-opacity="0.55"/>
<circle cx="398.5" cy="198.9" r="2.2" fill="#17becf" fill-opacity="0.55"/>
<circle cx="398.3" cy="181.7" r="2.2" fill="#17becf" fill-opacity="0.55"/>
<circle cx="399.4" cy="188.3" r="2.2" fill="#17becf" fill-opacity="0.55"/>
<circle cx="398.6" cy="198.8" r="2.2" fill="#17becf" fill-opacity="0.55"/>
<circle cx="400.0" cy="193.9" r="2.2" fill="#17becf" fill-opacity="0.55"/>
<circle cx="396.3" cy="209.3" r="2.2" fill="#17becf" fill-opacity="0.55"/>
<circle cx="397.4" cy="211.2" r="2.2" fill="#17becf" fill-opacity="0.55"/>
<circle cx="395.2" cy="189.9" r="2.2" fill="#17becf" fill-opacity="0.55"/>
<circle cx="397.8" cy="203.2" r="2.2" fill="#17becf" fill-opacity="0.55"/>
<circle cx="398.2" cy="193.5" r="2.2" fill="#17becf" fill-opacity="0.55"/>
<circle cx="395.3" cy="204.6" r="2.2" fill="#17becf" fill-opacity="0.55"/>
<circle cx="394.4" cy="204.0" r="2.2" fill="#17becf" fill-opacity="0.55"/>
<circle cx="396.2" cy="179.9" r="2.2" fill="#17becf" fill-opacity="0.55"/>
<circle cx="396.2" cy="221.8" r="2.2" fill="#17becf" fill-opacity="0.55"/>
<circle cx="394.0" cy="217.0" r="2.2" fill="#17becf" fill-opacity="0.55"/>
<circle cx="398.0" cy="214.0" r="2.2" fill="#17becf" fill-opacity="0.55"/>
<circle cx="421.2" cy="204.6" r="2.2" fill="#bcbd22" fill-opacity="0.55"/>
<circle cx="421.4" cy="224.0" r="2.2" fill="#bcbd22" fill-opacity="0.55"/>
<circle cx="421.2" cy="207.8" r="2.2" fill="#bcbd22" fill-opacity="0.55"/>
<circle cx="426.7" cy="206.0" r="2.2" fill="#bcbd22" fill-opacity="0.55"/>
<circle cx="424.0" cy="209.5" r="2.2" fill="#bcbd22" fill-opacity="0.55"/>
<circle cx="422.8" cy="201.8" r="2.2" fill="#bcbd22" fill-opacity="0.55"/>
<circle cx="425.8" cy="221.2" r="2.2" fill="#bcbd22" fill-opacity="0.55"/>
<circle cx="426.8" cy="208.2" r="2.2" fill="#bcbd22" fill-opacity="0.55"/>
<circle cx="425.8" cy="220.7" r="2.2" fill="#bcbd22" fill-opacity="0.55"/>
<circle cx="419.7" cy="202.1" r="2.2" fill="#bcbd22" fill-opacity="0.55"/>
<circle cx="419.8" cy="209.9" r="2.2" fill="#bcbd22" fill-opacity="0.55"/>
<circle cx="419.9" cy="188.7" r="2.2" fill="#bcbd22" fill-opacity="0.55"/>
<circle cx="426.0" cy="217.5" r="2.2" fill="#bcbd22" fill-opacity="0.55"/>
<circle cx="425.0" cy="191.9" r="2.2" fill="#bcbd22" fill-opacity="0.55"/>
<circle cx="420.6" cy="222.4" r="2.2" fill="#bcbd22" fill-opacity="0.55"/>
<circle cx="422.5" cy="201.9" r="2.2" fill="#bcbd22" fill-opacity="0.55"/>
<circle cx="420.1" cy="199.6" r="2.2" fill="#bcbd22" fill-opacity="0.55"/>
<circle cx="422.1" cy="220.0" r="2.2" fill="#bcbd22" fill-opacity="0.55"/>
<circle cx="427.4" cy="209.9" r="2.2" fill="#bcbd22" fill-opacity="0.55"/>
<circle cx="424.5" cy="215.8" r="2.2" fill="#bcbd22" fill-opacity="0.55"/>
<circle cx="420.9" cy="193.6" r="2.2" fill="#bcbd22" fill-opacity="0.55"/>
<circle cx="427.0" cy="206.8" r="2.2" fill="#bcbd22" fill-opacity="0.55"/>
<circle cx="421.4" cy="188.4" r="2.2" fill="#bcbd22" fill-opacity="0.55"/>
<circle cx="426.2" cy="218.7" r="2.2" fill="#bcbd22" fill-opacity="0.55"/>
<circle cx="424.2" cy="200.1" r="2.2" fill="#bcbd22" fill-opacity="0.55"/>
<circle cx="419.9" cy="218.6" r="2.2" fill="#bcbd22" fill-opacity="0.55"/>
<circle cx="425.3" cy="204.3" r="2.2" fill="#bcbd22" fill-opacity="0.55"/>
<circle cx="424.4" cy="219.3" r="2.2" fill="#bcbd22" fill-opacity="0.55"/>
<circle cx="426.8" cy="216.5" r="2.2" fill="#bcbd22" fill-opacity="0.55"/>
<circle cx="425.2" cy="198.4" r="2.2" fill="#bcbd22" fill-opacity="0.55"/>
<circle cx="419.9" cy="201.5" r="2.2" fill="#bcbd22" fill-opacity="0.55"/>
<circle cx="421.6" cy="193.0" r="2.2" fill="#bcbd22" fill-opacity="0.55"/>
<circle cx="424.9" cy="191.0" r="2.2" fill="#bcbd22" fill-opacity="0.55"/>
<circle cx="423.8" cy="198.7" r="2.2" fill="#bcbd22" fill-opacity="0.55"/>
<circle cx="423.7" cy="204.4" r="2.2" fill="#bcbd22" fill-opacity="0.55"/>
<circle cx="423.4" cy="215.4" r="2.2" fill="#bcbd22" fill-opacity="0.55"/>
<circle cx="423.4" cy="188.5" r="2.2" fill="#bcbd22" fill-opacity="0.55"/>
<circle cx="421.8" cy="222.7" r="2.2" fill="#bcbd22" fill-opacity="0.55"/>
<circle cx="420.0" cy="214.2" r="2.2" fill="#bcbd22" fill-opacity="0.55"/>
<circle cx="426.1" cy="188.4" r="2.2" fill="#bcbd22" fill-opacity="0.55"/>
<circle cx="427.2" cy="202.6" r="2.2" fill="#bcbd22" fill-opacity="0.55"/>
<circle cx="423.9" cy="199.6" r="2.2" fill="#bcbd22" fill-opacity="0.55"/>
<circle cx="419.9" cy="206.7" r="2.2" fill="#bcbd22" fill-opacity="0.55"/>
<circle cx="423.7" cy="216.4" r="2.2" fill="#bcbd22" fill-opacity="0.55"/>
<circle cx="425.9" cy="201.3" r="2.2" fill="#bcbd22" fill-opacity="0.55"/>
<circle cx="421.8" cy="198.8" r="2.2" fill="#bcbd22" fill-opacity="0.55"/>
<circle cx="422.2" cy="215.4" r="2.2" fill="#bcbd22" fill-opacity="0.55"/>
<circle cx="420.8" cy="209.7" r="2.2" fill="#bcbd22" fill-opacity="0.55"/>
<circle cx="419.8" cy="220.7" r="2.2" fill="#bcbd22" fill-opacity="0.55"/>
<circle cx="421.5" cy="202.8" r="2.2" fill="#bcbd22" fill-opacity="0.55"/>
<circle cx="425.7" cy="205.2" r="2.2" fill="#bcbd22" fill-opacity="0.55"/>
<circle cx="422.8" cy="206.2" r="2.2" fill="#bcbd22" fill-opacity="0.55"/>
<circle cx="421.9" cy="204.9" r="2.2" fill="#bcbd22" fill-opacity="0.55"/>
<circle cx="421.2" cy="226.3" r="2.2" fill="#bcbd22" fill-opacity="0.55"/>
<circle cx="427.2" cy="202.7" r="2.2" fill="#bcbd22" fill-opacity="0.55"/>
<circle cx="419.8" cy="218.4" r="2.2" fill="#bcbd22" fill-opacity="0.55"/>
<circle cx="424.3" cy="217.7" r="2.2" fill="#bcbd22" fill-opacity="0.55"/>
<circle cx="421.5" cy="213.2" r="2.2" fill="#bcbd22" fill-opacity="0.55"/>
<circle cx="422.2" cy="216.0" r="2.2" fill="#bcbd22" fill-opacity="0.55"/>
<circle cx="427.3" cy="197.6" r="2.2" fill="#bcbd22" fill-opacity="0.55"/>
<circle cx="423.6" cy="210.6" r="2.2" fill="#bcbd22" fill-opacity="0.55"/>
<circle cx="425.2" cy="218.3" r="2.2" fill="#bcbd22" fill-opacity="0.55"/>
<circle cx="426.8" cy="194.3" r="2.2" fill="#bcbd22" fill-opacity="0.55"/>
<circle cx="425.7" cy="223.2" r="2.2" fill="#bcbd22" fill-opacity="0.55"/>
<circle cx="426.9" cy="199.6" r="2.2" fill="#bcbd22" fill-opacity="0.55"/>
<circle cx="423.7" cy="207.7" r="2.2" fill="#bcbd22" fill-opacity="0.55"/>
<circle cx="422.0" cy="203.9" r="2.2" fill="#bcbd22" fill-opacity="0.55"/>
<circle cx="420.4" cy="235.1" r="2.2" fill="#bcbd22" fill-opacity="0.55"/>
<circle cx="425.4" cy="226.7" r="2.2" fill="#bcbd22" fill-opacity="0.55"/>
<circle cx="425.3" cy="190.9" r="2.2" fill="#bcbd22" fill-opacity="0.55"/>
<circle cx="425.1" cy="198.2" r="2.2" fill="#bcbd22" fill-opacity="0.55"/>
<circle cx="425.2" cy="215.7" r="2.2" fill="#bcbd22" fill-opacity="0.55"/>
<circle cx="422.1" cy="217.9" r="2.2" fill="#bcbd22" fill-opacity="0.55"/>
<circle cx="421.5" cy="203.1" r="2.2" fill="#bcbd22" fill-opacity="0.55"/>
<circle cx="423.6" cy="219.1" r="2.2" fill="#bcbd22" fill-opacity="0.55"/>
<circle cx="420.4" cy="214.5" r="2.2" fill="#bcbd22" fill-opacity="0.55"/>
<circle cx="422.8" cy="215.9" r="2.2" fill="#bcbd22" fill-opacity="0.55"/>
<circle cx="426.2" cy="228.0" r="2.2" fill="#bcbd22" fill-opacity="0.55"/>
<circle cx="422.1" cy="216.6" r="2.2" fill="#bcbd22" fill-opacity="0.55"/>
<circle cx="420.3" cy="198.0" r="2.2" fill="#bcbd22" fill-opacity="0.55"/>
<circle cx="424.1" cy="187.3" r="2.2" fill="#bcbd22" fill-opacity="0.55"/>
<circle cx="421.9" cy="187.3" r="2.2" fill="#bcbd22" fill-opacity="0.55"/>
<circle cx="419.8" cy="217.0" r="2.2" fill="#bcbd22" fill-opacity="0.55"/>
<circle cx="427.4" cy="201.6" r="2.2" fill="#bcbd22" fill-opacity="0.55"/>
<circle cx="422.6" cy="206.0" r="2.2" fill="#bcbd22" fill-opacity="0.55"/>
<circle cx="420.2" cy="197.8" r="2.2" fill="#bcbd22" fill-opacity="0.55"/>
<circle cx="427.1" cy="214.8" r="2.2" fill="#bcbd22" fill-opacity="0.55"/>
<circle cx="421.6" cy="192.9" r="2.2" fill="#bcbd22" fill-opacity="0.55"/>
<circle cx="419.7" cy="199.0" r="2.2" fill="#bcbd22" fill-opacity="0.55"/>
<circle cx="427.5" cy="234.8" r="2.2" fill="#bcbd22" fill-opacity="0.55"/>
<circle cx="424.4" cy="204.8" r="2.2" fill="#bcbd22" fill-opacity="0.55"/>
<circle cx="423.9" cy="201.3" r="2.2" fill="#bcbd22" fill-opacity="0.55"/>
<circle cx="424.2" cy="204.8" r="2.2" fill="#bcbd22" fill-opacity="0.55"/>
<circle cx="422.5" cy="201.5" r="2.2" fill="#bcbd22" fill-opacity="0.55"/>
<circle cx="425.0" cy="235.6" r="2.2" fill="#bcbd22" fill-opacity="0.55"/>
<circle cx="425.1" cy="198.6" r="2.2" fill="#bcbd22" fill-opacity="0.55"/>
<circle cx="425.5" cy="199.6" r="2.2" fill="#bcbd22" fill-opacity="0.55"/>
<circle cx="425.9" cy="192.0" r="2.2" fill="#bcbd22" fill-opacity="0.55"/>
<circle cx="424.4" cy="190.3" r="2.2" fill="#bcbd22" fill-opacity="0.55"/>
<circle cx="426.9" cy="195.3" r="2.2" fill="#bcbd22" fill-opacity="0.55"/>
<circle cx="422.7" cy="186.5" r="2.2" fill="#bcbd22" fill-opacity="0.55"/>
<circle cx="422.7" cy="239.5" r="2.2" fill="#bcbd22" fill-opacity="0.55"/>
<circle cx="421.1" cy="247.2" r="2.2" fill="#bcbd22" fill-opacity="0.55"/>
<polyline points="380.2,159.3 380.2,262.2 439.8,262.2" fill="none" stroke="#4d4d4d" stroke-width="1"/>
<line x1="378.4" y1="162.7" x2="380.2" y2="162.7" stroke="#4d4d4d" stroke-width="0.8"/>
<text transform="translate(378.00,166.00) scale(1,1.08)" font-size="9.1" fill="#3d3d3d" text-anchor="end" stroke="#3d3d3d" stroke-width="0.18">1.0</text>
<line x1="378.4" y1="182.3" x2="380.2" y2="182.3" stroke="#4d4d4d" stroke-width="0.8"/>
<text transform="translate(378.00,185.60) scale(1,1.08)" font-size="9.1" fill="#3d3d3d" text-anchor="end" stroke="#3d3d3d" stroke-width="0.18">0.5</text>
<line x1="378.4" y1="202.3" x2="380.2" y2="202.3" stroke="#4d4d4d" stroke-width="0.8"/>
<text transform="translate(378.00,205.60) scale(1,1.08)" font-size="9.1" fill="#3d3d3d" text-anchor="end" stroke="#3d3d3d" stroke-width="0.18">0.0</text>
<line x1="378.4" y1="221.3" x2="380.2" y2="221.3" stroke="#4d4d4d" stroke-width="0.8"/>
<text transform="translate(378.00,224.60) scale(1,1.08)" font-size="9.1" fill="#3d3d3d" text-anchor="end" stroke="#3d3d3d" stroke-width="0.18">−0.5</text>
<line x1="378.4" y1="241.0" x2="380.2" y2="241.0" stroke="#4d4d4d" stroke-width="0.8"/>
<text transform="translate(378.00,244.30) scale(1,1.08)" font-size="9.1" fill="#3d3d3d" text-anchor="end" stroke="#3d3d3d" stroke-width="0.18">−1.0</text>
<line x1="378.4" y1="260.4" x2="380.2" y2="260.4" stroke="#4d4d4d" stroke-width="0.8"/>
<text transform="translate(378.00,263.70) scale(1,1.08)" font-size="9.1" fill="#3d3d3d" text-anchor="end" stroke="#3d3d3d" stroke-width="0.18">−1.5</text>
<line x1="396.7" y1="262.2" x2="396.7" y2="263.8" stroke="#4d4d4d" stroke-width="0.8"/>
<text transform="translate(396.70,270.70) scale(1,1.1)" font-size="9.0" fill="#3d3d3d" text-anchor="middle" stroke="#3d3d3d" stroke-width="0.18">M</text>
<line x1="423.6" y1="262.2" x2="423.6" y2="263.8" stroke="#4d4d4d" stroke-width="0.8"/>
<text transform="translate(423.60,270.70) scale(1,1.1)" font-size="9.0" fill="#3d3d3d" text-anchor="middle" stroke="#3d3d3d" stroke-width="0.18">V</text>
<text x="410.00" y="173.40" font-size="8.9" fill="#000" text-anchor="middle" stroke="#000" stroke-width="0.25">0.00015</text>
<polyline points="396.7,176.8 396.7,174.9 423.6,174.9 423.6,176.8" fill="none" stroke="#444" stroke-width="0.8"/>
<rect x="494.4" y="143.4" width="13.8" height="13.9" rx="2.4" fill="#fff" stroke="#333" stroke-width="0.8"/>
<text x="501.30" y="154.50" font-size="10.2" fill="#000" text-anchor="middle" font-weight="bold">6</text>
<line x1="531.0" y1="159.3" x2="531.0" y2="262.2" stroke="#cccccc" stroke-width="1.4"/>
<line x1="471.6" y1="159.3" x2="531.5" y2="159.3" stroke="#7d7d7d" stroke-width="0.9"/>
<line x1="487.9" y1="183.4" x2="487.9" y2="216.6" stroke="#555" stroke-width="0.8"/>
<rect x="476.9" y="187.2" width="22" height="12.4" fill="#8bdee7" stroke="#555" stroke-width="0.9"/>
<line x1="476.9" y1="192.1" x2="498.9" y2="192.1" stroke="#333" stroke-width="1.3"/>
<line x1="514.7" y1="180.3" x2="514.7" y2="246.7" stroke="#555" stroke-width="0.8"/>
<rect x="503.7" y="193.8" width="22" height="30.5" fill="#dedf90" stroke="#555" stroke-width="0.9"/>
<line x1="503.7" y1="210.4" x2="525.7" y2="210.4" stroke="#333" stroke-width="1.3"/>
<circle cx="490.2" cy="190.4" r="2.2" fill="#17becf" fill-opacity="0.55"/>
<circle cx="490.0" cy="190.6" r="2.2" fill="#17becf" fill-opacity="0.55"/>
<circle cx="486.7" cy="187.0" r="2.2" fill="#17becf" fill-opacity="0.55"/>
<circle cx="489.2" cy="191.4" r="2.2" fill="#17becf" fill-opacity="0.55"/>
<circle cx="487.3" cy="187.0" r="2.2" fill="#17becf" fill-opacity="0.55"/>
<circle cx="490.9" cy="186.1" r="2.2" fill="#17becf" fill-opacity="0.55"/>
<circle cx="491.8" cy="191.0" r="2.2" fill="#17becf" fill-opacity="0.55"/>
<circle cx="490.4" cy="199.3" r="2.2" fill="#17becf" fill-opacity="0.55"/>
<circle cx="491.3" cy="194.0" r="2.2" fill="#17becf" fill-opacity="0.55"/>
<circle cx="484.8" cy="189.0" r="2.2" fill="#17becf" fill-opacity="0.55"/>
<circle cx="490.9" cy="188.4" r="2.2" fill="#17becf" fill-opacity="0.55"/>
<circle cx="489.8" cy="187.3" r="2.2" fill="#17becf" fill-opacity="0.55"/>
<circle cx="487.9" cy="185.8" r="2.2" fill="#17becf" fill-opacity="0.55"/>
<circle cx="490.5" cy="189.0" r="2.2" fill="#17becf" fill-opacity="0.55"/>
<circle cx="491.6" cy="196.5" r="2.2" fill="#17becf" fill-opacity="0.55"/>
<circle cx="489.5" cy="187.5" r="2.2" fill="#17becf" fill-opacity="0.55"/>
<circle cx="486.2" cy="203.8" r="2.2" fill="#17becf" fill-opacity="0.55"/>
<circle cx="484.8" cy="187.1" r="2.2" fill="#17becf" fill-opacity="0.55"/>
<circle cx="490.8" cy="198.0" r="2.2" fill="#17becf" fill-opacity="0.55"/>
<circle cx="484.0" cy="189.2" r="2.2" fill="#17becf" fill-opacity="0.55"/>
<circle cx="490.8" cy="199.8" r="2.2" fill="#17becf" fill-opacity="0.55"/>
<circle cx="487.5" cy="184.9" r="2.2" fill="#17becf" fill-opacity="0.55"/>
<circle cx="489.2" cy="198.5" r="2.2" fill="#17becf" fill-opacity="0.55"/>
<circle cx="486.7" cy="207.8" r="2.2" fill="#17becf" fill-opacity="0.55"/>
<circle cx="485.8" cy="190.8" r="2.2" fill="#17becf" fill-opacity="0.55"/>
<circle cx="484.6" cy="190.1" r="2.2" fill="#17becf" fill-opacity="0.55"/>
<circle cx="487.8" cy="187.6" r="2.2" fill="#17becf" fill-opacity="0.55"/>
<circle cx="486.6" cy="213.1" r="2.2" fill="#17becf" fill-opacity="0.55"/>
<circle cx="490.9" cy="187.2" r="2.2" fill="#17becf" fill-opacity="0.55"/>
<circle cx="486.8" cy="187.1" r="2.2" fill="#17becf" fill-opacity="0.55"/>
<circle cx="485.6" cy="199.6" r="2.2" fill="#17becf" fill-opacity="0.55"/>
<circle cx="490.8" cy="194.1" r="2.2" fill="#17becf" fill-opacity="0.55"/>
<circle cx="487.9" cy="183.4" r="2.2" fill="#17becf" fill-opacity="0.55"/>
<circle cx="488.3" cy="216.6" r="2.2" fill="#17becf" fill-opacity="0.55"/>
<circle cx="490.3" cy="222.4" r="2.2" fill="#17becf" fill-opacity="0.55"/>
<circle cx="487.0" cy="227.0" r="2.2" fill="#17becf" fill-opacity="0.55"/>
<circle cx="489.0" cy="212.0" r="2.2" fill="#17becf" fill-opacity="0.55"/>
<circle cx="514.5" cy="201.5" r="2.2" fill="#bcbd22" fill-opacity="0.55"/>
<circle cx="516.2" cy="225.6" r="2.2" fill="#bcbd22" fill-opacity="0.55"/>
<circle cx="511.1" cy="200.8" r="2.2" fill="#bcbd22" fill-opacity="0.55"/>
<circle cx="517.5" cy="196.3" r="2.2" fill="#bcbd22" fill-opacity="0.55"/>
<circle cx="513.5" cy="199.4" r="2.2" fill="#bcbd22" fill-opacity="0.55"/>
<circle cx="515.8" cy="192.9" r="2.2" fill="#bcbd22" fill-opacity="0.55"/>
<circle cx="512.6" cy="184.2" r="2.2" fill="#bcbd22" fill-opacity="0.55"/>
<circle cx="512.9" cy="193.5" r="2.2" fill="#bcbd22" fill-opacity="0.55"/>
<circle cx="518.0" cy="196.7" r="2.2" fill="#bcbd22" fill-opacity="0.55"/>
<circle cx="515.2" cy="236.5" r="2.2" fill="#bcbd22" fill-opacity="0.55"/>
<circle cx="516.2" cy="181.6" r="2.2" fill="#bcbd22" fill-opacity="0.55"/>
<circle cx="514.2" cy="183.8" r="2.2" fill="#bcbd22" fill-opacity="0.55"/>
<circle cx="514.5" cy="217.0" r="2.2" fill="#bcbd22" fill-opacity="0.55"/>
<circle cx="513.1" cy="240.6" r="2.2" fill="#bcbd22" fill-opacity="0.55"/>
<circle cx="515.2" cy="212.9" r="2.2" fill="#bcbd22" fill-opacity="0.55"/>
<circle cx="512.4" cy="224.4" r="2.2" fill="#bcbd22" fill-opacity="0.55"/>
<circle cx="516.5" cy="199.1" r="2.2" fill="#bcbd22" fill-opacity="0.55"/>
<circle cx="516.6" cy="230.6" r="2.2" fill="#bcbd22" fill-opacity="0.55"/>
<circle cx="511.3" cy="202.9" r="2.2" fill="#bcbd22" fill-opacity="0.55"/>
<circle cx="517.8" cy="181.4" r="2.2" fill="#bcbd22" fill-opacity="0.55"/>
<circle cx="515.5" cy="215.3" r="2.2" fill="#bcbd22" fill-opacity="0.55"/>
<circle cx="517.5" cy="216.8" r="2.2" fill="#bcbd22" fill-opacity="0.55"/>
<circle cx="516.6" cy="211.7" r="2.2" fill="#bcbd22" fill-opacity="0.55"/>
<circle cx="514.9" cy="211.8" r="2.2" fill="#bcbd22" fill-opacity="0.55"/>
<circle cx="516.1" cy="199.7" r="2.2" fill="#bcbd22" fill-opacity="0.55"/>
<circle cx="518.6" cy="216.3" r="2.2" fill="#bcbd22" fill-opacity="0.55"/>
<circle cx="511.5" cy="189.8" r="2.2" fill="#bcbd22" fill-opacity="0.55"/>
<circle cx="516.2" cy="219.6" r="2.2" fill="#bcbd22" fill-opacity="0.55"/>
<circle cx="512.4" cy="206.0" r="2.2" fill="#bcbd22" fill-opacity="0.55"/>
<circle cx="518.0" cy="191.5" r="2.2" fill="#bcbd22" fill-opacity="0.55"/>
<circle cx="518.7" cy="231.0" r="2.2" fill="#bcbd22" fill-opacity="0.55"/>
<circle cx="514.0" cy="189.9" r="2.2" fill="#bcbd22" fill-opacity="0.55"/>
<circle cx="517.4" cy="191.6" r="2.2" fill="#bcbd22" fill-opacity="0.55"/>
<circle cx="517.2" cy="224.6" r="2.2" fill="#bcbd22" fill-opacity="0.55"/>
<circle cx="514.5" cy="203.4" r="2.2" fill="#bcbd22" fill-opacity="0.55"/>
<circle cx="514.2" cy="214.0" r="2.2" fill="#bcbd22" fill-opacity="0.55"/>
<circle cx="513.4" cy="188.0" r="2.2" fill="#bcbd22" fill-opacity="0.55"/>
<circle cx="518.6" cy="211.0" r="2.2" fill="#bcbd22" fill-opacity="0.55"/>
<circle cx="513.7" cy="231.0" r="2.2" fill="#bcbd22" fill-opacity="0.55"/>
<circle cx="514.3" cy="245.7" r="2.2" fill="#bcbd22" fill-opacity="0.55"/>
<circle cx="512.2" cy="228.1" r="2.2" fill="#bcbd22" fill-opacity="0.55"/>
<circle cx="518.4" cy="224.3" r="2.2" fill="#bcbd22" fill-opacity="0.55"/>
<circle cx="515.2" cy="186.0" r="2.2" fill="#bcbd22" fill-opacity="0.55"/>
<circle cx="511.1" cy="207.8" r="2.2" fill="#bcbd22" fill-opacity="0.55"/>
<circle cx="511.1" cy="243.5" r="2.2" fill="#bcbd22" fill-opacity="0.55"/>
<circle cx="511.2" cy="230.8" r="2.2" fill="#bcbd22" fill-opacity="0.55"/>
<circle cx="512.1" cy="245.1" r="2.2" fill="#bcbd22" fill-opacity="0.55"/>
<circle cx="514.3" cy="196.4" r="2.2" fill="#bcbd22" fill-opacity="0.55"/>
<circle cx="513.3" cy="213.3" r="2.2" fill="#bcbd22" fill-opacity="0.55"/>
<circle cx="515.0" cy="218.3" r="2.2" fill="#bcbd22" fill-opacity="0.55"/>
<circle cx="514.4" cy="182.7" r="2.2" fill="#bcbd22" fill-opacity="0.55"/>
<circle cx="517.4" cy="189.7" r="2.2" fill="#bcbd22" fill-opacity="0.55"/>
<circle cx="517.3" cy="220.7" r="2.2" fill="#bcbd22" fill-opacity="0.55"/>
<circle cx="511.5" cy="185.8" r="2.2" fill="#bcbd22" fill-opacity="0.55"/>
<circle cx="513.8" cy="216.8" r="2.2" fill="#bcbd22" fill-opacity="0.55"/>
<circle cx="513.4" cy="240.0" r="2.2" fill="#bcbd22" fill-opacity="0.55"/>
<circle cx="517.6" cy="193.4" r="2.2" fill="#bcbd22" fill-opacity="0.55"/>
<circle cx="513.8" cy="207.4" r="2.2" fill="#bcbd22" fill-opacity="0.55"/>
<circle cx="517.3" cy="192.9" r="2.2" fill="#bcbd22" fill-opacity="0.55"/>
<circle cx="516.2" cy="223.0" r="2.2" fill="#bcbd22" fill-opacity="0.55"/>
<circle cx="511.6" cy="184.7" r="2.2" fill="#bcbd22" fill-opacity="0.55"/>
<circle cx="511.3" cy="217.6" r="2.2" fill="#bcbd22" fill-opacity="0.55"/>
<circle cx="511.7" cy="189.1" r="2.2" fill="#bcbd22" fill-opacity="0.55"/>
<circle cx="518.5" cy="234.6" r="2.2" fill="#bcbd22" fill-opacity="0.55"/>
<circle cx="514.6" cy="224.3" r="2.2" fill="#bcbd22" fill-opacity="0.55"/>
<circle cx="514.3" cy="225.6" r="2.2" fill="#bcbd22" fill-opacity="0.55"/>
<circle cx="518.5" cy="196.9" r="2.2" fill="#bcbd22" fill-opacity="0.55"/>
<circle cx="515.1" cy="220.9" r="2.2" fill="#bcbd22" fill-opacity="0.55"/>
<circle cx="512.9" cy="232.7" r="2.2" fill="#bcbd22" fill-opacity="0.55"/>
<circle cx="512.5" cy="196.8" r="2.2" fill="#bcbd22" fill-opacity="0.55"/>
<circle cx="510.9" cy="227.4" r="2.2" fill="#bcbd22" fill-opacity="0.55"/>
<circle cx="518.1" cy="245.2" r="2.2" fill="#bcbd22" fill-opacity="0.55"/>
<circle cx="512.2" cy="182.7" r="2.2" fill="#bcbd22" fill-opacity="0.55"/>
<circle cx="515.6" cy="200.9" r="2.2" fill="#bcbd22" fill-opacity="0.55"/>
<circle cx="515.0" cy="193.8" r="2.2" fill="#bcbd22" fill-opacity="0.55"/>
<circle cx="516.9" cy="220.2" r="2.2" fill="#bcbd22" fill-opacity="0.55"/>
<circle cx="516.1" cy="210.0" r="2.2" fill="#bcbd22" fill-opacity="0.55"/>
<circle cx="514.9" cy="241.5" r="2.2" fill="#bcbd22" fill-opacity="0.55"/>
<circle cx="517.4" cy="229.4" r="2.2" fill="#bcbd22" fill-opacity="0.55"/>
<circle cx="514.8" cy="195.1" r="2.2" fill="#bcbd22" fill-opacity="0.55"/>
<circle cx="514.6" cy="219.9" r="2.2" fill="#bcbd22" fill-opacity="0.55"/>
<circle cx="512.5" cy="207.7" r="2.2" fill="#bcbd22" fill-opacity="0.55"/>
<circle cx="518.5" cy="220.8" r="2.2" fill="#bcbd22" fill-opacity="0.55"/>
<circle cx="513.2" cy="246.6" r="2.2" fill="#bcbd22" fill-opacity="0.55"/>
<circle cx="518.6" cy="186.2" r="2.2" fill="#bcbd22" fill-opacity="0.55"/>
<circle cx="517.9" cy="229.3" r="2.2" fill="#bcbd22" fill-opacity="0.55"/>
<circle cx="512.8" cy="203.5" r="2.2" fill="#bcbd22" fill-opacity="0.55"/>
<circle cx="513.6" cy="207.1" r="2.2" fill="#bcbd22" fill-opacity="0.55"/>
<circle cx="514.3" cy="226.3" r="2.2" fill="#bcbd22" fill-opacity="0.55"/>
<circle cx="515.6" cy="221.1" r="2.2" fill="#bcbd22" fill-opacity="0.55"/>
<circle cx="512.6" cy="190.7" r="2.2" fill="#bcbd22" fill-opacity="0.55"/>
<circle cx="518.4" cy="225.5" r="2.2" fill="#bcbd22" fill-opacity="0.55"/>
<circle cx="516.5" cy="196.3" r="2.2" fill="#bcbd22" fill-opacity="0.55"/>
<circle cx="515.0" cy="185.4" r="2.2" fill="#bcbd22" fill-opacity="0.55"/>
<circle cx="515.8" cy="200.8" r="2.2" fill="#bcbd22" fill-opacity="0.55"/>
<circle cx="516.3" cy="242.0" r="2.2" fill="#bcbd22" fill-opacity="0.55"/>
<circle cx="516.0" cy="214.0" r="2.2" fill="#bcbd22" fill-opacity="0.55"/>
<circle cx="516.8" cy="192.6" r="2.2" fill="#bcbd22" fill-opacity="0.55"/>
<circle cx="518.7" cy="221.6" r="2.2" fill="#bcbd22" fill-opacity="0.55"/>
<circle cx="511.3" cy="187.9" r="2.2" fill="#bcbd22" fill-opacity="0.55"/>
<circle cx="515.0" cy="180.3" r="2.2" fill="#bcbd22" fill-opacity="0.55"/>
<circle cx="515.3" cy="246.7" r="2.2" fill="#bcbd22" fill-opacity="0.55"/>
<polyline points="471.6,159.3 471.6,262.2 531.0,262.2" fill="none" stroke="#4d4d4d" stroke-width="1"/>
<line x1="469.8" y1="175.9" x2="471.6" y2="175.9" stroke="#4d4d4d" stroke-width="0.8"/>
<text transform="translate(469.40,179.20) scale(1,1.08)" font-size="9.1" fill="#3d3d3d" text-anchor="end" stroke="#3d3d3d" stroke-width="0.18">1.0</text>
<line x1="469.8" y1="200.8" x2="471.6" y2="200.8" stroke="#4d4d4d" stroke-width="0.8"/>
<text transform="translate(469.40,204.10) scale(1,1.08)" font-size="9.1" fill="#3d3d3d" text-anchor="end" stroke="#3d3d3d" stroke-width="0.18">0.0</text>
<line x1="469.8" y1="226.3" x2="471.6" y2="226.3" stroke="#4d4d4d" stroke-width="0.8"/>
<text transform="translate(469.40,229.60) scale(1,1.08)" font-size="9.1" fill="#3d3d3d" text-anchor="end" stroke="#3d3d3d" stroke-width="0.18">−1.0</text>
<line x1="469.8" y1="252.1" x2="471.6" y2="252.1" stroke="#4d4d4d" stroke-width="0.8"/>
<text transform="translate(469.40,255.40) scale(1,1.08)" font-size="9.1" fill="#3d3d3d" text-anchor="end" stroke="#3d3d3d" stroke-width="0.18">−2.</text>
<line x1="487.9" y1="262.2" x2="487.9" y2="263.8" stroke="#4d4d4d" stroke-width="0.8"/>
<text transform="translate(487.90,270.70) scale(1,1.1)" font-size="9.0" fill="#3d3d3d" text-anchor="middle" stroke="#3d3d3d" stroke-width="0.18">M</text>
<line x1="514.7" y1="262.2" x2="514.7" y2="263.8" stroke="#4d4d4d" stroke-width="0.8"/>
<text transform="translate(514.70,270.70) scale(1,1.1)" font-size="9.0" fill="#3d3d3d" text-anchor="middle" stroke="#3d3d3d" stroke-width="0.18">V</text>
<text x="501.30" y="173.90" font-size="10.0" fill="#000" text-anchor="middle" stroke="#000" stroke-width="0.25">0.00023</text>
<polyline points="487.9,176.8 487.9,174.9 514.7,174.9 514.7,176.8" fill="none" stroke="#444" stroke-width="0.8"/>
<rect x="312.1" y="279.6" width="13.8" height="13.9" rx="2.4" fill="#fff" stroke="#333" stroke-width="0.8"/>
<text x="319.00" y="290.70" font-size="10.2" fill="#000" text-anchor="middle" font-weight="bold">7</text>
<line x1="348.6" y1="295.5" x2="348.6" y2="398.5" stroke="#9a9a9a" stroke-width="1.0"/>
<line x1="289.4" y1="295.5" x2="349.1" y2="295.5" stroke="#7d7d7d" stroke-width="0.9"/>
<line x1="305.6" y1="319.4" x2="305.6" y2="367.2" stroke="#555" stroke-width="0.8"/>
<rect x="294.6" y="328.3" width="22" height="24.3" fill="#8bdee7" stroke="#555" stroke-width="0.9"/>
<line x1="294.6" y1="337.5" x2="316.6" y2="337.5" stroke="#333" stroke-width="1.3"/>
<line x1="332.6" y1="316.5" x2="332.6" y2="383.8" stroke="#555" stroke-width="0.8"/>
<rect x="321.6" y="340.2" width="22" height="30.1" fill="#dedf90" stroke="#555" stroke-width="0.9"/>
<line x1="321.6" y1="360.3" x2="343.6" y2="360.3" stroke="#333" stroke-width="1.3"/>
<circle cx="301.7" cy="351.1" r="2.2" fill="#17becf" fill-opacity="0.55"/>
<circle cx="302.1" cy="329.9" r="2.2" fill="#17becf" fill-opacity="0.55"/>
<circle cx="303.1" cy="330.1" r="2.2" fill="#17becf" fill-opacity="0.55"/>
<circle cx="305.2" cy="334.2" r="2.2" fill="#17becf" fill-opacity="0.55"/>
<circle cx="307.6" cy="347.9" r="2.2" fill="#17becf" fill-opacity="0.55"/>
<circle cx="302.7" cy="325.5" r="2.2" fill="#17becf" fill-opacity="0.55"/>
<circle cx="302.2" cy="325.5" r="2.2" fill="#17becf" fill-opacity="0.55"/>
<circle cx="303.0" cy="321.9" r="2.2" fill="#17becf" fill-opacity="0.55"/>
<circle cx="307.5" cy="328.3" r="2.2" fill="#17becf" fill-opacity="0.55"/>
<circle cx="307.6" cy="353.6" r="2.2" fill="#17becf" fill-opacity="0.55"/>
<circle cx="306.5" cy="345.9" r="2.2" fill="#17becf" fill-opacity="0.55"/>
<circle cx="302.8" cy="343.9" r="2.2" fill="#17becf" fill-opacity="0.55"/>
<circle cx="303.6" cy="353.7" r="2.2" fill="#17becf" fill-opacity="0.55"/>
<circle cx="303.3" cy="320.9" r="2.2" fill="#17becf" fill-opacity="0.55"/>
<circle cx="302.7" cy="354.4" r="2.2" fill="#17becf" fill-opacity="0.55"/>
<circle cx="307.7" cy="328.7" r="2.2" fill="#17becf" fill-opacity="0.55"/>
<circle cx="305.2" cy="332.4" r="2.2" fill="#17becf" fill-opacity="0.55"/>
<circle cx="303.5" cy="323.8" r="2.2" fill="#17becf" fill-opacity="0.55"/>
<circle cx="306.9" cy="343.4" r="2.2" fill="#17becf" fill-opacity="0.55"/>
<circle cx="302.7" cy="331.4" r="2.2" fill="#17becf" fill-opacity="0.55"/>
<circle cx="305.9" cy="348.5" r="2.2" fill="#17becf" fill-opacity="0.55"/>
<circle cx="305.9" cy="352.9" r="2.2" fill="#17becf" fill-opacity="0.55"/>
<circle cx="307.4" cy="345.0" r="2.2" fill="#17becf" fill-opacity="0.55"/>
<circle cx="303.3" cy="349.9" r="2.2" fill="#17becf" fill-opacity="0.55"/>
<circle cx="302.5" cy="330.6" r="2.2" fill="#17becf" fill-opacity="0.55"/>
<circle cx="307.9" cy="327.0" r="2.2" fill="#17becf" fill-opacity="0.55"/>
<circle cx="307.5" cy="338.5" r="2.2" fill="#17becf" fill-opacity="0.55"/>
<circle cx="303.8" cy="321.3" r="2.2" fill="#17becf" fill-opacity="0.55"/>
<circle cx="305.3" cy="355.1" r="2.2" fill="#17becf" fill-opacity="0.55"/>
<circle cx="302.5" cy="325.0" r="2.2" fill="#17becf" fill-opacity="0.55"/>
<circle cx="309.5" cy="328.2" r="2.2" fill="#17becf" fill-opacity="0.55"/>
<circle cx="302.9" cy="341.8" r="2.2" fill="#17becf" fill-opacity="0.55"/>
<circle cx="305.8" cy="319.4" r="2.2" fill="#17becf" fill-opacity="0.55"/>
<circle cx="304.6" cy="367.2" r="2.2" fill="#17becf" fill-opacity="0.55"/>
<circle cx="332.8" cy="377.4" r="2.2" fill="#bcbd22" fill-opacity="0.55"/>
<circle cx="331.2" cy="368.8" r="2.2" fill="#bcbd22" fill-opacity="0.55"/>
<circle cx="335.2" cy="344.1" r="2.2" fill="#bcbd22" fill-opacity="0.55"/>
<circle cx="328.9" cy="367.9" r="2.2" fill="#bcbd22" fill-opacity="0.55"/>
<circle cx="333.0" cy="375.9" r="2.2" fill="#bcbd22" fill-opacity="0.55"/>
<circle cx="329.0" cy="364.4" r="2.2" fill="#bcbd22" fill-opacity="0.55"/>
<circle cx="333.9" cy="338.4" r="2.2" fill="#bcbd22" fill-opacity="0.55"/>
<circle cx="332.9" cy="324.9" r="2.2" fill="#bcbd22" fill-opacity="0.55"/>
<circle cx="335.7" cy="329.3" r="2.2" fill="#bcbd22" fill-opacity="0.55"/>
<circle cx="335.5" cy="340.0" r="2.2" fill="#bcbd22" fill-opacity="0.55"/>
<circle cx="332.4" cy="320.5" r="2.2" fill="#bcbd22" fill-opacity="0.55"/>
<circle cx="329.5" cy="322.2" r="2.2" fill="#bcbd22" fill-opacity="0.55"/>
<circle cx="334.8" cy="354.7" r="2.2" fill="#bcbd22" fill-opacity="0.55"/>
<circle cx="331.3" cy="343.5" r="2.2" fill="#bcbd22" fill-opacity="0.55"/>
<circle cx="331.0" cy="349.7" r="2.2" fill="#bcbd22" fill-opacity="0.55"/>
<circle cx="333.6" cy="339.7" r="2.2" fill="#bcbd22" fill-opacity="0.55"/>
<circle cx="335.7" cy="365.9" r="2.2" fill="#bcbd22" fill-opacity="0.55"/>
<circle cx="333.4" cy="360.6" r="2.2" fill="#bcbd22" fill-opacity="0.55"/>
<circle cx="332.9" cy="376.2" r="2.2" fill="#bcbd22" fill-opacity="0.55"/>
<circle cx="329.3" cy="366.9" r="2.2" fill="#bcbd22" fill-opacity="0.55"/>
<circle cx="330.3" cy="338.3" r="2.2" fill="#bcbd22" fill-opacity="0.55"/>
<circle cx="335.4" cy="371.5" r="2.2" fill="#bcbd22" fill-opacity="0.55"/>
<circle cx="334.8" cy="347.9" r="2.2" fill="#bcbd22" fill-opacity="0.55"/>
<circle cx="334.4" cy="372.7" r="2.2" fill="#bcbd22" fill-opacity="0.55"/>
<circle cx="336.5" cy="359.2" r="2.2" fill="#bcbd22" fill-opacity="0.55"/>
<circle cx="331.8" cy="358.5" r="2.2" fill="#bcbd22" fill-opacity="0.55"/>
<circle cx="329.9" cy="353.4" r="2.2" fill="#bcbd22" fill-opacity="0.55"/>
<circle cx="334.8" cy="366.5" r="2.2" fill="#bcbd22" fill-opacity="0.55"/>
<circle cx="330.2" cy="332.3" r="2.2" fill="#bcbd22" fill-opacity="0.55"/>
<circle cx="336.2" cy="342.0" r="2.2" fill="#bcbd22" fill-opacity="0.55"/>
<circle cx="335.1" cy="371.2" r="2.2" fill="#bcbd22" fill-opacity="0.55"/>
<circle cx="333.8" cy="368.8" r="2.2" fill="#bcbd22" fill-opacity="0.55"/>
<circle cx="334.4" cy="370.7" r="2.2" fill="#bcbd22" fill-opacity="0.55"/>
<circle cx="333.5" cy="334.7" r="2.2" fill="#bcbd22" fill-opacity="0.55"/>
<circle cx="332.5" cy="370.6" r="2.2" fill="#bcbd22" fill-opacity="0.55"/>
<circle cx="331.7" cy="372.8" r="2.2" fill="#bcbd22" fill-opacity="0.55"/>
<circle cx="334.7" cy="370.6" r="2.2" fill="#bcbd22" fill-opacity="0.55"/>
<circle cx="332.2" cy="365.2" r="2.2" fill="#bcbd22" fill-opacity="0.55"/>
<circle cx="330.0" cy="350.9" r="2.2" fill="#bcbd22" fill-opacity="0.55"/>
<circle cx="333.0" cy="365.2" r="2.2" fill="#bcbd22" fill-opacity="0.55"/>
<circle cx="328.9" cy="332.3" r="2.2" fill="#bcbd22" fill-opacity="0.55"/>
<circle cx="334.5" cy="369.2" r="2.2" fill="#bcbd22" fill-opacity="0.55"/>
<circle cx="332.5" cy="340.6" r="2.2" fill="#bcbd22" fill-opacity="0.55"/>
<circle cx="330.4" cy="325.5" r="2.2" fill="#bcbd22" fill-opacity="0.55"/>
<circle cx="328.9" cy="329.8" r="2.2" fill="#bcbd22" fill-opacity="0.55"/>
<circle cx="332.7" cy="341.6" r="2.2" fill="#bcbd22" fill-opacity="0.55"/>
<circle cx="332.3" cy="363.7" r="2.2" fill="#bcbd22" fill-opacity="0.55"/>
<circle cx="330.1" cy="372.8" r="2.2" fill="#bcbd22" fill-opacity="0.55"/>
<circle cx="335.5" cy="328.0" r="2.2" fill="#bcbd22" fill-opacity="0.55"/>
<circle cx="333.6" cy="370.8" r="2.2" fill="#bcbd22" fill-opacity="0.55"/>
<circle cx="332.8" cy="349.0" r="2.2" fill="#bcbd22" fill-opacity="0.55"/>
<circle cx="328.6" cy="356.2" r="2.2" fill="#bcbd22" fill-opacity="0.55"/>
<circle cx="329.6" cy="366.2" r="2.2" fill="#bcbd22" fill-opacity="0.55"/>
<circle cx="335.3" cy="366.4" r="2.2" fill="#bcbd22" fill-opacity="0.55"/>
<circle cx="330.4" cy="339.9" r="2.2" fill="#bcbd22" fill-opacity="0.55"/>
<circle cx="333.8" cy="336.2" r="2.2" fill="#bcbd22" fill-opacity="0.55"/>
<circle cx="329.9" cy="317.1" r="2.2" fill="#bcbd22" fill-opacity="0.55"/>
<circle cx="336.0" cy="355.4" r="2.2" fill="#bcbd22" fill-opacity="0.55"/>
<circle cx="330.6" cy="331.0" r="2.2" fill="#bcbd22" fill-opacity="0.55"/>
<circle cx="334.4" cy="366.4" r="2.2" fill="#bcbd22" fill-opacity="0.55"/>
<circle cx="331.2" cy="338.9" r="2.2" fill="#bcbd22" fill-opacity="0.55"/>
<circle cx="330.0" cy="350.2" r="2.2" fill="#bcbd22" fill-opacity="0.55"/>
<circle cx="335.3" cy="375.1" r="2.2" fill="#bcbd22" fill-opacity="0.55"/>
<circle cx="329.1" cy="368.1" r="2.2" fill="#bcbd22" fill-opacity="0.55"/>
<circle cx="330.5" cy="363.3" r="2.2" fill="#bcbd22" fill-opacity="0.55"/>
<circle cx="331.4" cy="343.1" r="2.2" fill="#bcbd22" fill-opacity="0.55"/>
<circle cx="335.3" cy="356.1" r="2.2" fill="#bcbd22" fill-opacity="0.55"/>
<circle cx="336.5" cy="364.6" r="2.2" fill="#bcbd22" fill-opacity="0.55"/>
<circle cx="333.9" cy="346.3" r="2.2" fill="#bcbd22" fill-opacity="0.55"/>
<circle cx="334.2" cy="368.5" r="2.2" fill="#bcbd22" fill-opacity="0.55"/>
<circle cx="332.0" cy="329.8" r="2.2" fill="#bcbd22" fill-opacity="0.55"/>
<circle cx="335.9" cy="370.6" r="2.2" fill="#bcbd22" fill-opacity="0.55"/>
<circle cx="329.9" cy="332.0" r="2.2" fill="#bcbd22" fill-opacity="0.55"/>
<circle cx="334.2" cy="369.2" r="2.2" fill="#bcbd22" fill-opacity="0.55"/>
<circle cx="328.7" cy="366.0" r="2.2" fill="#bcbd22" fill-opacity="0.55"/>
<circle cx="333.5" cy="370.7" r="2.2" fill="#bcbd22" fill-opacity="0.55"/>
<circle cx="334.5" cy="341.2" r="2.2" fill="#bcbd22" fill-opacity="0.55"/>
<circle cx="329.1" cy="356.5" r="2.2" fill="#bcbd22" fill-opacity="0.55"/>
<circle cx="333.8" cy="355.1" r="2.2" fill="#bcbd22" fill-opacity="0.55"/>
<circle cx="334.9" cy="359.0" r="2.2" fill="#bcbd22" fill-opacity="0.55"/>
<circle cx="331.9" cy="330.9" r="2.2" fill="#bcbd22" fill-opacity="0.55"/>
<circle cx="335.9" cy="346.5" r="2.2" fill="#bcbd22" fill-opacity="0.55"/>
<circle cx="334.9" cy="368.4" r="2.2" fill="#bcbd22" fill-opacity="0.55"/>
<circle cx="333.0" cy="365.6" r="2.2" fill="#bcbd22" fill-opacity="0.55"/>
<circle cx="331.0" cy="370.4" r="2.2" fill="#bcbd22" fill-opacity="0.55"/>
<circle cx="334.2" cy="339.9" r="2.2" fill="#bcbd22" fill-opacity="0.55"/>
<circle cx="335.9" cy="332.6" r="2.2" fill="#bcbd22" fill-opacity="0.55"/>
<circle cx="332.4" cy="351.4" r="2.2" fill="#bcbd22" fill-opacity="0.55"/>
<circle cx="333.0" cy="370.4" r="2.2" fill="#bcbd22" fill-opacity="0.55"/>
<circle cx="329.6" cy="377.8" r="2.2" fill="#bcbd22" fill-opacity="0.55"/>
<circle cx="329.8" cy="325.2" r="2.2" fill="#bcbd22" fill-opacity="0.55"/>
<circle cx="332.5" cy="360.0" r="2.2" fill="#bcbd22" fill-opacity="0.55"/>
<circle cx="331.2" cy="337.6" r="2.2" fill="#bcbd22" fill-opacity="0.55"/>
<circle cx="330.3" cy="355.9" r="2.2" fill="#bcbd22" fill-opacity="0.55"/>
<circle cx="332.0" cy="334.7" r="2.2" fill="#bcbd22" fill-opacity="0.55"/>
<circle cx="330.6" cy="366.1" r="2.2" fill="#bcbd22" fill-opacity="0.55"/>
<circle cx="335.1" cy="365.9" r="2.2" fill="#bcbd22" fill-opacity="0.55"/>
<circle cx="331.3" cy="339.2" r="2.2" fill="#bcbd22" fill-opacity="0.55"/>
<circle cx="331.4" cy="351.2" r="2.2" fill="#bcbd22" fill-opacity="0.55"/>
<circle cx="330.8" cy="361.1" r="2.2" fill="#bcbd22" fill-opacity="0.55"/>
<circle cx="333.5" cy="316.5" r="2.2" fill="#bcbd22" fill-opacity="0.55"/>
<circle cx="332.6" cy="383.8" r="2.2" fill="#bcbd22" fill-opacity="0.55"/>
<polyline points="289.4,295.5 289.4,398.5 348.6,398.5" fill="none" stroke="#4d4d4d" stroke-width="1"/>
<line x1="287.59999999999997" y1="297.3" x2="289.4" y2="297.3" stroke="#4d4d4d" stroke-width="0.8"/>
<text transform="translate(287.20,300.60) scale(1,1.08)" font-size="9.1" fill="#3d3d3d" text-anchor="end" stroke="#3d3d3d" stroke-width="0.18">0.8</text>
<line x1="287.59999999999997" y1="322.1" x2="289.4" y2="322.1" stroke="#4d4d4d" stroke-width="0.8"/>
<text transform="translate(287.20,325.40) scale(1,1.08)" font-size="9.1" fill="#3d3d3d" text-anchor="end" stroke="#3d3d3d" stroke-width="0.18">0.4</text>
<line x1="287.59999999999997" y1="347.6" x2="289.4" y2="347.6" stroke="#4d4d4d" stroke-width="0.8"/>
<text transform="translate(287.20,350.90) scale(1,1.08)" font-size="9.1" fill="#3d3d3d" text-anchor="end" stroke="#3d3d3d" stroke-width="0.18">0.0</text>
<line x1="287.59999999999997" y1="373.2" x2="289.4" y2="373.2" stroke="#4d4d4d" stroke-width="0.8"/>
<text transform="translate(287.20,376.50) scale(1,1.08)" font-size="9.1" fill="#3d3d3d" text-anchor="end" stroke="#3d3d3d" stroke-width="0.18">−0.4</text>
<line x1="287.59999999999997" y1="398.5" x2="289.4" y2="398.5" stroke="#4d4d4d" stroke-width="0.8"/>
<text transform="translate(287.20,401.80) scale(1,1.08)" font-size="9.1" fill="#3d3d3d" text-anchor="end" stroke="#3d3d3d" stroke-width="0.18">−0.8</text>
<line x1="305.6" y1="398.5" x2="305.6" y2="400.1" stroke="#4d4d4d" stroke-width="0.8"/>
<text transform="translate(305.60,406.90) scale(1,1.1)" font-size="9.0" fill="#3d3d3d" text-anchor="middle" stroke="#3d3d3d" stroke-width="0.18">M</text>
<line x1="332.6" y1="398.5" x2="332.6" y2="400.1" stroke="#4d4d4d" stroke-width="0.8"/>
<text transform="translate(332.60,406.90) scale(1,1.1)" font-size="9.0" fill="#3d3d3d" text-anchor="middle" stroke="#3d3d3d" stroke-width="0.18">V</text>
<text x="319.00" y="310.30" font-size="10.0" fill="#000" text-anchor="middle" stroke="#000" stroke-width="0.25">0.00015</text>
<polyline points="305.6,313.2 305.6,311.3 332.6,311.3 332.6,313.2" fill="none" stroke="#444" stroke-width="0.8"/>
<rect x="405.2" y="279.6" width="13.8" height="13.9" rx="2.4" fill="#fff" stroke="#333" stroke-width="0.8"/>
<text x="412.10" y="290.70" font-size="10.2" fill="#000" text-anchor="middle" font-weight="bold">8</text>
<line x1="439.8" y1="295.5" x2="439.8" y2="394.5" stroke="#a8a8a8" stroke-width="1.1"/>
<line x1="384.4" y1="295.5" x2="440.3" y2="295.5" stroke="#7d7d7d" stroke-width="0.9"/>
<line x1="399.5" y1="334.6" x2="399.5" y2="377.5" stroke="#555" stroke-width="0.8"/>
<rect x="388.5" y="346.0" width="22" height="13.5" fill="#8bdee7" stroke="#555" stroke-width="0.9"/>
<line x1="388.5" y1="351.6" x2="410.5" y2="351.6" stroke="#333" stroke-width="1.3"/>
<line x1="424.7" y1="316.3" x2="424.7" y2="369.2" stroke="#555" stroke-width="0.8"/>
<rect x="413.7" y="333.3" width="22" height="17.3" fill="#dedf90" stroke="#555" stroke-width="0.9"/>
<line x1="413.7" y1="342.9" x2="435.7" y2="342.9" stroke="#333" stroke-width="1.3"/>
<circle cx="403.3" cy="341.2" r="2.2" fill="#17becf" fill-opacity="0.55"/>
<circle cx="398.0" cy="355.4" r="2.2" fill="#17becf" fill-opacity="0.55"/>
<circle cx="401.5" cy="377.5" r="2.2" fill="#17becf" fill-opacity="0.55"/>
<circle cx="401.2" cy="341.0" r="2.2" fill="#17becf" fill-opacity="0.55"/>
<circle cx="398.0" cy="350.0" r="2.2" fill="#17becf" fill-opacity="0.55"/>
<circle cx="402.9" cy="367.2" r="2.2" fill="#17becf" fill-opacity="0.55"/>
<circle cx="398.5" cy="350.8" r="2.2" fill="#17becf" fill-opacity="0.55"/>
<circle cx="399.4" cy="360.5" r="2.2" fill="#17becf" fill-opacity="0.55"/>
<circle cx="397.4" cy="361.7" r="2.2" fill="#17becf" fill-opacity="0.55"/>
<circle cx="397.4" cy="337.1" r="2.2" fill="#17becf" fill-opacity="0.55"/>
<circle cx="397.8" cy="354.8" r="2.2" fill="#17becf" fill-opacity="0.55"/>
<circle cx="402.2" cy="338.4" r="2.2" fill="#17becf" fill-opacity="0.55"/>
<circle cx="401.3" cy="346.6" r="2.2" fill="#17becf" fill-opacity="0.55"/>
<circle cx="400.0" cy="344.9" r="2.2" fill="#17becf" fill-opacity="0.55"/>
<circle cx="402.7" cy="357.8" r="2.2" fill="#17becf" fill-opacity="0.55"/>
<circle cx="400.9" cy="346.1" r="2.2" fill="#17becf" fill-opacity="0.55"/>
<circle cx="399.5" cy="357.9" r="2.2" fill="#17becf" fill-opacity="0.55"/>
<circle cx="399.6" cy="346.7" r="2.2" fill="#17becf" fill-opacity="0.55"/>
<circle cx="400.4" cy="343.6" r="2.2" fill="#17becf" fill-opacity="0.55"/>
<circle cx="398.6" cy="355.5" r="2.2" fill="#17becf" fill-opacity="0.55"/>
<circle cx="403.0" cy="347.8" r="2.2" fill="#17becf" fill-opacity="0.55"/>
<circle cx="398.7" cy="351.5" r="2.2" fill="#17becf" fill-opacity="0.55"/>
<circle cx="400.4" cy="348.6" r="2.2" fill="#17becf" fill-opacity="0.55"/>
<circle cx="402.4" cy="343.5" r="2.2" fill="#17becf" fill-opacity="0.55"/>
<circle cx="402.8" cy="358.5" r="2.2" fill="#17becf" fill-opacity="0.55"/>
<circle cx="402.8" cy="346.8" r="2.2" fill="#17becf" fill-opacity="0.55"/>
<circle cx="398.8" cy="346.4" r="2.2" fill="#17becf" fill-opacity="0.55"/>
<circle cx="401.6" cy="342.9" r="2.2" fill="#17becf" fill-opacity="0.55"/>
<circle cx="398.9" cy="347.8" r="2.2" fill="#17becf" fill-opacity="0.55"/>
<circle cx="396.0" cy="360.2" r="2.2" fill="#17becf" fill-opacity="0.55"/>
<circle cx="398.7" cy="359.5" r="2.2" fill="#17becf" fill-opacity="0.55"/>
<circle cx="396.7" cy="335.5" r="2.2" fill="#17becf" fill-opacity="0.55"/>
<circle cx="398.7" cy="334.6" r="2.2" fill="#17becf" fill-opacity="0.55"/>
<circle cx="400.3" cy="377.5" r="2.2" fill="#17becf" fill-opacity="0.55"/>
<circle cx="401.7" cy="323.6" r="2.2" fill="#17becf" fill-opacity="0.55"/>
<circle cx="400.0" cy="380.7" r="2.2" fill="#17becf" fill-opacity="0.55"/>
<circle cx="425.0" cy="338.0" r="2.2" fill="#bcbd22" fill-opacity="0.55"/>
<circle cx="423.0" cy="329.4" r="2.2" fill="#bcbd22" fill-opacity="0.55"/>
<circle cx="427.6" cy="368.5" r="2.2" fill="#bcbd22" fill-opacity="0.55"/>
<circle cx="425.8" cy="341.5" r="2.2" fill="#bcbd22" fill-opacity="0.55"/>
<circle cx="421.3" cy="361.5" r="2.2" fill="#bcbd22" fill-opacity="0.55"/>
<circle cx="428.5" cy="344.1" r="2.2" fill="#bcbd22" fill-opacity="0.55"/>
<circle cx="428.1" cy="338.8" r="2.2" fill="#bcbd22" fill-opacity="0.55"/>
<circle cx="427.6" cy="341.2" r="2.2" fill="#bcbd22" fill-opacity="0.55"/>
<circle cx="426.1" cy="340.5" r="2.2" fill="#bcbd22" fill-opacity="0.55"/>
<circle cx="424.4" cy="333.2" r="2.2" fill="#bcbd22" fill-opacity="0.55"/>
<circle cx="426.3" cy="364.0" r="2.2" fill="#bcbd22" fill-opacity="0.55"/>
<circle cx="421.2" cy="329.3" r="2.2" fill="#bcbd22" fill-opacity="0.55"/>
<circle cx="427.3" cy="325.8" r="2.2" fill="#bcbd22" fill-opacity="0.55"/>
<circle cx="424.3" cy="336.9" r="2.2" fill="#bcbd22" fill-opacity="0.55"/>
<circle cx="427.2" cy="337.3" r="2.2" fill="#bcbd22" fill-opacity="0.55"/>
<circle cx="422.3" cy="319.2" r="2.2" fill="#bcbd22" fill-opacity="0.55"/>
<circle cx="423.7" cy="331.7" r="2.2" fill="#bcbd22" fill-opacity="0.55"/>
<circle cx="421.0" cy="350.1" r="2.2" fill="#bcbd22" fill-opacity="0.55"/>
<circle cx="427.3" cy="344.6" r="2.2" fill="#bcbd22" fill-opacity="0.55"/>
<circle cx="428.4" cy="333.6" r="2.2" fill="#bcbd22" fill-opacity="0.55"/>
<circle cx="426.4" cy="344.9" r="2.2" fill="#bcbd22" fill-opacity="0.55"/>
<circle cx="421.6" cy="344.9" r="2.2" fill="#bcbd22" fill-opacity="0.55"/>
<circle cx="421.8" cy="338.7" r="2.2" fill="#bcbd22" fill-opacity="0.55"/>
<circle cx="421.1" cy="332.6" r="2.2" fill="#bcbd22" fill-opacity="0.55"/>
<circle cx="423.1" cy="338.4" r="2.2" fill="#bcbd22" fill-opacity="0.55"/>
<circle cx="424.8" cy="331.2" r="2.2" fill="#bcbd22" fill-opacity="0.55"/>
<circle cx="424.0" cy="343.4" r="2.2" fill="#bcbd22" fill-opacity="0.55"/>
<circle cx="424.8" cy="336.1" r="2.2" fill="#bcbd22" fill-opacity="0.55"/>
<circle cx="421.9" cy="330.5" r="2.2" fill="#bcbd22" fill-opacity="0.55"/>
<circle cx="421.0" cy="332.7" r="2.2" fill="#bcbd22" fill-opacity="0.55"/>
<circle cx="428.4" cy="368.9" r="2.2" fill="#bcbd22" fill-opacity="0.55"/>
<circle cx="421.6" cy="354.1" r="2.2" fill="#bcbd22" fill-opacity="0.55"/>
<circle cx="422.6" cy="325.6" r="2.2" fill="#bcbd22" fill-opacity="0.55"/>
<circle cx="424.8" cy="344.3" r="2.2" fill="#bcbd22" fill-opacity="0.55"/>
<circle cx="424.0" cy="353.6" r="2.2" fill="#bcbd22" fill-opacity="0.55"/>
<circle cx="426.9" cy="327.9" r="2.2" fill="#bcbd22" fill-opacity="0.55"/>
<circle cx="422.0" cy="320.2" r="2.2" fill="#bcbd22" fill-opacity="0.55"/>
<circle cx="428.3" cy="349.3" r="2.2" fill="#bcbd22" fill-opacity="0.55"/>
<circle cx="426.2" cy="345.3" r="2.2" fill="#bcbd22" fill-opacity="0.55"/>
<circle cx="425.5" cy="346.0" r="2.2" fill="#bcbd22" fill-opacity="0.55"/>
<circle cx="422.2" cy="350.6" r="2.2" fill="#bcbd22" fill-opacity="0.55"/>
<circle cx="422.8" cy="342.7" r="2.2" fill="#bcbd22" fill-opacity="0.55"/>
<circle cx="424.0" cy="334.4" r="2.2" fill="#bcbd22" fill-opacity="0.55"/>
<circle cx="423.0" cy="349.9" r="2.2" fill="#bcbd22" fill-opacity="0.55"/>
<circle cx="426.5" cy="353.0" r="2.2" fill="#bcbd22" fill-opacity="0.55"/>
<circle cx="421.3" cy="326.3" r="2.2" fill="#bcbd22" fill-opacity="0.55"/>
<circle cx="427.9" cy="333.7" r="2.2" fill="#bcbd22" fill-opacity="0.55"/>
<circle cx="427.8" cy="368.1" r="2.2" fill="#bcbd22" fill-opacity="0.55"/>
<circle cx="422.0" cy="329.1" r="2.2" fill="#bcbd22" fill-opacity="0.55"/>
<circle cx="421.4" cy="322.2" r="2.2" fill="#bcbd22" fill-opacity="0.55"/>
<circle cx="421.1" cy="349.0" r="2.2" fill="#bcbd22" fill-opacity="0.55"/>
<circle cx="427.2" cy="363.2" r="2.2" fill="#bcbd22" fill-opacity="0.55"/>
<circle cx="425.9" cy="319.3" r="2.2" fill="#bcbd22" fill-opacity="0.55"/>
<circle cx="422.1" cy="361.9" r="2.2" fill="#bcbd22" fill-opacity="0.55"/>
<circle cx="420.8" cy="321.0" r="2.2" fill="#bcbd22" fill-opacity="0.55"/>
<circle cx="425.5" cy="339.5" r="2.2" fill="#bcbd22" fill-opacity="0.55"/>
<circle cx="422.5" cy="326.3" r="2.2" fill="#bcbd22" fill-opacity="0.55"/>
<circle cx="425.6" cy="346.3" r="2.2" fill="#bcbd22" fill-opacity="0.55"/>
<circle cx="422.5" cy="361.9" r="2.2" fill="#bcbd22" fill-opacity="0.55"/>
<circle cx="426.1" cy="338.3" r="2.2" fill="#bcbd22" fill-opacity="0.55"/>
<circle cx="428.5" cy="332.7" r="2.2" fill="#bcbd22" fill-opacity="0.55"/>
<circle cx="426.1" cy="350.4" r="2.2" fill="#bcbd22" fill-opacity="0.55"/>
<circle cx="427.0" cy="329.4" r="2.2" fill="#bcbd22" fill-opacity="0.55"/>
<circle cx="422.4" cy="335.4" r="2.2" fill="#bcbd22" fill-opacity="0.55"/>
<circle cx="421.0" cy="329.6" r="2.2" fill="#bcbd22" fill-opacity="0.55"/>
<circle cx="421.9" cy="354.4" r="2.2" fill="#bcbd22" fill-opacity="0.55"/>
<circle cx="426.2" cy="326.7" r="2.2" fill="#bcbd22" fill-opacity="0.55"/>
<circle cx="420.9" cy="320.2" r="2.2" fill="#bcbd22" fill-opacity="0.55"/>
<circle cx="426.9" cy="351.9" r="2.2" fill="#bcbd22" fill-opacity="0.55"/>
<circle cx="423.2" cy="322.7" r="2.2" fill="#bcbd22" fill-opacity="0.55"/>
<circle cx="422.3" cy="338.2" r="2.2" fill="#bcbd22" fill-opacity="0.55"/>
<circle cx="428.0" cy="333.3" r="2.2" fill="#bcbd22" fill-opacity="0.55"/>
<circle cx="422.9" cy="347.4" r="2.2" fill="#bcbd22" fill-opacity="0.55"/>
<circle cx="425.2" cy="339.2" r="2.2" fill="#bcbd22" fill-opacity="0.55"/>
<circle cx="424.3" cy="350.1" r="2.2" fill="#bcbd22" fill-opacity="0.55"/>
<circle cx="421.7" cy="318.3" r="2.2" fill="#bcbd22" fill-opacity="0.55"/>
<circle cx="421.0" cy="353.5" r="2.2" fill="#bcbd22" fill-opacity="0.55"/>
<circle cx="427.4" cy="338.1" r="2.2" fill="#bcbd22" fill-opacity="0.55"/>
<circle cx="427.1" cy="355.9" r="2.2" fill="#bcbd22" fill-opacity="0.55"/>
<circle cx="428.3" cy="362.9" r="2.2" fill="#bcbd22" fill-opacity="0.55"/>
<circle cx="424.6" cy="341.5" r="2.2" fill="#bcbd22" fill-opacity="0.55"/>
<circle cx="427.4" cy="346.6" r="2.2" fill="#bcbd22" fill-opacity="0.55"/>
<circle cx="428.2" cy="332.1" r="2.2" fill="#bcbd22" fill-opacity="0.55"/>
<circle cx="425.1" cy="348.0" r="2.2" fill="#bcbd22" fill-opacity="0.55"/>
<circle cx="421.6" cy="343.8" r="2.2" fill="#bcbd22" fill-opacity="0.55"/>
<circle cx="421.2" cy="355.8" r="2.2" fill="#bcbd22" fill-opacity="0.55"/>
<circle cx="427.4" cy="341.5" r="2.2" fill="#bcbd22" fill-opacity="0.55"/>
<circle cx="422.9" cy="344.3" r="2.2" fill="#bcbd22" fill-opacity="0.55"/>
<circle cx="423.7" cy="350.5" r="2.2" fill="#bcbd22" fill-opacity="0.55"/>
<circle cx="427.1" cy="332.1" r="2.2" fill="#bcbd22" fill-opacity="0.55"/>
<circle cx="426.0" cy="350.8" r="2.2" fill="#bcbd22" fill-opacity="0.55"/>
<circle cx="424.7" cy="341.1" r="2.2" fill="#bcbd22" fill-opacity="0.55"/>
<circle cx="420.9" cy="354.8" r="2.2" fill="#bcbd22" fill-opacity="0.55"/>
<circle cx="425.0" cy="346.1" r="2.2" fill="#bcbd22" fill-opacity="0.55"/>
<circle cx="422.5" cy="338.9" r="2.2" fill="#bcbd22" fill-opacity="0.55"/>
<circle cx="425.7" cy="357.6" r="2.2" fill="#bcbd22" fill-opacity="0.55"/>
<circle cx="423.8" cy="338.8" r="2.2" fill="#bcbd22" fill-opacity="0.55"/>
<circle cx="423.1" cy="348.5" r="2.2" fill="#bcbd22" fill-opacity="0.55"/>
<circle cx="422.1" cy="320.0" r="2.2" fill="#bcbd22" fill-opacity="0.55"/>
<circle cx="424.9" cy="355.7" r="2.2" fill="#bcbd22" fill-opacity="0.55"/>
<circle cx="424.3" cy="316.3" r="2.2" fill="#bcbd22" fill-opacity="0.55"/>
<circle cx="425.3" cy="369.2" r="2.2" fill="#bcbd22" fill-opacity="0.55"/>
<polyline points="384.4,295.5 384.4,394.5 439.8,394.5" fill="none" stroke="#4d4d4d" stroke-width="1"/>
<line x1="382.59999999999997" y1="316.1" x2="384.4" y2="316.1" stroke="#4d4d4d" stroke-width="0.8"/>
<text transform="translate(382.20,319.40) scale(1,1.08)" font-size="9.1" fill="#3d3d3d" text-anchor="end" stroke="#3d3d3d" stroke-width="0.18">0.4</text>
<line x1="382.59999999999997" y1="341.4" x2="384.4" y2="341.4" stroke="#4d4d4d" stroke-width="0.8"/>
<text transform="translate(382.20,344.70) scale(1,1.08)" font-size="9.1" fill="#3d3d3d" text-anchor="end" stroke="#3d3d3d" stroke-width="0.18">0.0</text>
<line x1="382.59999999999997" y1="366.8" x2="384.4" y2="366.8" stroke="#4d4d4d" stroke-width="0.8"/>
<text transform="translate(382.20,370.10) scale(1,1.08)" font-size="9.1" fill="#3d3d3d" text-anchor="end" stroke="#3d3d3d" stroke-width="0.18">−0.4</text>
<line x1="382.59999999999997" y1="391.7" x2="384.4" y2="391.7" stroke="#4d4d4d" stroke-width="0.8"/>
<text transform="translate(382.20,395.00) scale(1,1.08)" font-size="9.1" fill="#3d3d3d" text-anchor="end" stroke="#3d3d3d" stroke-width="0.18">−0.8</text>
<line x1="399.5" y1="394.5" x2="399.5" y2="396.1" stroke="#4d4d4d" stroke-width="0.8"/>
<text transform="translate(399.50,403.00) scale(1,1.1)" font-size="9.0" fill="#3d3d3d" text-anchor="middle" stroke="#3d3d3d" stroke-width="0.18">M</text>
<line x1="424.7" y1="394.5" x2="424.7" y2="396.1" stroke="#4d4d4d" stroke-width="0.8"/>
<text transform="translate(424.70,403.00) scale(1,1.1)" font-size="9.0" fill="#3d3d3d" text-anchor="middle" stroke="#3d3d3d" stroke-width="0.18">V</text>
<text x="412.10" y="310.30" font-size="10.0" fill="#000" text-anchor="middle" stroke="#000" stroke-width="0.25">0.00028</text>
<polyline points="399.5,313.2 399.5,311.3 424.7,311.3 424.7,313.2" fill="none" stroke="#444" stroke-width="0.8"/>
<rect x="494.2" y="279.6" width="13.8" height="13.9" rx="2.4" fill="#fff" stroke="#333" stroke-width="0.8"/>
<text x="501.10" y="290.70" font-size="10.2" fill="#000" text-anchor="middle" font-weight="bold">9</text>
<line x1="531.0" y1="295.5" x2="531.0" y2="398.5" stroke="#cccccc" stroke-width="1.4"/>
<line x1="471.2" y1="295.5" x2="531.5" y2="295.5" stroke="#7d7d7d" stroke-width="0.9"/>
<line x1="487.9" y1="319.4" x2="487.9" y2="379.6" stroke="#555" stroke-width="0.8"/>
<rect x="476.9" y="332.5" width="22" height="27.8" fill="#8bdee7" stroke="#555" stroke-width="0.9"/>
<line x1="476.9" y1="349.5" x2="498.9" y2="349.5" stroke="#333" stroke-width="1.3"/>
<line x1="514.7" y1="316.7" x2="514.7" y2="376.5" stroke="#555" stroke-width="0.8"/>
<rect x="503.7" y="328.1" width="22" height="20.4" fill="#dedf90" stroke="#555" stroke-width="0.9"/>
<line x1="503.7" y1="334.4" x2="525.7" y2="334.4" stroke="#333" stroke-width="1.3"/>
<circle cx="490.9" cy="374.2" r="2.2" fill="#17becf" fill-opacity="0.55"/>
<circle cx="485.5" cy="330.8" r="2.2" fill="#17becf" fill-opacity="0.55"/>
<circle cx="485.5" cy="361.9" r="2.2" fill="#17becf" fill-opacity="0.55"/>
<circle cx="485.4" cy="346.3" r="2.2" fill="#17becf" fill-opacity="0.55"/>
<circle cx="484.7" cy="333.9" r="2.2" fill="#17becf" fill-opacity="0.55"/>
<circle cx="487.0" cy="319.6" r="2.2" fill="#17becf" fill-opacity="0.55"/>
<circle cx="489.1" cy="357.0" r="2.2" fill="#17becf" fill-opacity="0.55"/>
<circle cx="490.4" cy="371.8" r="2.2" fill="#17becf" fill-opacity="0.55"/>
<circle cx="489.7" cy="353.2" r="2.2" fill="#17becf" fill-opacity="0.55"/>
<circle cx="485.5" cy="333.5" r="2.2" fill="#17becf" fill-opacity="0.55"/>
<circle cx="491.8" cy="341.2" r="2.2" fill="#17becf" fill-opacity="0.55"/>
<circle cx="491.1" cy="341.3" r="2.2" fill="#17becf" fill-opacity="0.55"/>
<circle cx="487.1" cy="347.6" r="2.2" fill="#17becf" fill-opacity="0.55"/>
<circle cx="487.4" cy="345.5" r="2.2" fill="#17becf" fill-opacity="0.55"/>
<circle cx="490.2" cy="353.3" r="2.2" fill="#17becf" fill-opacity="0.55"/>
<circle cx="488.3" cy="368.8" r="2.2" fill="#17becf" fill-opacity="0.55"/>
<circle cx="490.2" cy="373.6" r="2.2" fill="#17becf" fill-opacity="0.55"/>
<circle cx="488.1" cy="346.3" r="2.2" fill="#17becf" fill-opacity="0.55"/>
<circle cx="488.8" cy="372.1" r="2.2" fill="#17becf" fill-opacity="0.55"/>
<circle cx="485.9" cy="347.2" r="2.2" fill="#17becf" fill-opacity="0.55"/>
<circle cx="489.1" cy="377.4" r="2.2" fill="#17becf" fill-opacity="0.55"/>
<circle cx="487.5" cy="372.2" r="2.2" fill="#17becf" fill-opacity="0.55"/>
<circle cx="489.8" cy="323.7" r="2.2" fill="#17becf" fill-opacity="0.55"/>
<circle cx="487.0" cy="352.7" r="2.2" fill="#17becf" fill-opacity="0.55"/>
<circle cx="485.3" cy="331.6" r="2.2" fill="#17becf" fill-opacity="0.55"/>
<circle cx="488.6" cy="360.0" r="2.2" fill="#17becf" fill-opacity="0.55"/>
<circle cx="491.3" cy="332.5" r="2.2" fill="#17becf" fill-opacity="0.55"/>
<circle cx="489.7" cy="330.6" r="2.2" fill="#17becf" fill-opacity="0.55"/>
<circle cx="484.5" cy="347.6" r="2.2" fill="#17becf" fill-opacity="0.55"/>
<circle cx="488.0" cy="379.4" r="2.2" fill="#17becf" fill-opacity="0.55"/>
<circle cx="487.9" cy="370.0" r="2.2" fill="#17becf" fill-opacity="0.55"/>
<circle cx="486.9" cy="360.6" r="2.2" fill="#17becf" fill-opacity="0.55"/>
<circle cx="488.8" cy="319.4" r="2.2" fill="#17becf" fill-opacity="0.55"/>
<circle cx="487.8" cy="379.6" r="2.2" fill="#17becf" fill-opacity="0.55"/>
<circle cx="513.3" cy="332.0" r="2.2" fill="#bcbd22" fill-opacity="0.55"/>
<circle cx="512.0" cy="361.0" r="2.2" fill="#bcbd22" fill-opacity="0.55"/>
<circle cx="510.9" cy="330.5" r="2.2" fill="#bcbd22" fill-opacity="0.55"/>
<circle cx="516.0" cy="341.1" r="2.2" fill="#bcbd22" fill-opacity="0.55"/>
<circle cx="514.5" cy="336.0" r="2.2" fill="#bcbd22" fill-opacity="0.55"/>
<circle cx="517.7" cy="335.6" r="2.2" fill="#bcbd22" fill-opacity="0.55"/>
<circle cx="511.3" cy="337.1" r="2.2" fill="#bcbd22" fill-opacity="0.55"/>
<circle cx="515.7" cy="322.7" r="2.2" fill="#bcbd22" fill-opacity="0.55"/>
<circle cx="515.1" cy="360.7" r="2.2" fill="#bcbd22" fill-opacity="0.55"/>
<circle cx="515.7" cy="357.8" r="2.2" fill="#bcbd22" fill-opacity="0.55"/>
<circle cx="511.3" cy="333.7" r="2.2" fill="#bcbd22" fill-opacity="0.55"/>
<circle cx="515.2" cy="348.3" r="2.2" fill="#bcbd22" fill-opacity="0.55"/>
<circle cx="512.0" cy="332.0" r="2.2" fill="#bcbd22" fill-opacity="0.55"/>
<circle cx="517.6" cy="338.3" r="2.2" fill="#bcbd22" fill-opacity="0.55"/>
<circle cx="513.2" cy="334.1" r="2.2" fill="#bcbd22" fill-opacity="0.55"/>
<circle cx="512.5" cy="334.1" r="2.2" fill="#bcbd22" fill-opacity="0.55"/>
<circle cx="518.4" cy="364.1" r="2.2" fill="#bcbd22" fill-opacity="0.55"/>
<circle cx="512.3" cy="347.0" r="2.2" fill="#bcbd22" fill-opacity="0.55"/>
<circle cx="517.3" cy="328.1" r="2.2" fill="#bcbd22" fill-opacity="0.55"/>
<circle cx="518.2" cy="326.5" r="2.2" fill="#bcbd22" fill-opacity="0.55"/>
<circle cx="512.8" cy="340.2" r="2.2" fill="#bcbd22" fill-opacity="0.55"/>
<circle cx="515.5" cy="367.2" r="2.2" fill="#bcbd22" fill-opacity="0.55"/>
<circle cx="518.6" cy="349.6" r="2.2" fill="#bcbd22" fill-opacity="0.55"/>
<circle cx="512.0" cy="334.4" r="2.2" fill="#bcbd22" fill-opacity="0.55"/>
<circle cx="517.6" cy="331.6" r="2.2" fill="#bcbd22" fill-opacity="0.55"/>
<circle cx="518.4" cy="339.7" r="2.2" fill="#bcbd22" fill-opacity="0.55"/>
<circle cx="516.9" cy="317.8" r="2.2" fill="#bcbd22" fill-opacity="0.55"/>
<circle cx="518.3" cy="373.5" r="2.2" fill="#bcbd22" fill-opacity="0.55"/>
<circle cx="514.6" cy="358.8" r="2.2" fill="#bcbd22" fill-opacity="0.55"/>
<circle cx="518.1" cy="321.1" r="2.2" fill="#bcbd22" fill-opacity="0.55"/>
<circle cx="514.0" cy="329.3" r="2.2" fill="#bcbd22" fill-opacity="0.55"/>
<circle cx="513.3" cy="346.5" r="2.2" fill="#bcbd22" fill-opacity="0.55"/>
<circle cx="517.9" cy="331.7" r="2.2" fill="#bcbd22" fill-opacity="0.55"/>
<circle cx="514.3" cy="323.8" r="2.2" fill="#bcbd22" fill-opacity="0.55"/>
<circle cx="516.6" cy="357.4" r="2.2" fill="#bcbd22" fill-opacity="0.55"/>
<circle cx="517.0" cy="347.6" r="2.2" fill="#bcbd22" fill-opacity="0.55"/>
<circle cx="514.3" cy="357.7" r="2.2" fill="#bcbd22" fill-opacity="0.55"/>
<circle cx="515.8" cy="374.0" r="2.2" fill="#bcbd22" fill-opacity="0.55"/>
<circle cx="516.0" cy="322.7" r="2.2" fill="#bcbd22" fill-opacity="0.55"/>
<circle cx="515.3" cy="328.8" r="2.2" fill="#bcbd22" fill-opacity="0.55"/>
<circle cx="512.5" cy="342.4" r="2.2" fill="#bcbd22" fill-opacity="0.55"/>
<circle cx="516.5" cy="365.8" r="2.2" fill="#bcbd22" fill-opacity="0.55"/>
<circle cx="512.6" cy="353.8" r="2.2" fill="#bcbd22" fill-opacity="0.55"/>
<circle cx="513.9" cy="364.2" r="2.2" fill="#bcbd22" fill-opacity="0.55"/>
<circle cx="517.1" cy="321.1" r="2.2" fill="#bcbd22" fill-opacity="0.55"/>
<circle cx="512.8" cy="323.5" r="2.2" fill="#bcbd22" fill-opacity="0.55"/>
<circle cx="513.1" cy="326.7" r="2.2" fill="#bcbd22" fill-opacity="0.55"/>
<circle cx="517.9" cy="348.6" r="2.2" fill="#bcbd22" fill-opacity="0.55"/>
<circle cx="514.7" cy="338.3" r="2.2" fill="#bcbd22" fill-opacity="0.55"/>
<circle cx="517.6" cy="333.8" r="2.2" fill="#bcbd22" fill-opacity="0.55"/>
<circle cx="518.5" cy="328.1" r="2.2" fill="#bcbd22" fill-opacity="0.55"/>
<circle cx="511.4" cy="318.0" r="2.2" fill="#bcbd22" fill-opacity="0.55"/>
<circle cx="512.0" cy="363.6" r="2.2" fill="#bcbd22" fill-opacity="0.55"/>
<circle cx="518.4" cy="331.7" r="2.2" fill="#bcbd22" fill-opacity="0.55"/>
<circle cx="513.3" cy="322.3" r="2.2" fill="#bcbd22" fill-opacity="0.55"/>
<circle cx="513.0" cy="323.8" r="2.2" fill="#bcbd22" fill-opacity="0.55"/>
<circle cx="515.0" cy="339.0" r="2.2" fill="#bcbd22" fill-opacity="0.55"/>
<circle cx="513.4" cy="352.9" r="2.2" fill="#bcbd22" fill-opacity="0.55"/>
<circle cx="518.5" cy="348.4" r="2.2" fill="#bcbd22" fill-opacity="0.55"/>
<circle cx="517.2" cy="343.9" r="2.2" fill="#bcbd22" fill-opacity="0.55"/>
<circle cx="512.1" cy="330.5" r="2.2" fill="#bcbd22" fill-opacity="0.55"/>
<circle cx="511.8" cy="340.0" r="2.2" fill="#bcbd22" fill-opacity="0.55"/>
<circle cx="512.7" cy="365.4" r="2.2" fill="#bcbd22" fill-opacity="0.55"/>
<circle cx="513.2" cy="325.4" r="2.2" fill="#bcbd22" fill-opacity="0.55"/>
<circle cx="512.1" cy="337.6" r="2.2" fill="#bcbd22" fill-opacity="0.55"/>
<circle cx="517.7" cy="335.5" r="2.2" fill="#bcbd22" fill-opacity="0.55"/>
<circle cx="515.6" cy="333.7" r="2.2" fill="#bcbd22" fill-opacity="0.55"/>
<circle cx="518.4" cy="333.1" r="2.2" fill="#bcbd22" fill-opacity="0.55"/>
<circle cx="511.1" cy="328.0" r="2.2" fill="#bcbd22" fill-opacity="0.55"/>
<circle cx="516.0" cy="326.5" r="2.2" fill="#bcbd22" fill-opacity="0.55"/>
<circle cx="515.5" cy="345.8" r="2.2" fill="#bcbd22" fill-opacity="0.55"/>
<circle cx="517.5" cy="328.0" r="2.2" fill="#bcbd22" fill-opacity="0.55"/>
<circle cx="511.2" cy="318.7" r="2.2" fill="#bcbd22" fill-opacity="0.55"/>
<circle cx="516.9" cy="318.4" r="2.2" fill="#bcbd22" fill-opacity="0.55"/>
<circle cx="517.3" cy="364.6" r="2.2" fill="#bcbd22" fill-opacity="0.55"/>
<circle cx="512.7" cy="344.7" r="2.2" fill="#bcbd22" fill-opacity="0.55"/>
<circle cx="516.0" cy="345.7" r="2.2" fill="#bcbd22" fill-opacity="0.55"/>
<circle cx="513.2" cy="350.5" r="2.2" fill="#bcbd22" fill-opacity="0.55"/>
<circle cx="511.8" cy="353.1" r="2.2" fill="#bcbd22" fill-opacity="0.55"/>
<circle cx="518.5" cy="332.7" r="2.2" fill="#bcbd22" fill-opacity="0.55"/>
<circle cx="512.3" cy="332.5" r="2.2" fill="#bcbd22" fill-opacity="0.55"/>
<circle cx="516.3" cy="332.1" r="2.2" fill="#bcbd22" fill-opacity="0.55"/>
<circle cx="516.3" cy="331.1" r="2.2" fill="#bcbd22" fill-opacity="0.55"/>
<circle cx="512.1" cy="342.5" r="2.2" fill="#bcbd22" fill-opacity="0.55"/>
<circle cx="511.4" cy="329.8" r="2.2" fill="#bcbd22" fill-opacity="0.55"/>
<circle cx="514.8" cy="327.1" r="2.2" fill="#bcbd22" fill-opacity="0.55"/>
<circle cx="512.0" cy="326.7" r="2.2" fill="#bcbd22" fill-opacity="0.55"/>
<circle cx="511.0" cy="331.9" r="2.2" fill="#bcbd22" fill-opacity="0.55"/>
<circle cx="514.0" cy="348.3" r="2.2" fill="#bcbd22" fill-opacity="0.55"/>
<circle cx="516.6" cy="330.4" r="2.2" fill="#bcbd22" fill-opacity="0.55"/>
<circle cx="516.2" cy="327.8" r="2.2" fill="#bcbd22" fill-opacity="0.55"/>
<circle cx="510.7" cy="322.8" r="2.2" fill="#bcbd22" fill-opacity="0.55"/>
<circle cx="518.2" cy="331.8" r="2.2" fill="#bcbd22" fill-opacity="0.55"/>
<circle cx="518.2" cy="329.0" r="2.2" fill="#bcbd22" fill-opacity="0.55"/>
<circle cx="512.4" cy="365.4" r="2.2" fill="#bcbd22" fill-opacity="0.55"/>
<circle cx="514.3" cy="328.7" r="2.2" fill="#bcbd22" fill-opacity="0.55"/>
<circle cx="513.0" cy="337.9" r="2.2" fill="#bcbd22" fill-opacity="0.55"/>
<circle cx="516.2" cy="326.3" r="2.2" fill="#bcbd22" fill-opacity="0.55"/>
<circle cx="510.8" cy="330.0" r="2.2" fill="#bcbd22" fill-opacity="0.55"/>
<circle cx="513.2" cy="332.0" r="2.2" fill="#bcbd22" fill-opacity="0.55"/>
<circle cx="514.1" cy="316.7" r="2.2" fill="#bcbd22" fill-opacity="0.55"/>
<circle cx="514.1" cy="376.5" r="2.2" fill="#bcbd22" fill-opacity="0.55"/>
<circle cx="512.1" cy="383.8" r="2.2" fill="#bcbd22" fill-opacity="0.55"/>
<polyline points="471.2,295.5 471.2,398.5 531.0,398.5" fill="none" stroke="#4d4d4d" stroke-width="1"/>
<line x1="469.4" y1="304.1" x2="471.2" y2="304.1" stroke="#4d4d4d" stroke-width="0.8"/>
<text transform="translate(469.00,307.40) scale(1,1.08)" font-size="9.1" fill="#3d3d3d" text-anchor="end" stroke="#3d3d3d" stroke-width="0.18">1.0</text>
<line x1="469.4" y1="322.1" x2="471.2" y2="322.1" stroke="#4d4d4d" stroke-width="0.8"/>
<text transform="translate(469.00,325.40) scale(1,1.08)" font-size="9.1" fill="#3d3d3d" text-anchor="end" stroke="#3d3d3d" stroke-width="0.18">0.5</text>
<line x1="469.4" y1="339.9" x2="471.2" y2="339.9" stroke="#4d4d4d" stroke-width="0.8"/>
<text transform="translate(469.00,343.20) scale(1,1.08)" font-size="9.1" fill="#3d3d3d" text-anchor="end" stroke="#3d3d3d" stroke-width="0.18">0.0</text>
<line x1="469.4" y1="359.1" x2="471.2" y2="359.1" stroke="#4d4d4d" stroke-width="0.8"/>
<text transform="translate(469.00,362.40) scale(1,1.08)" font-size="9.1" fill="#3d3d3d" text-anchor="end" stroke="#3d3d3d" stroke-width="0.18">−0.5</text>
<line x1="469.4" y1="377.2" x2="471.2" y2="377.2" stroke="#4d4d4d" stroke-width="0.8"/>
<text transform="translate(469.00,380.50) scale(1,1.08)" font-size="9.1" fill="#3d3d3d" text-anchor="end" stroke="#3d3d3d" stroke-width="0.18">−1.0</text>
<line x1="469.4" y1="395.2" x2="471.2" y2="395.2" stroke="#4d4d4d" stroke-width="0.8"/>
<text transform="translate(469.00,398.50) scale(1,1.08)" font-size="9.1" fill="#3d3d3d" text-anchor="end" stroke="#3d3d3d" stroke-width="0.18">−1.5</text>
<line x1="487.9" y1="398.5" x2="487.9" y2="400.1" stroke="#4d4d4d" stroke-width="0.8"/>
<text transform="translate(487.90,406.90) scale(1,1.1)" font-size="9.0" fill="#3d3d3d" text-anchor="middle" stroke="#3d3d3d" stroke-width="0.18">M</text>
<line x1="514.7" y1="398.5" x2="514.7" y2="400.1" stroke="#4d4d4d" stroke-width="0.8"/>
<text transform="translate(514.70,406.90) scale(1,1.1)" font-size="9.0" fill="#3d3d3d" text-anchor="middle" stroke="#3d3d3d" stroke-width="0.18">V</text>
<text x="501.10" y="310.30" font-size="10.0" fill="#000" text-anchor="middle" stroke="#000" stroke-width="0.25">0.0026</text>
<polyline points="487.9,313.2 487.9,311.3 514.7,311.3 514.7,313.2" fill="none" stroke="#444" stroke-width="0.8"/>
<rect x="563.6" y="87.3" width="64.60000000000002" height="237.7" fill="#fff"/>
<line x1="563.6" y1="102.6" x2="628.2" y2="102.6" stroke="#d8d8d8" stroke-width="0.6" stroke-dasharray="1,1.2"/>
<line x1="563.6" y1="128.4" x2="628.2" y2="128.4" stroke="#d8d8d8" stroke-width="0.6" stroke-dasharray="1,1.2"/>
<line x1="563.6" y1="154.2" x2="628.2" y2="154.2" stroke="#d8d8d8" stroke-width="0.6" stroke-dasharray="1,1.2"/>
<line x1="563.6" y1="180.1" x2="628.2" y2="180.1" stroke="#d8d8d8" stroke-width="0.6" stroke-dasharray="1,1.2"/>
<line x1="563.6" y1="205.9" x2="628.2" y2="205.9" stroke="#d8d8d8" stroke-width="0.6" stroke-dasharray="1,1.2"/>
<line x1="563.6" y1="231.7" x2="628.2" y2="231.7" stroke="#d8d8d8" stroke-width="0.6" stroke-dasharray="1,1.2"/>
<line x1="563.6" y1="257.5" x2="628.2" y2="257.5" stroke="#d8d8d8" stroke-width="0.6" stroke-dasharray="1,1.2"/>
<line x1="563.6" y1="283.3" x2="628.2" y2="283.3" stroke="#d8d8d8" stroke-width="0.6" stroke-dasharray="1,1.2"/>
<line x1="563.6" y1="309.2" x2="628.2" y2="309.2" stroke="#d8d8d8" stroke-width="0.6" stroke-dasharray="1,1.2"/>
<line x1="581.1" y1="87.3" x2="581.1" y2="325.0" stroke="#d8d8d8" stroke-width="0.6" stroke-dasharray="1,1.2"/>
<line x1="610.5" y1="87.3" x2="610.5" y2="325.0" stroke="#d8d8d8" stroke-width="0.6" stroke-dasharray="1,1.2"/>
<circle cx="610.5" cy="102.6" r="13.6" fill="#f3d56b" stroke="#f0cf5a" stroke-width="0.8"/>
<circle cx="610.5" cy="128.4" r="12.3" fill="#f2d25f" stroke="#f0cf5a" stroke-width="0.8"/>
<circle cx="610.5" cy="154.2" r="10.3" fill="#fdf0cc" stroke="#f4d980" stroke-width="0.8"/>
<circle cx="610.5" cy="180.1" r="10.3" fill="#fdf0cc" stroke="#f4d980" stroke-width="0.8"/>
<circle cx="610.5" cy="205.9" r="9.2" fill="#fbe6a8" stroke="#f4d980" stroke-width="0.8"/>
<circle cx="610.5" cy="231.7" r="8.4" fill="#f2d160" stroke="#efcd55" stroke-width="0.8"/>
<circle cx="610.5" cy="257.5" r="8.2" fill="#fcecc0" stroke="#f4d980" stroke-width="0.8"/>
<circle cx="581.2" cy="283.3" r="8.3" fill="#e6d8f5" stroke="#b48ee6" stroke-width="0.8"/>
<circle cx="581.2" cy="309.2" r="6.1" fill="#cdaeef" stroke="#9f72e0" stroke-width="0.8"/>
<polyline points="563.6,87.3 628.2,87.3 628.2,325.0" fill="none" stroke="#9a9a9a" stroke-width="0.9"/>
<polyline points="563.6,87.3 563.6,325.0 628.2,325.0" fill="none" stroke="#4d4d4d" stroke-width="1"/>
<rect x="546.6" y="95.7" width="13.9" height="13.7" rx="2.4" fill="#fff" stroke="#333" stroke-width="0.8"/>
<text x="553.55" y="106.30" font-size="10.3" fill="#000" text-anchor="middle" font-weight="bold">1</text>
<line x1="561.1" y1="102.6" x2="563.6" y2="102.6" stroke="#4d4d4d" stroke-width="0.8"/>
<rect x="546.6" y="121.5" width="13.9" height="13.7" rx="2.4" fill="#fff" stroke="#333" stroke-width="0.8"/>
<text x="553.55" y="132.12" font-size="10.3" fill="#000" text-anchor="middle" font-weight="bold">2</text>
<line x1="561.1" y1="128.4" x2="563.6" y2="128.4" stroke="#4d4d4d" stroke-width="0.8"/>
<rect x="546.6" y="147.3" width="13.9" height="13.7" rx="2.4" fill="#fff" stroke="#333" stroke-width="0.8"/>
<text x="553.55" y="157.94" font-size="10.3" fill="#000" text-anchor="middle" font-weight="bold">3</text>
<line x1="561.1" y1="154.2" x2="563.6" y2="154.2" stroke="#4d4d4d" stroke-width="0.8"/>
<rect x="546.6" y="173.2" width="13.9" height="13.7" rx="2.4" fill="#fff" stroke="#333" stroke-width="0.8"/>
<text x="553.55" y="183.76" font-size="10.3" fill="#000" text-anchor="middle" font-weight="bold">4</text>
<line x1="561.1" y1="180.1" x2="563.6" y2="180.1" stroke="#4d4d4d" stroke-width="0.8"/>
<rect x="546.6" y="199.0" width="13.9" height="13.7" rx="2.4" fill="#fff" stroke="#333" stroke-width="0.8"/>
<text x="553.55" y="209.58" font-size="10.3" fill="#000" text-anchor="middle" font-weight="bold">5</text>
<line x1="561.1" y1="205.9" x2="563.6" y2="205.9" stroke="#4d4d4d" stroke-width="0.8"/>
<rect x="546.6" y="224.8" width="13.9" height="13.7" rx="2.4" fill="#fff" stroke="#333" stroke-width="0.8"/>
<text x="553.55" y="235.40" font-size="10.3" fill="#000" text-anchor="middle" font-weight="bold">6</text>
<line x1="561.1" y1="231.7" x2="563.6" y2="231.7" stroke="#4d4d4d" stroke-width="0.8"/>
<rect x="546.6" y="250.6" width="13.9" height="13.7" rx="2.4" fill="#fff" stroke="#333" stroke-width="0.8"/>
<text x="553.55" y="261.22" font-size="10.3" fill="#000" text-anchor="middle" font-weight="bold">7</text>
<line x1="561.1" y1="257.5" x2="563.6" y2="257.5" stroke="#4d4d4d" stroke-width="0.8"/>
<rect x="546.6" y="276.4" width="13.9" height="13.7" rx="2.4" fill="#fff" stroke="#333" stroke-width="0.8"/>
<text x="553.55" y="287.04" font-size="10.3" fill="#000" text-anchor="middle" font-weight="bold">8</text>
<line x1="561.1" y1="283.3" x2="563.6" y2="283.3" stroke="#4d4d4d" stroke-width="0.8"/>
<rect x="546.6" y="302.3" width="13.9" height="13.7" rx="2.4" fill="#fff" stroke="#333" stroke-width="0.8"/>
<text x="553.55" y="312.86" font-size="10.3" fill="#000" text-anchor="middle" font-weight="bold">9</text>
<line x1="561.1" y1="309.2" x2="563.6" y2="309.2" stroke="#4d4d4d" stroke-width="0.8"/>
<text transform="translate(584.6,328.3) rotate(-90)" font-size="8.4" fill="#3d3d3d" text-anchor="end">DOWN</text>
<text transform="translate(613.9,328.3) rotate(-90)" font-size="8.4" fill="#3d3d3d" text-anchor="end">UP</text>
<text transform="translate(563.4,78.8) scale(1,1.07)" font-size="10.55">−Log<tspan font-size="7.2" dy="2">10</tspan><tspan dy="-2"> (adjusted </tspan><tspan font-style="italic">P</tspan>-value)</text>
<circle cx="655" cy="90.2" r="0.8" fill="#333"/>
<circle cx="655.1" cy="106.4" r="9.2" fill="none" stroke="#444" stroke-width="0.8"/>
<circle cx="655.1" cy="134.4" r="12.7" fill="none" stroke="#444" stroke-width="0.8"/>
<circle cx="655.1" cy="170.2" r="15.2" fill="none" stroke="#444" stroke-width="0.8"/>
<circle cx="655.1" cy="212.7" r="17.5" fill="none" stroke="#444" stroke-width="0.8"/>
<text transform="translate(680.40,93.40) scale(1,1.06)" font-size="8.6" fill="#1a1a1a" text-anchor="start" >1</text>
<text transform="translate(680.40,109.60) scale(1,1.06)" font-size="8.6" fill="#1a1a1a" text-anchor="start" >2</text>
<text transform="translate(680.40,137.60) scale(1,1.06)" font-size="8.6" fill="#1a1a1a" text-anchor="start" >3</text>
<text transform="translate(680.40,173.80) scale(1,1.06)" font-size="8.6" fill="#1a1a1a" text-anchor="start" >4</text>
<text transform="translate(680.40,216.20) scale(1,1.06)" font-size="8.6" fill="#1a1a1a" text-anchor="start" >5</text>
<text x="639.2" y="250.9" font-size="10.6">Log<tspan font-size="7.6" dy="1.5">2</tspan><tspan dy="-1.5"> FC</tspan></text>
<defs><linearGradient id="cg" x1="0" y1="0" x2="0" y2="1"><stop offset="0" stop-color="#efc42c"/><stop offset="0.25" stop-color="#f8e3a2"/><stop offset="0.5" stop-color="#ffffff"/><stop offset="0.75" stop-color="#d2b8f0"/><stop offset="1" stop-color="#7a2cd2"/></linearGradient></defs>
<rect x="637.4" y="258.7" width="11.9" height="62.2" fill="url(#cg)"/>
<line x1="637.4" y1="259.2" x2="639.6" y2="259.2" stroke="#fff" stroke-width="0.6"/>
<line x1="647.1" y1="259.2" x2="649.3" y2="259.2" stroke="#fff" stroke-width="0.6"/>
<text transform="translate(653.60,262.30) scale(1,1.06)" font-size="8.5" fill="#1a1a1a" text-anchor="start" >0.4</text>
<line x1="637.4" y1="274.8" x2="639.6" y2="274.8" stroke="#fff" stroke-width="0.6"/>
<line x1="647.1" y1="274.8" x2="649.3" y2="274.8" stroke="#fff" stroke-width="0.6"/>
<text transform="translate(653.60,277.90) scale(1,1.06)" font-size="8.5" fill="#1a1a1a" text-anchor="start" >0.2</text>
<line x1="637.4" y1="290.4" x2="639.6" y2="290.4" stroke="#fff" stroke-width="0.6"/>
<line x1="647.1" y1="290.4" x2="649.3" y2="290.4" stroke="#fff" stroke-width="0.6"/>
<text transform="translate(653.60,293.50) scale(1,1.06)" font-size="8.5" fill="#1a1a1a" text-anchor="start" >0.0</text>
<line x1="637.4" y1="306.0" x2="639.6" y2="306.0" stroke="#fff" stroke-width="0.6"/>
<line x1="647.1" y1="306.0" x2="649.3" y2="306.0" stroke="#fff" stroke-width="0.6"/>
<text transform="translate(653.60,309.10) scale(1,1.06)" font-size="8.5" fill="#1a1a1a" text-anchor="start" >−0.2</text>
<line x1="637.4" y1="321.3" x2="639.6" y2="321.3" stroke="#fff" stroke-width="0.6"/>
<line x1="647.1" y1="321.3" x2="649.3" y2="321.3" stroke="#fff" stroke-width="0.6"/>
<text transform="translate(653.60,324.40) scale(1,1.06)" font-size="8.5" fill="#1a1a1a" text-anchor="start" >−0.4</text>
</svg></body></html>
